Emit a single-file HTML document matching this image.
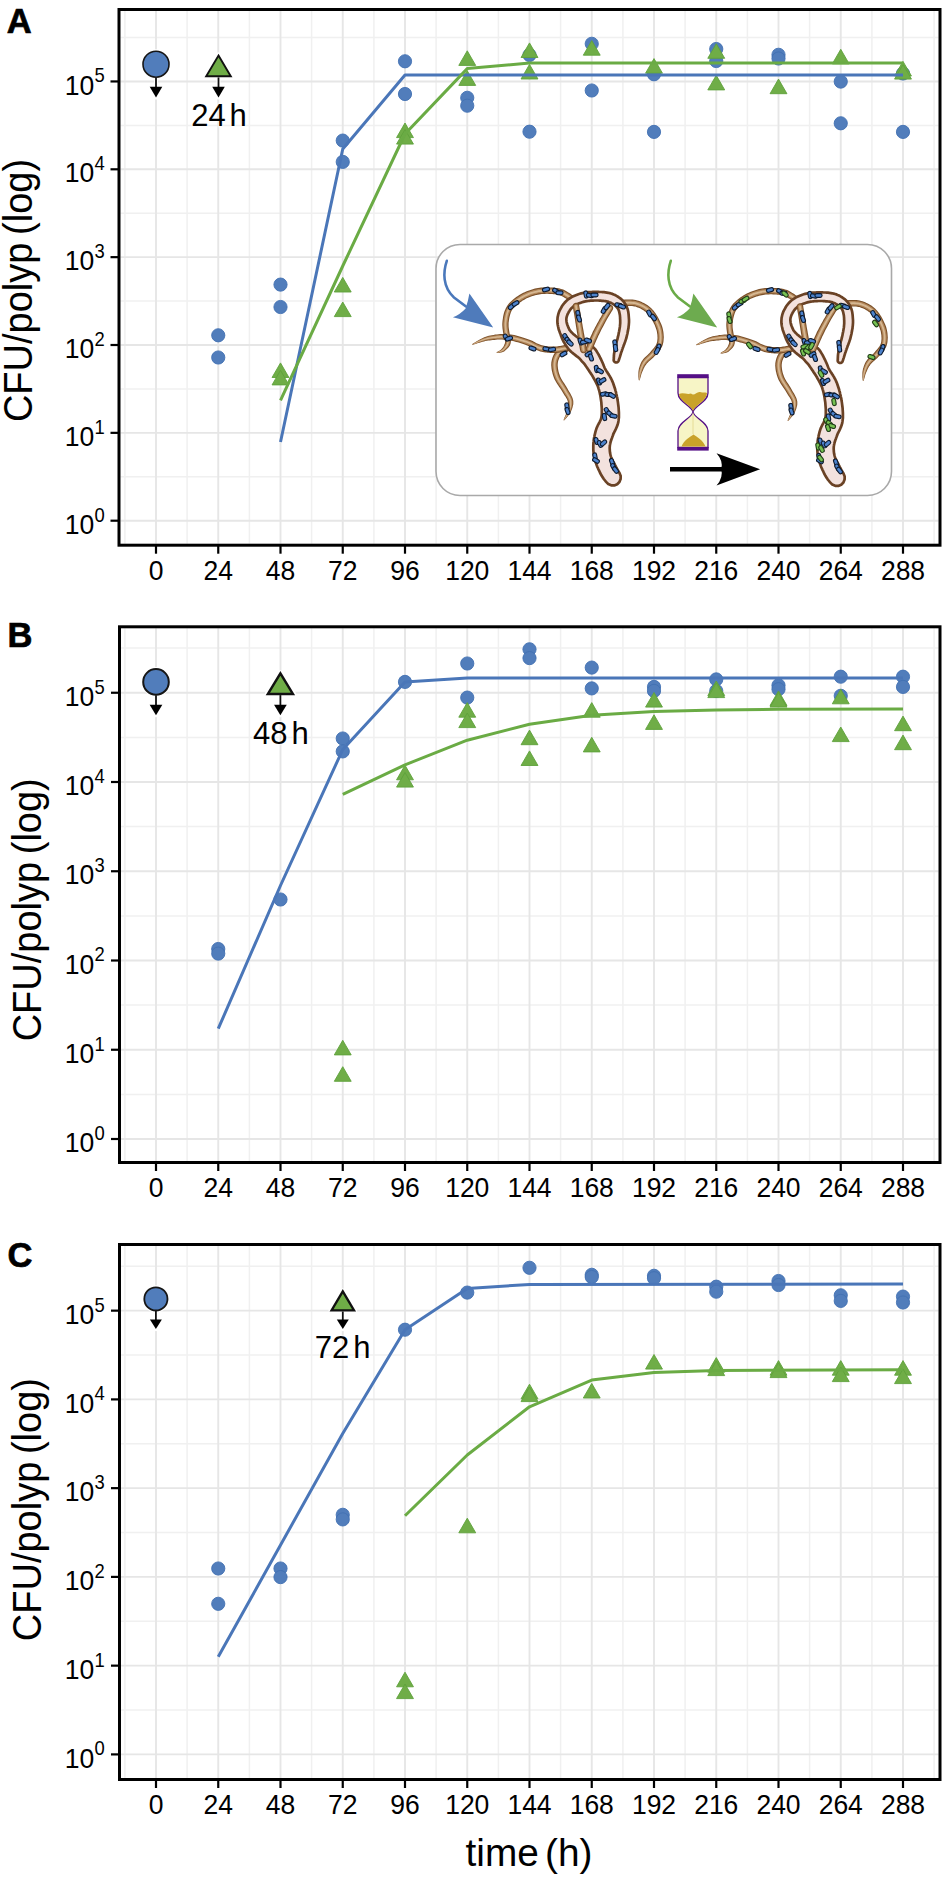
<!DOCTYPE html>
<html><head><meta charset="utf-8"><title>CFU/polyp over time</title>
<style>
html,body{margin:0;padding:0;background:#fff;}
body{width:945px;height:1878px;overflow:hidden;}
svg{display:block;font-family:"Liberation Sans",sans-serif;}
.gM{stroke:#e6e6e6;stroke-width:1.9;}
.gm{stroke:#f0f0f0;stroke-width:1.5;}
.pc{fill:#517dbb;stroke:#4270b2;stroke-width:0.9;}
.pt{fill:#6fad47;stroke:#5fa23b;stroke-width:0.9;stroke-linejoin:round;}
.yl{font-size:28.5px;fill:#000;}
.ys{font-size:19.8px;fill:#000;}
.xl{font-size:28.5px;fill:#000;}
.lt{fill:#000;stroke:#fff;stroke-width:2.5px;paint-order:stroke;stroke-opacity:0.6;}
.pl{font-size:34.5px;font-weight:bold;fill:#000;stroke:#000;stroke-width:0.7px;}
.yt{font-size:40px;fill:#000;}
.xt{font-size:38.8px;fill:#000;}
</style></head>
<body>
<svg width="945" height="1878" viewBox="0 0 945 1878">
<rect width="945" height="1878" fill="#fff"/>
<line x1="124.88" y1="11" x2="124.88" y2="543.7" class="gm"/>
<line x1="187.12" y1="11" x2="187.12" y2="543.7" class="gm"/>
<line x1="249.38" y1="11" x2="249.38" y2="543.7" class="gm"/>
<line x1="311.62" y1="11" x2="311.62" y2="543.7" class="gm"/>
<line x1="373.88" y1="11" x2="373.88" y2="543.7" class="gm"/>
<line x1="436.12" y1="11" x2="436.12" y2="543.7" class="gm"/>
<line x1="498.38" y1="11" x2="498.38" y2="543.7" class="gm"/>
<line x1="560.62" y1="11" x2="560.62" y2="543.7" class="gm"/>
<line x1="622.88" y1="11" x2="622.88" y2="543.7" class="gm"/>
<line x1="685.12" y1="11" x2="685.12" y2="543.7" class="gm"/>
<line x1="747.38" y1="11" x2="747.38" y2="543.7" class="gm"/>
<line x1="809.62" y1="11" x2="809.62" y2="543.7" class="gm"/>
<line x1="871.88" y1="11" x2="871.88" y2="543.7" class="gm"/>
<line x1="934.12" y1="11" x2="934.12" y2="543.7" class="gm"/>
<line x1="120.5" y1="476.78" x2="938.5" y2="476.78" class="gm"/>
<line x1="120.5" y1="388.93" x2="938.5" y2="388.93" class="gm"/>
<line x1="120.5" y1="301.08" x2="938.5" y2="301.08" class="gm"/>
<line x1="120.5" y1="213.23" x2="938.5" y2="213.23" class="gm"/>
<line x1="120.5" y1="125.38" x2="938.5" y2="125.38" class="gm"/>
<line x1="120.5" y1="37.53" x2="938.5" y2="37.53" class="gm"/>
<line x1="156" y1="11" x2="156" y2="543.7" class="gM"/>
<line x1="218.25" y1="11" x2="218.25" y2="543.7" class="gM"/>
<line x1="280.5" y1="11" x2="280.5" y2="543.7" class="gM"/>
<line x1="342.75" y1="11" x2="342.75" y2="543.7" class="gM"/>
<line x1="405" y1="11" x2="405" y2="543.7" class="gM"/>
<line x1="467.25" y1="11" x2="467.25" y2="543.7" class="gM"/>
<line x1="529.5" y1="11" x2="529.5" y2="543.7" class="gM"/>
<line x1="591.75" y1="11" x2="591.75" y2="543.7" class="gM"/>
<line x1="654" y1="11" x2="654" y2="543.7" class="gM"/>
<line x1="716.25" y1="11" x2="716.25" y2="543.7" class="gM"/>
<line x1="778.5" y1="11" x2="778.5" y2="543.7" class="gM"/>
<line x1="840.75" y1="11" x2="840.75" y2="543.7" class="gM"/>
<line x1="903" y1="11" x2="903" y2="543.7" class="gM"/>
<line x1="120.5" y1="520.7" x2="938.5" y2="520.7" class="gM"/>
<line x1="120.5" y1="432.85" x2="938.5" y2="432.85" class="gM"/>
<line x1="120.5" y1="345" x2="938.5" y2="345" class="gM"/>
<line x1="120.5" y1="257.15" x2="938.5" y2="257.15" class="gM"/>
<line x1="120.5" y1="169.3" x2="938.5" y2="169.3" class="gM"/>
<line x1="120.5" y1="81.45" x2="938.5" y2="81.45" class="gM"/>
<g class="leg">
<g fill="#fff" stroke="#fff" stroke-width="4" stroke-linejoin="round">
<line x1="156" y1="77.8" x2="156" y2="87.8"/>
<path d="M149.7 86.8 L162.3 86.8 L156 97.5 Z"/>
<circle cx="156" cy="64.2" r="13"/>
<line x1="218.5" y1="77.4" x2="218.5" y2="87.8"/>
<path d="M212.2 86.8 L224.8 86.8 L218.5 97.5 Z"/>
<path d="M218.5 55.5 L230.8 76.2 L206.2 76.2 Z" stroke-width="6"/>
</g>
<line x1="156" y1="77.8" x2="156" y2="87.8" stroke="#111" stroke-width="1.8"/>
<path d="M149.7 86.8 L162.3 86.8 L156 97.5 Z" fill="#000"/>
<circle cx="156" cy="64.2" r="13" fill="#517dbb" stroke="#161616" stroke-width="1.6"/>
<line x1="218.5" y1="77.4" x2="218.5" y2="87.8" stroke="#111" stroke-width="1.8"/>
<path d="M212.2 86.8 L224.8 86.8 L218.5 97.5 Z" fill="#000"/>
<path d="M218.5 55.5 L230.8 76.2 L206.2 76.2 Z" fill="#6fad47" stroke="#111" stroke-width="1.9" stroke-linejoin="miter"/>
<text x="191.2" y="126.4" class="lt" font-size="31">24</text>
<text x="229.5" y="126.4" class="lt" font-size="31">h</text>
</g>
<circle cx="218.25" cy="335.3" r="6.6" class="pc"/>
<circle cx="218.25" cy="357.5" r="6.6" class="pc"/>
<circle cx="280.5" cy="284.6" r="6.6" class="pc"/>
<circle cx="280.5" cy="307" r="6.6" class="pc"/>
<circle cx="342.75" cy="140.6" r="6.6" class="pc"/>
<circle cx="342.75" cy="161.9" r="6.6" class="pc"/>
<circle cx="405" cy="61.3" r="6.6" class="pc"/>
<circle cx="405" cy="94" r="6.6" class="pc"/>
<circle cx="467.25" cy="97.8" r="6.6" class="pc"/>
<circle cx="467.25" cy="105.7" r="6.6" class="pc"/>
<circle cx="529.5" cy="55" r="6.6" class="pc"/>
<circle cx="529.5" cy="131.7" r="6.6" class="pc"/>
<circle cx="591.75" cy="43.8" r="6.6" class="pc"/>
<circle cx="591.75" cy="90.5" r="6.6" class="pc"/>
<circle cx="654" cy="74.3" r="6.6" class="pc"/>
<circle cx="654" cy="131.9" r="6.6" class="pc"/>
<circle cx="716.25" cy="49" r="6.6" class="pc"/>
<circle cx="716.25" cy="61" r="6.6" class="pc"/>
<circle cx="778.5" cy="54.8" r="6.6" class="pc"/>
<circle cx="778.5" cy="58.5" r="6.6" class="pc"/>
<circle cx="840.75" cy="81.6" r="6.6" class="pc"/>
<circle cx="840.75" cy="123.3" r="6.6" class="pc"/>
<circle cx="903" cy="73.5" r="6.6" class="pc"/>
<circle cx="903" cy="131.9" r="6.6" class="pc"/>
<path d="M280.5 362.9 L288.95 377.5 L272.05 377.5 Z" class="pt"/>
<path d="M280.5 370.3 L288.95 384.9 L272.05 384.9 Z" class="pt"/>
<path d="M342.75 277.4 L351.2 292 L334.3 292 Z" class="pt"/>
<path d="M342.75 302 L351.2 316.6 L334.3 316.6 Z" class="pt"/>
<path d="M405 123 L413.45 137.6 L396.55 137.6 Z" class="pt"/>
<path d="M405 129.5 L413.45 144.1 L396.55 144.1 Z" class="pt"/>
<path d="M467.25 50.8 L475.7 65.4 L458.8 65.4 Z" class="pt"/>
<path d="M467.25 70.8 L475.7 85.4 L458.8 85.4 Z" class="pt"/>
<path d="M529.5 42.9 L537.95 57.5 L521.05 57.5 Z" class="pt"/>
<path d="M529.5 64.4 L537.95 79 L521.05 79 Z" class="pt"/>
<path d="M591.75 40.6 L600.2 55.2 L583.3 55.2 Z" class="pt"/>
<path d="M654 58.6 L662.45 73.2 L645.55 73.2 Z" class="pt"/>
<path d="M716.25 43.7 L724.7 58.3 L707.8 58.3 Z" class="pt"/>
<path d="M716.25 75.3 L724.7 89.9 L707.8 89.9 Z" class="pt"/>
<path d="M778.5 79.1 L786.95 93.7 L770.05 93.7 Z" class="pt"/>
<path d="M840.75 49.3 L849.2 63.9 L832.3 63.9 Z" class="pt"/>
<path d="M903 61.4 L911.45 76 L894.55 76 Z" class="pt"/>
<path d="M903 64.5 L911.45 79.1 L894.55 79.1 Z" class="pt"/>
<polyline points="280.5,442 342.75,149 405,75 903,75" fill="none" stroke="#4a76b8" stroke-width="3" stroke-linejoin="round"/>
<polyline points="280.5,400.4 342.75,266 405,134 467.25,68.6 529.5,63 903,63" fill="none" stroke="#6aab44" stroke-width="3" stroke-linejoin="round"/>
<rect x="119" y="9.5" width="821" height="535.7" fill="none" stroke="#000" stroke-width="3"/>
<line x1="110.5" y1="520.7" x2="119" y2="520.7" stroke="#000" stroke-width="2.2"/>
<text transform="translate(94.3 533.8) scale(0.93 1)" class="yl" text-anchor="end">10</text>
<text transform="translate(94.4 521.6) scale(0.93 1)" class="ys">0</text>
<line x1="110.5" y1="432.85" x2="119" y2="432.85" stroke="#000" stroke-width="2.2"/>
<text transform="translate(94.3 445.95) scale(0.93 1)" class="yl" text-anchor="end">10</text>
<text transform="translate(94.4 433.75) scale(0.93 1)" class="ys">1</text>
<line x1="110.5" y1="345" x2="119" y2="345" stroke="#000" stroke-width="2.2"/>
<text transform="translate(94.3 358.1) scale(0.93 1)" class="yl" text-anchor="end">10</text>
<text transform="translate(94.4 345.9) scale(0.93 1)" class="ys">2</text>
<line x1="110.5" y1="257.15" x2="119" y2="257.15" stroke="#000" stroke-width="2.2"/>
<text transform="translate(94.3 270.25) scale(0.93 1)" class="yl" text-anchor="end">10</text>
<text transform="translate(94.4 258.05) scale(0.93 1)" class="ys">3</text>
<line x1="110.5" y1="169.3" x2="119" y2="169.3" stroke="#000" stroke-width="2.2"/>
<text transform="translate(94.3 182.4) scale(0.93 1)" class="yl" text-anchor="end">10</text>
<text transform="translate(94.4 170.2) scale(0.93 1)" class="ys">4</text>
<line x1="110.5" y1="81.45" x2="119" y2="81.45" stroke="#000" stroke-width="2.2"/>
<text transform="translate(94.3 94.55) scale(0.93 1)" class="yl" text-anchor="end">10</text>
<text transform="translate(94.4 82.35) scale(0.93 1)" class="ys">5</text>
<line x1="156" y1="545.2" x2="156" y2="553.7" stroke="#000" stroke-width="2.2"/>
<text transform="translate(156 579.9) scale(0.93 1)" class="xl" text-anchor="middle">0</text>
<line x1="218.25" y1="545.2" x2="218.25" y2="553.7" stroke="#000" stroke-width="2.2"/>
<text transform="translate(218.25 579.9) scale(0.93 1)" class="xl" text-anchor="middle">24</text>
<line x1="280.5" y1="545.2" x2="280.5" y2="553.7" stroke="#000" stroke-width="2.2"/>
<text transform="translate(280.5 579.9) scale(0.93 1)" class="xl" text-anchor="middle">48</text>
<line x1="342.75" y1="545.2" x2="342.75" y2="553.7" stroke="#000" stroke-width="2.2"/>
<text transform="translate(342.75 579.9) scale(0.93 1)" class="xl" text-anchor="middle">72</text>
<line x1="405" y1="545.2" x2="405" y2="553.7" stroke="#000" stroke-width="2.2"/>
<text transform="translate(405 579.9) scale(0.93 1)" class="xl" text-anchor="middle">96</text>
<line x1="467.25" y1="545.2" x2="467.25" y2="553.7" stroke="#000" stroke-width="2.2"/>
<text transform="translate(467.25 579.9) scale(0.93 1)" class="xl" text-anchor="middle">120</text>
<line x1="529.5" y1="545.2" x2="529.5" y2="553.7" stroke="#000" stroke-width="2.2"/>
<text transform="translate(529.5 579.9) scale(0.93 1)" class="xl" text-anchor="middle">144</text>
<line x1="591.75" y1="545.2" x2="591.75" y2="553.7" stroke="#000" stroke-width="2.2"/>
<text transform="translate(591.75 579.9) scale(0.93 1)" class="xl" text-anchor="middle">168</text>
<line x1="654" y1="545.2" x2="654" y2="553.7" stroke="#000" stroke-width="2.2"/>
<text transform="translate(654 579.9) scale(0.93 1)" class="xl" text-anchor="middle">192</text>
<line x1="716.25" y1="545.2" x2="716.25" y2="553.7" stroke="#000" stroke-width="2.2"/>
<text transform="translate(716.25 579.9) scale(0.93 1)" class="xl" text-anchor="middle">216</text>
<line x1="778.5" y1="545.2" x2="778.5" y2="553.7" stroke="#000" stroke-width="2.2"/>
<text transform="translate(778.5 579.9) scale(0.93 1)" class="xl" text-anchor="middle">240</text>
<line x1="840.75" y1="545.2" x2="840.75" y2="553.7" stroke="#000" stroke-width="2.2"/>
<text transform="translate(840.75 579.9) scale(0.93 1)" class="xl" text-anchor="middle">264</text>
<line x1="903" y1="545.2" x2="903" y2="553.7" stroke="#000" stroke-width="2.2"/>
<text transform="translate(903 579.9) scale(0.93 1)" class="xl" text-anchor="middle">288</text>
<text x="6.8" y="32.8" class="pl">A</text>
<text transform="translate(31.8 290.5) rotate(-90) scale(0.95 1)" class="yt" text-anchor="middle">CFU/polyp <tspan dx="-3">(log)</tspan></text>
<line x1="124.88" y1="628.3" x2="124.88" y2="1161" class="gm"/>
<line x1="187.12" y1="628.3" x2="187.12" y2="1161" class="gm"/>
<line x1="249.38" y1="628.3" x2="249.38" y2="1161" class="gm"/>
<line x1="311.62" y1="628.3" x2="311.62" y2="1161" class="gm"/>
<line x1="373.88" y1="628.3" x2="373.88" y2="1161" class="gm"/>
<line x1="436.12" y1="628.3" x2="436.12" y2="1161" class="gm"/>
<line x1="498.38" y1="628.3" x2="498.38" y2="1161" class="gm"/>
<line x1="560.62" y1="628.3" x2="560.62" y2="1161" class="gm"/>
<line x1="622.88" y1="628.3" x2="622.88" y2="1161" class="gm"/>
<line x1="685.12" y1="628.3" x2="685.12" y2="1161" class="gm"/>
<line x1="747.38" y1="628.3" x2="747.38" y2="1161" class="gm"/>
<line x1="809.62" y1="628.3" x2="809.62" y2="1161" class="gm"/>
<line x1="871.88" y1="628.3" x2="871.88" y2="1161" class="gm"/>
<line x1="934.12" y1="628.3" x2="934.12" y2="1161" class="gm"/>
<line x1="121" y1="1094.38" x2="938.5" y2="1094.38" class="gm"/>
<line x1="121" y1="1005.12" x2="938.5" y2="1005.12" class="gm"/>
<line x1="121" y1="915.88" x2="938.5" y2="915.88" class="gm"/>
<line x1="121" y1="826.62" x2="938.5" y2="826.62" class="gm"/>
<line x1="121" y1="737.38" x2="938.5" y2="737.38" class="gm"/>
<line x1="121" y1="648.12" x2="938.5" y2="648.12" class="gm"/>
<line x1="156" y1="628.3" x2="156" y2="1161" class="gM"/>
<line x1="218.25" y1="628.3" x2="218.25" y2="1161" class="gM"/>
<line x1="280.5" y1="628.3" x2="280.5" y2="1161" class="gM"/>
<line x1="342.75" y1="628.3" x2="342.75" y2="1161" class="gM"/>
<line x1="405" y1="628.3" x2="405" y2="1161" class="gM"/>
<line x1="467.25" y1="628.3" x2="467.25" y2="1161" class="gM"/>
<line x1="529.5" y1="628.3" x2="529.5" y2="1161" class="gM"/>
<line x1="591.75" y1="628.3" x2="591.75" y2="1161" class="gM"/>
<line x1="654" y1="628.3" x2="654" y2="1161" class="gM"/>
<line x1="716.25" y1="628.3" x2="716.25" y2="1161" class="gM"/>
<line x1="778.5" y1="628.3" x2="778.5" y2="1161" class="gM"/>
<line x1="840.75" y1="628.3" x2="840.75" y2="1161" class="gM"/>
<line x1="903" y1="628.3" x2="903" y2="1161" class="gM"/>
<line x1="121" y1="1139" x2="938.5" y2="1139" class="gM"/>
<line x1="121" y1="1049.75" x2="938.5" y2="1049.75" class="gM"/>
<line x1="121" y1="960.5" x2="938.5" y2="960.5" class="gM"/>
<line x1="121" y1="871.25" x2="938.5" y2="871.25" class="gM"/>
<line x1="121" y1="782" x2="938.5" y2="782" class="gM"/>
<line x1="121" y1="692.75" x2="938.5" y2="692.75" class="gM"/>
<g class="leg">
<g fill="#fff" stroke="#fff" stroke-width="4" stroke-linejoin="round">
<line x1="156" y1="695.2" x2="156" y2="705.8"/>
<path d="M149.65 704.8 L162.35 704.8 L156 715.2 Z"/>
<circle cx="156" cy="681.9" r="12.8"/>
<line x1="280.4" y1="695.1" x2="280.4" y2="705.8"/>
<path d="M274.05 704.8 L286.75 704.8 L280.4 715.2 Z"/>
<path d="M280.4 673.3 L292.9 693.9 L267.9 693.9 Z" stroke-width="6"/>
</g>
<line x1="156" y1="695.2" x2="156" y2="705.8" stroke="#111" stroke-width="1.8"/>
<path d="M149.65 704.8 L162.35 704.8 L156 715.2 Z" fill="#000"/>
<circle cx="156" cy="681.9" r="12.8" fill="#517dbb" stroke="#161616" stroke-width="2.0"/>
<line x1="280.4" y1="695.1" x2="280.4" y2="705.8" stroke="#111" stroke-width="1.8"/>
<path d="M274.05 704.8 L286.75 704.8 L280.4 715.2 Z" fill="#000"/>
<path d="M280.4 673.3 L292.9 693.9 L267.9 693.9 Z" fill="#6fad47" stroke="#111" stroke-width="2.5" stroke-linejoin="miter"/>
<text x="253" y="743.7" class="lt" font-size="31">48</text>
<text x="291.4" y="743.7" class="lt" font-size="31">h</text>
</g>
<circle cx="218.25" cy="949" r="6.6" class="pc"/>
<circle cx="218.25" cy="953.6" r="6.6" class="pc"/>
<circle cx="280.5" cy="899.5" r="6.6" class="pc"/>
<circle cx="342.75" cy="738.5" r="6.6" class="pc"/>
<circle cx="342.75" cy="751.4" r="6.6" class="pc"/>
<circle cx="405" cy="681.9" r="6.6" class="pc"/>
<circle cx="467.25" cy="663.5" r="6.6" class="pc"/>
<circle cx="467.25" cy="697.6" r="6.6" class="pc"/>
<circle cx="529.5" cy="649.3" r="6.6" class="pc"/>
<circle cx="529.5" cy="658.1" r="6.6" class="pc"/>
<circle cx="591.75" cy="667.6" r="6.6" class="pc"/>
<circle cx="591.75" cy="688.4" r="6.6" class="pc"/>
<circle cx="654" cy="686.9" r="6.6" class="pc"/>
<circle cx="654" cy="690.9" r="6.6" class="pc"/>
<circle cx="716.25" cy="679.4" r="6.6" class="pc"/>
<circle cx="716.25" cy="690.9" r="6.6" class="pc"/>
<circle cx="778.5" cy="685.3" r="6.6" class="pc"/>
<circle cx="778.5" cy="689.2" r="6.6" class="pc"/>
<circle cx="840.75" cy="676.7" r="6.6" class="pc"/>
<circle cx="840.75" cy="695.8" r="6.6" class="pc"/>
<circle cx="903" cy="676.7" r="6.6" class="pc"/>
<circle cx="903" cy="686.9" r="6.6" class="pc"/>
<path d="M342.75 1040.3 L351.2 1054.9 L334.3 1054.9 Z" class="pt"/>
<path d="M342.75 1066.7 L351.2 1081.3 L334.3 1081.3 Z" class="pt"/>
<path d="M405 765.2 L413.45 779.8 L396.55 779.8 Z" class="pt"/>
<path d="M405 772.5 L413.45 787.1 L396.55 787.1 Z" class="pt"/>
<path d="M467.25 702.6 L475.7 717.2 L458.8 717.2 Z" class="pt"/>
<path d="M467.25 713 L475.7 727.6 L458.8 727.6 Z" class="pt"/>
<path d="M529.5 730.1 L537.95 744.7 L521.05 744.7 Z" class="pt"/>
<path d="M529.5 750.9 L537.95 765.5 L521.05 765.5 Z" class="pt"/>
<path d="M591.75 702.6 L600.2 717.2 L583.3 717.2 Z" class="pt"/>
<path d="M591.75 737.3 L600.2 751.9 L583.3 751.9 Z" class="pt"/>
<path d="M654 692.5 L662.45 707.1 L645.55 707.1 Z" class="pt"/>
<path d="M654 714.8 L662.45 729.4 L645.55 729.4 Z" class="pt"/>
<path d="M716.25 681 L724.7 695.6 L707.8 695.6 Z" class="pt"/>
<path d="M716.25 683 L724.7 697.6 L707.8 697.6 Z" class="pt"/>
<path d="M778.5 690.9 L786.95 705.5 L770.05 705.5 Z" class="pt"/>
<path d="M778.5 692.5 L786.95 707.1 L770.05 707.1 Z" class="pt"/>
<path d="M840.75 689.2 L849.2 703.8 L832.3 703.8 Z" class="pt"/>
<path d="M840.75 727 L849.2 741.6 L832.3 741.6 Z" class="pt"/>
<path d="M903 716.1 L911.45 730.7 L894.55 730.7 Z" class="pt"/>
<path d="M903 735.1 L911.45 749.7 L894.55 749.7 Z" class="pt"/>
<polyline points="218.25,1028.7 280.5,885.5 342.75,749.5 405,681.9 467.25,678 903,678" fill="none" stroke="#4a76b8" stroke-width="3" stroke-linejoin="round"/>
<polyline points="342.75,794.4 405,764.8 467.25,740.2 529.5,724.2 591.75,715.3 654,711.5 716.25,710 778.5,709.3 903,708.9" fill="none" stroke="#6aab44" stroke-width="3" stroke-linejoin="round"/>
<rect x="119.5" y="626.8" width="820.5" height="535.7" fill="none" stroke="#000" stroke-width="3"/>
<line x1="111" y1="1139" x2="119.5" y2="1139" stroke="#000" stroke-width="2.2"/>
<text transform="translate(94.3 1152.1) scale(0.93 1)" class="yl" text-anchor="end">10</text>
<text transform="translate(94.4 1139.9) scale(0.93 1)" class="ys">0</text>
<line x1="111" y1="1049.75" x2="119.5" y2="1049.75" stroke="#000" stroke-width="2.2"/>
<text transform="translate(94.3 1062.85) scale(0.93 1)" class="yl" text-anchor="end">10</text>
<text transform="translate(94.4 1050.65) scale(0.93 1)" class="ys">1</text>
<line x1="111" y1="960.5" x2="119.5" y2="960.5" stroke="#000" stroke-width="2.2"/>
<text transform="translate(94.3 973.6) scale(0.93 1)" class="yl" text-anchor="end">10</text>
<text transform="translate(94.4 961.4) scale(0.93 1)" class="ys">2</text>
<line x1="111" y1="871.25" x2="119.5" y2="871.25" stroke="#000" stroke-width="2.2"/>
<text transform="translate(94.3 884.35) scale(0.93 1)" class="yl" text-anchor="end">10</text>
<text transform="translate(94.4 872.15) scale(0.93 1)" class="ys">3</text>
<line x1="111" y1="782" x2="119.5" y2="782" stroke="#000" stroke-width="2.2"/>
<text transform="translate(94.3 795.1) scale(0.93 1)" class="yl" text-anchor="end">10</text>
<text transform="translate(94.4 782.9) scale(0.93 1)" class="ys">4</text>
<line x1="111" y1="692.75" x2="119.5" y2="692.75" stroke="#000" stroke-width="2.2"/>
<text transform="translate(94.3 705.85) scale(0.93 1)" class="yl" text-anchor="end">10</text>
<text transform="translate(94.4 693.65) scale(0.93 1)" class="ys">5</text>
<line x1="156" y1="1162.5" x2="156" y2="1171" stroke="#000" stroke-width="2.2"/>
<text transform="translate(156 1197.2) scale(0.93 1)" class="xl" text-anchor="middle">0</text>
<line x1="218.25" y1="1162.5" x2="218.25" y2="1171" stroke="#000" stroke-width="2.2"/>
<text transform="translate(218.25 1197.2) scale(0.93 1)" class="xl" text-anchor="middle">24</text>
<line x1="280.5" y1="1162.5" x2="280.5" y2="1171" stroke="#000" stroke-width="2.2"/>
<text transform="translate(280.5 1197.2) scale(0.93 1)" class="xl" text-anchor="middle">48</text>
<line x1="342.75" y1="1162.5" x2="342.75" y2="1171" stroke="#000" stroke-width="2.2"/>
<text transform="translate(342.75 1197.2) scale(0.93 1)" class="xl" text-anchor="middle">72</text>
<line x1="405" y1="1162.5" x2="405" y2="1171" stroke="#000" stroke-width="2.2"/>
<text transform="translate(405 1197.2) scale(0.93 1)" class="xl" text-anchor="middle">96</text>
<line x1="467.25" y1="1162.5" x2="467.25" y2="1171" stroke="#000" stroke-width="2.2"/>
<text transform="translate(467.25 1197.2) scale(0.93 1)" class="xl" text-anchor="middle">120</text>
<line x1="529.5" y1="1162.5" x2="529.5" y2="1171" stroke="#000" stroke-width="2.2"/>
<text transform="translate(529.5 1197.2) scale(0.93 1)" class="xl" text-anchor="middle">144</text>
<line x1="591.75" y1="1162.5" x2="591.75" y2="1171" stroke="#000" stroke-width="2.2"/>
<text transform="translate(591.75 1197.2) scale(0.93 1)" class="xl" text-anchor="middle">168</text>
<line x1="654" y1="1162.5" x2="654" y2="1171" stroke="#000" stroke-width="2.2"/>
<text transform="translate(654 1197.2) scale(0.93 1)" class="xl" text-anchor="middle">192</text>
<line x1="716.25" y1="1162.5" x2="716.25" y2="1171" stroke="#000" stroke-width="2.2"/>
<text transform="translate(716.25 1197.2) scale(0.93 1)" class="xl" text-anchor="middle">216</text>
<line x1="778.5" y1="1162.5" x2="778.5" y2="1171" stroke="#000" stroke-width="2.2"/>
<text transform="translate(778.5 1197.2) scale(0.93 1)" class="xl" text-anchor="middle">240</text>
<line x1="840.75" y1="1162.5" x2="840.75" y2="1171" stroke="#000" stroke-width="2.2"/>
<text transform="translate(840.75 1197.2) scale(0.93 1)" class="xl" text-anchor="middle">264</text>
<line x1="903" y1="1162.5" x2="903" y2="1171" stroke="#000" stroke-width="2.2"/>
<text transform="translate(903 1197.2) scale(0.93 1)" class="xl" text-anchor="middle">288</text>
<text x="7.4" y="647.1" class="pl">B</text>
<text transform="translate(41.4 909.8) rotate(-90) scale(0.95 1)" class="yt" text-anchor="middle">CFU/polyp <tspan dx="-3">(log)</tspan></text>
<line x1="124.88" y1="1246" x2="124.88" y2="1778" class="gm"/>
<line x1="187.12" y1="1246" x2="187.12" y2="1778" class="gm"/>
<line x1="249.38" y1="1246" x2="249.38" y2="1778" class="gm"/>
<line x1="311.62" y1="1246" x2="311.62" y2="1778" class="gm"/>
<line x1="373.88" y1="1246" x2="373.88" y2="1778" class="gm"/>
<line x1="436.12" y1="1246" x2="436.12" y2="1778" class="gm"/>
<line x1="498.38" y1="1246" x2="498.38" y2="1778" class="gm"/>
<line x1="560.62" y1="1246" x2="560.62" y2="1778" class="gm"/>
<line x1="622.88" y1="1246" x2="622.88" y2="1778" class="gm"/>
<line x1="685.12" y1="1246" x2="685.12" y2="1778" class="gm"/>
<line x1="747.38" y1="1246" x2="747.38" y2="1778" class="gm"/>
<line x1="809.62" y1="1246" x2="809.62" y2="1778" class="gm"/>
<line x1="871.88" y1="1246" x2="871.88" y2="1778" class="gm"/>
<line x1="934.12" y1="1246" x2="934.12" y2="1778" class="gm"/>
<line x1="121" y1="1710.03" x2="938.5" y2="1710.03" class="gm"/>
<line x1="121" y1="1621.28" x2="938.5" y2="1621.28" class="gm"/>
<line x1="121" y1="1532.53" x2="938.5" y2="1532.53" class="gm"/>
<line x1="121" y1="1443.78" x2="938.5" y2="1443.78" class="gm"/>
<line x1="121" y1="1355.03" x2="938.5" y2="1355.03" class="gm"/>
<line x1="121" y1="1266.28" x2="938.5" y2="1266.28" class="gm"/>
<line x1="156" y1="1246" x2="156" y2="1778" class="gM"/>
<line x1="218.25" y1="1246" x2="218.25" y2="1778" class="gM"/>
<line x1="280.5" y1="1246" x2="280.5" y2="1778" class="gM"/>
<line x1="342.75" y1="1246" x2="342.75" y2="1778" class="gM"/>
<line x1="405" y1="1246" x2="405" y2="1778" class="gM"/>
<line x1="467.25" y1="1246" x2="467.25" y2="1778" class="gM"/>
<line x1="529.5" y1="1246" x2="529.5" y2="1778" class="gM"/>
<line x1="591.75" y1="1246" x2="591.75" y2="1778" class="gM"/>
<line x1="654" y1="1246" x2="654" y2="1778" class="gM"/>
<line x1="716.25" y1="1246" x2="716.25" y2="1778" class="gM"/>
<line x1="778.5" y1="1246" x2="778.5" y2="1778" class="gM"/>
<line x1="840.75" y1="1246" x2="840.75" y2="1778" class="gM"/>
<line x1="903" y1="1246" x2="903" y2="1778" class="gM"/>
<line x1="121" y1="1754.4" x2="938.5" y2="1754.4" class="gM"/>
<line x1="121" y1="1665.65" x2="938.5" y2="1665.65" class="gM"/>
<line x1="121" y1="1576.9" x2="938.5" y2="1576.9" class="gM"/>
<line x1="121" y1="1488.15" x2="938.5" y2="1488.15" class="gM"/>
<line x1="121" y1="1399.4" x2="938.5" y2="1399.4" class="gM"/>
<line x1="121" y1="1310.65" x2="938.5" y2="1310.65" class="gM"/>
<g class="leg">
<g fill="#fff" stroke="#fff" stroke-width="4" stroke-linejoin="round">
<line x1="155.9" y1="1310.7" x2="155.9" y2="1320.5"/>
<path d="M149.9 1319.5 L161.9 1319.5 L155.9 1329.1 Z"/>
<circle cx="155.9" cy="1298.9" r="11.6"/>
<line x1="342.8" y1="1311.5" x2="342.8" y2="1320.5"/>
<path d="M336.8 1319.5 L348.8 1319.5 L342.8 1329.1 Z"/>
<path d="M342.8 1291.3 L354.05 1310.3 L331.55 1310.3 Z" stroke-width="6"/>
</g>
<line x1="155.9" y1="1310.7" x2="155.9" y2="1320.5" stroke="#111" stroke-width="1.8"/>
<path d="M149.9 1319.5 L161.9 1319.5 L155.9 1329.1 Z" fill="#000"/>
<circle cx="155.9" cy="1298.9" r="11.6" fill="#517dbb" stroke="#161616" stroke-width="1.8"/>
<line x1="342.8" y1="1311.5" x2="342.8" y2="1320.5" stroke="#111" stroke-width="1.8"/>
<path d="M336.8 1319.5 L348.8 1319.5 L342.8 1329.1 Z" fill="#000"/>
<path d="M342.8 1291.3 L354.05 1310.3 L331.55 1310.3 Z" fill="#6fad47" stroke="#111" stroke-width="2.3" stroke-linejoin="miter"/>
<text x="314.8" y="1358.1" class="lt" font-size="31">72</text>
<text x="353.3" y="1358.1" class="lt" font-size="31">h</text>
</g>
<circle cx="218.25" cy="1568.5" r="6.6" class="pc"/>
<circle cx="218.25" cy="1603.8" r="6.6" class="pc"/>
<circle cx="280.5" cy="1568.5" r="6.6" class="pc"/>
<circle cx="280.5" cy="1577.1" r="6.6" class="pc"/>
<circle cx="342.75" cy="1514.8" r="6.6" class="pc"/>
<circle cx="342.75" cy="1519.4" r="6.6" class="pc"/>
<circle cx="405" cy="1329.7" r="6.6" class="pc"/>
<circle cx="467.25" cy="1292.6" r="6.6" class="pc"/>
<circle cx="529.5" cy="1267.8" r="6.6" class="pc"/>
<circle cx="591.75" cy="1274.8" r="6.6" class="pc"/>
<circle cx="591.75" cy="1277" r="6.6" class="pc"/>
<circle cx="654" cy="1275.8" r="6.6" class="pc"/>
<circle cx="654" cy="1278.2" r="6.6" class="pc"/>
<circle cx="716.25" cy="1286.7" r="6.6" class="pc"/>
<circle cx="716.25" cy="1291.7" r="6.6" class="pc"/>
<circle cx="778.5" cy="1281" r="6.6" class="pc"/>
<circle cx="778.5" cy="1285" r="6.6" class="pc"/>
<circle cx="840.75" cy="1295.3" r="6.6" class="pc"/>
<circle cx="840.75" cy="1300.9" r="6.6" class="pc"/>
<circle cx="903" cy="1296.6" r="6.6" class="pc"/>
<circle cx="903" cy="1302.5" r="6.6" class="pc"/>
<path d="M405 1672.2 L413.45 1686.8 L396.55 1686.8 Z" class="pt"/>
<path d="M405 1684 L413.45 1698.6 L396.55 1698.6 Z" class="pt"/>
<path d="M467.25 1518.2 L475.7 1532.8 L458.8 1532.8 Z" class="pt"/>
<path d="M529.5 1384.2 L537.95 1398.8 L521.05 1398.8 Z" class="pt"/>
<path d="M529.5 1387 L537.95 1401.6 L521.05 1401.6 Z" class="pt"/>
<path d="M591.75 1383.4 L600.2 1398 L583.3 1398 Z" class="pt"/>
<path d="M654 1354.5 L662.45 1369.1 L645.55 1369.1 Z" class="pt"/>
<path d="M716.25 1357.6 L724.7 1372.2 L707.8 1372.2 Z" class="pt"/>
<path d="M716.25 1361 L724.7 1375.6 L707.8 1375.6 Z" class="pt"/>
<path d="M778.5 1360.6 L786.95 1375.2 L770.05 1375.2 Z" class="pt"/>
<path d="M778.5 1363 L786.95 1377.6 L770.05 1377.6 Z" class="pt"/>
<path d="M840.75 1360.6 L849.2 1375.2 L832.3 1375.2 Z" class="pt"/>
<path d="M840.75 1367 L849.2 1381.6 L832.3 1381.6 Z" class="pt"/>
<path d="M903 1360.6 L911.45 1375.2 L894.55 1375.2 Z" class="pt"/>
<path d="M903 1369 L911.45 1383.6 L894.55 1383.6 Z" class="pt"/>
<polyline points="218.25,1656.8 342.75,1433.4 405,1329.7 467.25,1288.5 529.5,1284.4 903,1284" fill="none" stroke="#4a76b8" stroke-width="3" stroke-linejoin="round"/>
<polyline points="405,1515.7 467.25,1455 529.5,1406.8 591.75,1380.1 654,1372.4 716.25,1370.5 903,1369.7" fill="none" stroke="#6aab44" stroke-width="3" stroke-linejoin="round"/>
<rect x="119.5" y="1244.5" width="820.5" height="535" fill="none" stroke="#000" stroke-width="3"/>
<line x1="111" y1="1754.4" x2="119.5" y2="1754.4" stroke="#000" stroke-width="2.2"/>
<text transform="translate(94.3 1767.5) scale(0.93 1)" class="yl" text-anchor="end">10</text>
<text transform="translate(94.4 1755.3) scale(0.93 1)" class="ys">0</text>
<line x1="111" y1="1665.65" x2="119.5" y2="1665.65" stroke="#000" stroke-width="2.2"/>
<text transform="translate(94.3 1678.75) scale(0.93 1)" class="yl" text-anchor="end">10</text>
<text transform="translate(94.4 1666.55) scale(0.93 1)" class="ys">1</text>
<line x1="111" y1="1576.9" x2="119.5" y2="1576.9" stroke="#000" stroke-width="2.2"/>
<text transform="translate(94.3 1590) scale(0.93 1)" class="yl" text-anchor="end">10</text>
<text transform="translate(94.4 1577.8) scale(0.93 1)" class="ys">2</text>
<line x1="111" y1="1488.15" x2="119.5" y2="1488.15" stroke="#000" stroke-width="2.2"/>
<text transform="translate(94.3 1501.25) scale(0.93 1)" class="yl" text-anchor="end">10</text>
<text transform="translate(94.4 1489.05) scale(0.93 1)" class="ys">3</text>
<line x1="111" y1="1399.4" x2="119.5" y2="1399.4" stroke="#000" stroke-width="2.2"/>
<text transform="translate(94.3 1412.5) scale(0.93 1)" class="yl" text-anchor="end">10</text>
<text transform="translate(94.4 1400.3) scale(0.93 1)" class="ys">4</text>
<line x1="111" y1="1310.65" x2="119.5" y2="1310.65" stroke="#000" stroke-width="2.2"/>
<text transform="translate(94.3 1323.75) scale(0.93 1)" class="yl" text-anchor="end">10</text>
<text transform="translate(94.4 1311.55) scale(0.93 1)" class="ys">5</text>
<line x1="156" y1="1779.5" x2="156" y2="1788" stroke="#000" stroke-width="2.2"/>
<text transform="translate(156 1814.2) scale(0.93 1)" class="xl" text-anchor="middle">0</text>
<line x1="218.25" y1="1779.5" x2="218.25" y2="1788" stroke="#000" stroke-width="2.2"/>
<text transform="translate(218.25 1814.2) scale(0.93 1)" class="xl" text-anchor="middle">24</text>
<line x1="280.5" y1="1779.5" x2="280.5" y2="1788" stroke="#000" stroke-width="2.2"/>
<text transform="translate(280.5 1814.2) scale(0.93 1)" class="xl" text-anchor="middle">48</text>
<line x1="342.75" y1="1779.5" x2="342.75" y2="1788" stroke="#000" stroke-width="2.2"/>
<text transform="translate(342.75 1814.2) scale(0.93 1)" class="xl" text-anchor="middle">72</text>
<line x1="405" y1="1779.5" x2="405" y2="1788" stroke="#000" stroke-width="2.2"/>
<text transform="translate(405 1814.2) scale(0.93 1)" class="xl" text-anchor="middle">96</text>
<line x1="467.25" y1="1779.5" x2="467.25" y2="1788" stroke="#000" stroke-width="2.2"/>
<text transform="translate(467.25 1814.2) scale(0.93 1)" class="xl" text-anchor="middle">120</text>
<line x1="529.5" y1="1779.5" x2="529.5" y2="1788" stroke="#000" stroke-width="2.2"/>
<text transform="translate(529.5 1814.2) scale(0.93 1)" class="xl" text-anchor="middle">144</text>
<line x1="591.75" y1="1779.5" x2="591.75" y2="1788" stroke="#000" stroke-width="2.2"/>
<text transform="translate(591.75 1814.2) scale(0.93 1)" class="xl" text-anchor="middle">168</text>
<line x1="654" y1="1779.5" x2="654" y2="1788" stroke="#000" stroke-width="2.2"/>
<text transform="translate(654 1814.2) scale(0.93 1)" class="xl" text-anchor="middle">192</text>
<line x1="716.25" y1="1779.5" x2="716.25" y2="1788" stroke="#000" stroke-width="2.2"/>
<text transform="translate(716.25 1814.2) scale(0.93 1)" class="xl" text-anchor="middle">216</text>
<line x1="778.5" y1="1779.5" x2="778.5" y2="1788" stroke="#000" stroke-width="2.2"/>
<text transform="translate(778.5 1814.2) scale(0.93 1)" class="xl" text-anchor="middle">240</text>
<line x1="840.75" y1="1779.5" x2="840.75" y2="1788" stroke="#000" stroke-width="2.2"/>
<text transform="translate(840.75 1814.2) scale(0.93 1)" class="xl" text-anchor="middle">264</text>
<line x1="903" y1="1779.5" x2="903" y2="1788" stroke="#000" stroke-width="2.2"/>
<text transform="translate(903 1814.2) scale(0.93 1)" class="xl" text-anchor="middle">288</text>
<text x="7.4" y="1267.1" class="pl">C</text>
<text transform="translate(41.4 1509.6) rotate(-90) scale(0.95 1)" class="yt" text-anchor="middle">CFU/polyp <tspan dx="-3">(log)</tspan></text>
<text x="465.5" y="1866" class="xt">time</text>
<text x="545" y="1866" class="xt">(h)</text>
<rect x="436" y="244.5" width="455.5" height="251" rx="24" ry="24" fill="#fff" stroke="#a9a9a9" stroke-width="1.6"/>
<g>
<path d="M564.4 346.2 L564.1 346.4 L563.7 346.6 L563.1 346.8 L562.4 347.2 L561.6 347.6 L560.7 348.0 L559.8 348.5 L558.9 349.0 L558.0 349.6 L557.1 350.3 L556.2 351.1 L555.5 352.0 L554.8 352.8 L554.3 353.7 L553.8 354.5 L553.3 355.5 L552.9 356.4 L552.5 357.4 L552.2 358.4 L551.9 359.5 L551.7 360.5 L551.5 361.6 L551.3 362.7 L551.3 363.9 L551.2 365.0 L551.3 366.1 L551.4 367.3 L551.5 368.5 L551.7 369.7 L551.9 370.9 L552.2 372.1 L552.5 373.4 L552.8 374.6 L553.2 375.8 L553.6 377.0 L554.1 378.2 L554.6 379.4 L555.2 380.6 L555.9 381.8 L556.6 383.0 L557.4 384.2 L558.1 385.3 L558.9 386.4 L559.6 387.5 L560.3 388.6 L561.0 389.6 L561.6 390.5 L562.2 391.5 L562.8 392.5 L563.4 393.5 L564.0 394.5 L564.6 395.4 L565.2 396.3 L565.7 397.1 L566.2 398.0 L566.7 398.7 L567.1 399.5 L567.4 400.2 L567.6 400.9 L567.8 401.5 L568.0 402.2 L568.1 402.9 L568.2 403.5 L568.2 404.2 L568.2 404.9 L568.1 405.7 L568.0 406.4 L567.9 407.2 L567.7 408.0 L567.5 408.8 L567.3 409.5 L567.1 410.3 L567.0 411.1 L566.7 411.9 L566.5 412.8 L566.1 413.7 L565.8 414.6 L565.4 415.5 L565.0 416.4 L564.6 417.2 L564.3 418.0 L564.0 418.7 L563.8 419.3 L563.7 419.8 L563.6 419.9 L563.6 420.1 L563.7 420.2 L563.8 420.3 L563.9 420.4 L564.1 420.4 L564.2 420.3 L564.3 420.2 L564.7 419.8 L565.1 419.4 L565.7 418.8 L566.2 418.2 L566.8 417.5 L567.4 416.7 L568.1 415.9 L568.7 415.1 L569.3 414.3 L569.9 413.4 L570.4 412.5 L570.9 411.7 L571.2 410.9 L571.6 410.1 L571.9 409.2 L572.2 408.4 L572.5 407.5 L572.7 406.6 L573.0 405.6 L573.2 404.7 L573.3 403.7 L573.3 402.6 L573.3 401.6 L573.2 400.5 L572.9 399.4 L572.6 398.3 L572.2 397.2 L571.7 396.2 L571.2 395.2 L570.7 394.2 L570.2 393.3 L569.6 392.3 L569.0 391.4 L568.5 390.4 L567.9 389.5 L567.4 388.5 L566.8 387.4 L566.1 386.3 L565.4 385.2 L564.7 384.1 L564.0 383.0 L563.3 381.9 L562.6 380.9 L561.9 379.8 L561.3 378.8 L560.8 377.7 L560.3 376.8 L559.9 375.8 L559.6 374.8 L559.2 373.8 L558.9 372.8 L558.6 371.8 L558.4 370.7 L558.2 369.7 L558.0 368.7 L557.9 367.7 L557.8 366.8 L557.7 365.8 L557.7 365.0 L557.7 364.1 L557.8 363.4 L557.9 362.6 L558.0 361.8 L558.2 361.1 L558.4 360.3 L558.7 359.6 L558.9 358.9 L559.2 358.2 L559.5 357.6 L559.9 357.0 L560.2 356.5 L560.5 356.0 L560.8 355.7 L561.2 355.3 L561.8 354.9 L562.4 354.5 L563.0 354.1 L563.7 353.8 L564.4 353.4 L565.2 353.0 L565.8 352.7 L566.5 352.4 L567.1 352.1 L567.6 351.8 L568.6 351.0 L569.1 349.9 L569.2 348.6 L568.8 347.4 L568.0 346.4 L566.9 345.9 L565.6 345.8 Z" fill="#7b5029"/><path d="M564.9 347.1 L564.6 347.3 L564.1 347.6 L563.5 347.8 L562.8 348.2 L562.1 348.6 L561.2 349.0 L560.4 349.4 L559.5 350.0 L558.6 350.5 L557.8 351.2 L557.0 351.9 L556.3 352.7 L555.8 353.4 L555.3 354.2 L554.8 355.1 L554.3 355.9 L553.9 356.8 L553.6 357.8 L553.3 358.7 L553.0 359.7 L552.7 360.7 L552.6 361.8 L552.4 362.8 L552.4 363.9 L552.3 365.0 L552.4 366.1 L552.5 367.2 L552.6 368.4 L552.8 369.5 L553.0 370.7 L553.2 371.9 L553.5 373.1 L553.9 374.3 L554.2 375.4 L554.6 376.6 L555.1 377.8 L555.6 379.0 L556.2 380.1 L556.8 381.3 L557.5 382.5 L558.3 383.6 L559.0 384.7 L559.7 385.8 L560.5 386.9 L561.2 388.0 L561.9 389.0 L562.5 390.0 L563.1 391.0 L563.7 392.0 L564.3 393.0 L564.9 393.9 L565.5 394.9 L566.1 395.8 L566.6 396.6 L567.1 397.5 L567.5 398.3 L567.9 399.1 L568.3 399.9 L568.5 400.6 L568.7 401.4 L568.9 402.1 L569.0 402.8 L569.0 403.5 L569.0 404.3 L569.0 405.1 L568.9 405.8 L568.8 406.6 L568.6 407.4 L568.4 408.2 L568.2 409.0 L568.0 409.8 L567.8 410.6 L567.6 411.3 L567.3 412.2 L566.9 413.0 L566.6 413.9 L566.2 414.8 L565.7 415.7 L565.3 416.6 L564.9 417.4 L564.5 418.1 L564.2 418.8 L564.0 419.4 L563.8 419.9 L563.7 420.0 L563.7 420.1 L563.8 420.2 L563.9 420.2 L564.0 420.3 L564.1 420.3 L564.2 420.2 L564.2 420.1 L564.6 419.8 L565.0 419.3 L565.4 418.7 L565.9 418.0 L566.5 417.3 L567.1 416.5 L567.7 415.7 L568.3 414.9 L568.8 414.0 L569.3 413.2 L569.8 412.3 L570.2 411.4 L570.6 410.6 L570.9 409.8 L571.2 409.0 L571.5 408.2 L571.7 407.3 L572.0 406.4 L572.2 405.5 L572.3 404.6 L572.4 403.6 L572.4 402.7 L572.4 401.7 L572.3 400.6 L572.0 399.6 L571.7 398.6 L571.3 397.6 L570.9 396.6 L570.4 395.7 L569.9 394.7 L569.3 393.8 L568.8 392.8 L568.2 391.9 L567.6 390.9 L567.1 390.0 L566.5 389.0 L565.9 388.0 L565.2 386.9 L564.5 385.8 L563.8 384.7 L563.1 383.6 L562.4 382.5 L561.7 381.4 L561.0 380.3 L560.4 379.3 L559.8 378.2 L559.3 377.2 L558.9 376.2 L558.5 375.2 L558.2 374.2 L557.9 373.1 L557.6 372.0 L557.3 371.0 L557.1 369.9 L556.9 368.9 L556.8 367.8 L556.7 366.9 L556.6 365.9 L556.6 365.0 L556.6 364.1 L556.7 363.3 L556.8 362.4 L557.0 361.6 L557.1 360.8 L557.4 360.0 L557.6 359.2 L557.9 358.5 L558.2 357.8 L558.6 357.1 L558.9 356.5 L559.3 355.9 L559.7 355.3 L560.1 354.9 L560.5 354.5 L561.1 354.0 L561.8 353.6 L562.5 353.2 L563.2 352.8 L564.0 352.4 L564.7 352.0 L565.4 351.7 L566.0 351.4 L566.6 351.1 L567.1 350.9 L567.7 350.3 L568.1 349.6 L568.1 348.7 L567.9 347.9 L567.3 347.3 L566.6 346.9 L565.7 346.9 Z" fill="#b3875a"/><path d="M565.6 348.2 L565.2 348.4 L564.7 348.7 L564.1 349.0 L563.4 349.3 L562.6 349.7 L561.8 350.1 L561.0 350.5 L560.1 351.0 L559.3 351.5 L558.6 352.1 L557.9 352.8 L557.3 353.4 L556.8 354.1 L556.3 354.9 L555.9 355.6 L555.5 356.5 L555.1 357.3 L554.7 358.2 L554.4 359.1 L554.2 360.0 L554.0 361.0 L553.8 362.0 L553.7 363.0 L553.6 364.0 L553.6 365.0 L553.6 366.0 L553.7 367.1 L553.8 368.2 L554.0 369.3 L554.2 370.5 L554.4 371.6 L554.7 372.8 L555.0 373.9 L555.4 375.1 L555.8 376.2 L556.2 377.3 L556.7 378.5 L557.2 379.6 L557.9 380.7 L558.5 381.9 L559.3 383.0 L560.0 384.1 L560.7 385.2 L561.4 386.3 L562.2 387.4 L562.8 388.4 L563.5 389.4 L564.1 390.4 L564.7 391.4 L565.2 392.4 L565.8 393.3 L566.4 394.3 L567.0 395.2 L567.5 396.1 L568.0 397.0 L568.5 397.8 L568.9 398.7 L569.3 399.5 L569.5 400.3 L569.7 401.2 L569.9 402.0 L570.0 402.8 L570.0 403.6 L570.0 404.4 L569.9 405.2 L569.8 406.0 L569.6 406.8 L569.4 407.6 L569.2 408.4 L569.0 409.2 L568.7 410.0 L568.5 410.8 L568.2 411.6 L567.9 412.5 L567.5 413.3 L567.0 414.2 L566.6 415.1 L566.1 416.0 L565.7 416.8 L565.2 417.6 L564.8 418.3 L564.4 418.9 L564.1 419.5 L563.9 419.9 L563.9 420.0 L563.9 420.0 L563.9 420.1 L563.9 420.1 L564.0 420.1 L564.0 420.1 L564.1 420.1 L564.1 420.1 L564.4 419.6 L564.7 419.1 L565.2 418.5 L565.6 417.8 L566.2 417.1 L566.7 416.3 L567.2 415.5 L567.8 414.6 L568.3 413.7 L568.8 412.9 L569.2 412.0 L569.5 411.2 L569.8 410.4 L570.1 409.6 L570.4 408.8 L570.6 407.9 L570.9 407.1 L571.1 406.3 L571.2 405.4 L571.4 404.5 L571.4 403.6 L571.4 402.7 L571.4 401.8 L571.3 400.8 L571.0 399.9 L570.7 399.0 L570.4 398.0 L569.9 397.1 L569.4 396.2 L568.9 395.3 L568.4 394.4 L567.8 393.4 L567.2 392.5 L566.7 391.5 L566.1 390.6 L565.5 389.6 L564.9 388.6 L564.3 387.5 L563.6 386.4 L562.9 385.3 L562.1 384.2 L561.4 383.2 L560.7 382.1 L560.0 381.0 L559.4 379.9 L558.8 378.8 L558.3 377.7 L557.8 376.7 L557.4 375.6 L557.1 374.5 L556.7 373.4 L556.4 372.3 L556.2 371.2 L555.9 370.1 L555.7 369.1 L555.6 368.0 L555.5 367.0 L555.4 366.0 L555.4 365.0 L555.4 364.0 L555.5 363.1 L555.6 362.2 L555.7 361.4 L555.9 360.5 L556.2 359.6 L556.5 358.8 L556.8 358.0 L557.1 357.2 L557.5 356.5 L557.9 355.8 L558.3 355.2 L558.7 354.6 L559.2 354.0 L559.7 353.5 L560.4 353.0 L561.1 352.5 L561.9 352.1 L562.6 351.7 L563.4 351.3 L564.2 350.9 L564.8 350.6 L565.5 350.3 L566.0 350.0 L566.4 349.8 L566.7 349.6 L566.9 349.2 L566.9 348.9 L566.8 348.6 L566.6 348.3 L566.2 348.1 L565.9 348.1 Z" fill="#dcc19e" opacity="0.85"/>
<path d="M472.8 344.7 L473.5 344.5 L474.5 344.3 L475.6 343.9 L476.8 343.5 L478.1 343.1 L479.5 342.7 L481.0 342.2 L482.5 341.8 L484.0 341.4 L485.4 341.0 L486.9 340.8 L488.3 340.6 L489.7 340.4 L491.2 340.2 L492.7 340.0 L494.2 339.9 L495.8 339.7 L497.4 339.6 L498.9 339.6 L500.5 339.6 L502.1 339.6 L503.7 339.7 L505.2 339.8 L506.7 340.0 L508.2 340.2 L509.8 340.4 L511.4 340.7 L513.0 341.0 L514.6 341.4 L516.2 341.9 L517.8 342.3 L519.4 342.8 L520.9 343.3 L522.5 343.8 L523.9 344.3 L525.3 344.7 L526.5 345.2 L527.7 345.7 L528.8 346.2 L529.9 346.7 L530.9 347.3 L532.0 347.9 L533.1 348.5 L534.2 349.0 L535.4 349.6 L536.6 350.1 L537.8 350.6 L539.1 351.1 L540.3 351.4 L541.6 351.7 L542.8 352.0 L544.0 352.2 L545.3 352.4 L546.5 352.6 L547.7 352.7 L549.0 352.8 L550.2 352.9 L551.4 353.0 L552.6 353.0 L553.8 353.0 L555.1 353.0 L556.3 352.9 L557.6 352.8 L558.8 352.7 L560.0 352.5 L561.2 352.3 L562.4 352.1 L563.6 351.9 L564.8 351.7 L566.0 351.5 L567.1 351.2 L568.2 351.0 L569.4 350.7 L570.7 350.4 L571.9 350.0 L573.2 349.6 L574.4 349.3 L575.6 348.9 L576.8 348.5 L577.8 348.1 L578.8 347.8 L579.7 347.5 L580.4 347.3 L581.0 347.1 L582.1 346.5 L582.9 345.5 L583.2 344.3 L583.1 343.0 L582.5 341.9 L581.5 341.1 L580.3 340.8 L579.0 340.9 L578.4 341.1 L577.6 341.3 L576.8 341.6 L575.8 342.0 L574.7 342.3 L573.6 342.7 L572.5 343.1 L571.3 343.4 L570.1 343.8 L568.9 344.1 L567.8 344.4 L566.8 344.6 L565.7 344.9 L564.6 345.1 L563.5 345.3 L562.4 345.6 L561.3 345.8 L560.2 346.0 L559.1 346.1 L558.0 346.3 L556.9 346.4 L555.9 346.5 L554.8 346.6 L553.8 346.6 L552.7 346.6 L551.6 346.6 L550.5 346.5 L549.5 346.5 L548.4 346.4 L547.3 346.2 L546.2 346.1 L545.2 345.9 L544.1 345.7 L543.0 345.5 L542.0 345.2 L540.9 344.9 L539.9 344.6 L539.0 344.3 L538.0 343.8 L537.1 343.4 L536.0 342.9 L535.0 342.3 L533.9 341.7 L532.7 341.1 L531.5 340.5 L530.1 339.9 L528.8 339.4 L527.3 338.9 L525.9 338.4 L524.4 337.9 L522.8 337.4 L521.2 336.9 L519.5 336.4 L517.8 336.0 L516.1 335.5 L514.3 335.1 L512.5 334.8 L510.8 334.4 L509.0 334.2 L507.3 334.0 L505.5 334.0 L503.8 333.9 L502.1 334.0 L500.4 334.1 L498.6 334.2 L496.9 334.4 L495.2 334.6 L493.6 334.9 L492.0 335.2 L490.4 335.5 L488.8 335.8 L487.3 336.2 L485.8 336.7 L484.3 337.3 L482.8 338.0 L481.3 338.7 L479.8 339.5 L478.5 340.2 L477.2 341.0 L476.0 341.7 L474.9 342.4 L473.9 343.0 L473.1 343.5 L472.4 343.9 L472.3 344.0 L472.2 344.1 L472.2 344.3 L472.2 344.5 L472.3 344.6 L472.4 344.7 L472.6 344.7 Z" fill="#7b5029"/><path d="M472.7 344.5 L473.5 344.3 L474.4 344.0 L475.5 343.7 L476.7 343.2 L478.0 342.7 L479.3 342.2 L480.8 341.7 L482.3 341.3 L483.8 340.8 L485.2 340.4 L486.7 340.1 L488.1 339.8 L489.5 339.6 L491.0 339.4 L492.6 339.2 L494.1 339.0 L495.7 338.9 L497.3 338.8 L498.9 338.7 L500.5 338.7 L502.1 338.7 L503.7 338.7 L505.3 338.8 L506.8 339.0 L508.4 339.1 L509.9 339.4 L511.6 339.7 L513.2 340.0 L514.8 340.4 L516.5 340.9 L518.1 341.3 L519.7 341.8 L521.3 342.3 L522.8 342.8 L524.2 343.3 L525.6 343.7 L526.9 344.2 L528.1 344.7 L529.2 345.2 L530.3 345.8 L531.4 346.3 L532.5 346.9 L533.6 347.5 L534.7 348.1 L535.8 348.6 L537.0 349.1 L538.2 349.6 L539.4 350.0 L540.6 350.4 L541.8 350.7 L543.0 350.9 L544.2 351.1 L545.4 351.3 L546.6 351.5 L547.8 351.6 L549.0 351.8 L550.2 351.8 L551.4 351.9 L552.6 351.9 L553.8 351.9 L555.0 351.9 L556.3 351.8 L557.5 351.7 L558.7 351.6 L559.9 351.4 L561.1 351.3 L562.3 351.1 L563.4 350.8 L564.6 350.6 L565.7 350.4 L566.9 350.1 L568.0 349.9 L569.1 349.6 L570.4 349.3 L571.6 348.9 L572.8 348.6 L574.1 348.2 L575.3 347.8 L576.4 347.4 L577.5 347.1 L578.5 346.8 L579.3 346.5 L580.1 346.2 L580.6 346.0 L581.4 345.6 L581.9 345.0 L582.1 344.2 L582.0 343.4 L581.6 342.6 L581.0 342.1 L580.2 341.9 L579.4 342.0 L578.7 342.1 L578.0 342.4 L577.1 342.7 L576.1 343.0 L575.1 343.4 L573.9 343.7 L572.8 344.1 L571.6 344.5 L570.4 344.8 L569.2 345.2 L568.1 345.5 L567.0 345.7 L565.9 345.9 L564.8 346.2 L563.7 346.4 L562.6 346.6 L561.5 346.9 L560.4 347.0 L559.3 347.2 L558.2 347.4 L557.1 347.5 L556.0 347.6 L554.9 347.7 L553.8 347.7 L552.7 347.7 L551.6 347.7 L550.5 347.6 L549.4 347.5 L548.3 347.4 L547.2 347.3 L546.1 347.2 L545.0 347.0 L543.9 346.8 L542.8 346.5 L541.7 346.3 L540.6 346.0 L539.6 345.6 L538.6 345.3 L537.6 344.8 L536.6 344.3 L535.5 343.8 L534.5 343.3 L533.4 342.7 L532.2 342.1 L531.0 341.5 L529.7 340.9 L528.4 340.4 L527.0 339.9 L525.5 339.4 L524.0 338.9 L522.5 338.4 L520.9 337.9 L519.2 337.4 L517.5 337.0 L515.8 336.5 L514.1 336.1 L512.3 335.8 L510.6 335.5 L508.9 335.2 L507.2 335.0 L505.5 334.9 L503.8 334.9 L502.1 335.0 L500.4 335.0 L498.7 335.1 L497.0 335.3 L495.3 335.5 L493.7 335.7 L492.1 336.0 L490.5 336.3 L489.0 336.6 L487.5 337.0 L486.0 337.4 L484.5 338.0 L483.0 338.6 L481.5 339.2 L480.0 339.9 L478.7 340.6 L477.3 341.3 L476.1 342.0 L475.0 342.6 L474.0 343.2 L473.2 343.7 L472.5 344.1 L472.4 344.1 L472.4 344.2 L472.3 344.3 L472.4 344.4 L472.4 344.5 L472.5 344.5 L472.6 344.6 Z" fill="#b3875a"/><path d="M472.6 344.4 L473.4 344.1 L474.3 343.8 L475.3 343.4 L476.5 342.9 L477.8 342.3 L479.1 341.8 L480.6 341.2 L482.0 340.7 L483.5 340.2 L485.0 339.7 L486.5 339.3 L487.9 339.0 L489.4 338.7 L490.9 338.5 L492.4 338.3 L494.0 338.1 L495.6 337.9 L497.2 337.8 L498.8 337.7 L500.5 337.6 L502.1 337.6 L503.7 337.6 L505.3 337.7 L506.9 337.8 L508.5 338.0 L510.1 338.3 L511.8 338.6 L513.4 338.9 L515.1 339.3 L516.8 339.7 L518.4 340.2 L520.0 340.7 L521.6 341.2 L523.1 341.7 L524.6 342.2 L526.0 342.6 L527.3 343.1 L528.6 343.6 L529.7 344.1 L530.9 344.7 L532.0 345.3 L533.1 345.9 L534.2 346.4 L535.2 347.0 L536.3 347.5 L537.4 348.0 L538.6 348.5 L539.7 348.9 L540.9 349.2 L542.1 349.5 L543.3 349.7 L544.4 349.9 L545.6 350.1 L546.8 350.3 L548.0 350.4 L549.1 350.5 L550.3 350.6 L551.5 350.7 L552.6 350.7 L553.8 350.7 L555.0 350.7 L556.2 350.6 L557.3 350.5 L558.5 350.4 L559.7 350.2 L560.9 350.0 L562.0 349.8 L563.2 349.6 L564.3 349.4 L565.5 349.2 L566.6 348.9 L567.7 348.7 L568.8 348.4 L570.0 348.1 L571.3 347.8 L572.5 347.4 L573.7 347.0 L574.9 346.6 L576.0 346.3 L577.1 345.9 L578.1 345.6 L578.9 345.3 L579.7 345.1 L580.3 344.9 L580.6 344.7 L580.8 344.4 L580.9 344.1 L580.9 343.7 L580.7 343.4 L580.4 343.2 L580.1 343.1 L579.7 343.1 L579.1 343.3 L578.4 343.6 L577.5 343.9 L576.5 344.2 L575.5 344.5 L574.3 344.9 L573.2 345.3 L572.0 345.7 L570.7 346.0 L569.6 346.3 L568.4 346.7 L567.3 346.9 L566.2 347.2 L565.1 347.4 L564.0 347.6 L562.9 347.9 L561.7 348.1 L560.6 348.3 L559.4 348.4 L558.3 348.6 L557.2 348.7 L556.0 348.8 L554.9 348.9 L553.8 348.9 L552.7 348.9 L551.5 348.9 L550.4 348.8 L549.3 348.8 L548.1 348.7 L547.0 348.5 L545.9 348.4 L544.8 348.2 L543.6 348.0 L542.5 347.7 L541.4 347.4 L540.3 347.1 L539.2 346.8 L538.1 346.4 L537.1 345.9 L536.0 345.4 L535.0 344.9 L533.9 344.3 L532.8 343.7 L531.7 343.1 L530.5 342.6 L529.3 342.0 L528.0 341.5 L526.6 341.0 L525.2 340.5 L523.7 340.0 L522.1 339.5 L520.5 339.0 L518.9 338.6 L517.2 338.1 L515.5 337.7 L513.8 337.3 L512.1 336.9 L510.4 336.6 L508.7 336.3 L507.1 336.2 L505.4 336.1 L503.8 336.0 L502.1 336.0 L500.4 336.1 L498.7 336.2 L497.1 336.3 L495.4 336.5 L493.8 336.7 L492.2 336.9 L490.7 337.2 L489.1 337.5 L487.7 337.8 L486.2 338.2 L484.7 338.7 L483.2 339.2 L481.7 339.8 L480.3 340.5 L478.9 341.1 L477.5 341.7 L476.3 342.3 L475.1 342.9 L474.1 343.4 L473.3 343.9 L472.6 344.2 L472.5 344.2 L472.5 344.3 L472.5 344.3 L472.5 344.3 L472.5 344.4 L472.6 344.4 L472.6 344.4 Z" fill="#dcc19e" opacity="0.85"/>
<path d="M497.1 353.0 L497.5 353.0 L497.9 352.9 L498.3 352.9 L498.9 352.9 L499.5 352.8 L500.1 352.7 L500.7 352.6 L501.4 352.4 L502.1 352.2 L502.8 352.0 L503.4 351.7 L504.1 351.4 L504.7 351.0 L505.2 350.6 L505.8 350.1 L506.3 349.6 L506.9 349.1 L507.4 348.6 L507.9 348.0 L508.4 347.4 L508.8 346.9 L509.3 346.3 L509.7 345.7 L510.1 345.0 L510.3 344.3 L510.6 343.5 L510.7 342.7 L510.8 342.0 L510.9 341.3 L510.9 340.7 L510.9 340.0 L510.9 339.5 L510.9 339.0 L510.9 338.6 L511.0 338.3 L511.0 338.1 L510.8 337.0 L510.2 336.0 L509.3 335.3 L508.1 335.0 L507.0 335.2 L506.0 335.8 L505.3 336.7 L505.0 337.9 L505.0 338.3 L505.0 338.7 L505.1 339.2 L505.1 339.6 L505.1 340.1 L505.2 340.6 L505.2 341.1 L505.2 341.5 L505.1 342.0 L505.1 342.4 L505.0 342.7 L504.9 343.0 L504.9 343.4 L504.7 343.8 L504.5 344.3 L504.3 344.8 L504.1 345.3 L503.8 345.9 L503.5 346.4 L503.2 346.9 L502.9 347.4 L502.5 347.8 L502.2 348.3 L501.9 348.6 L501.6 349.0 L501.3 349.3 L500.8 349.7 L500.4 350.0 L499.9 350.4 L499.4 350.7 L498.8 351.0 L498.3 351.2 L497.9 351.5 L497.5 351.8 L497.1 352.0 L496.9 352.2 L496.7 352.3 L496.6 352.4 L496.6 352.6 L496.6 352.7 L496.7 352.9 L496.8 353.0 L497.0 353.0 Z" fill="#7b5029"/><path d="M497.1 352.8 L497.4 352.8 L497.8 352.7 L498.3 352.7 L498.8 352.6 L499.4 352.5 L500.0 352.3 L500.6 352.2 L501.2 352.0 L501.9 351.8 L502.5 351.5 L503.1 351.2 L503.7 350.9 L504.3 350.5 L504.8 350.1 L505.3 349.6 L505.8 349.1 L506.3 348.6 L506.8 348.1 L507.2 347.6 L507.7 347.0 L508.1 346.4 L508.5 345.9 L508.9 345.3 L509.2 344.7 L509.4 344.0 L509.6 343.3 L509.8 342.6 L509.8 341.9 L509.9 341.3 L509.9 340.6 L509.9 340.1 L509.9 339.5 L509.9 339.0 L509.9 338.6 L510.0 338.3 L510.0 338.1 L509.9 337.3 L509.5 336.7 L508.8 336.2 L508.1 336.0 L507.3 336.1 L506.7 336.5 L506.2 337.2 L506.0 337.9 L506.0 338.3 L506.0 338.7 L506.1 339.1 L506.1 339.6 L506.1 340.1 L506.1 340.6 L506.1 341.1 L506.1 341.6 L506.1 342.1 L506.0 342.6 L505.9 343.0 L505.8 343.3 L505.7 343.7 L505.5 344.2 L505.3 344.7 L505.0 345.3 L504.7 345.8 L504.4 346.3 L504.1 346.8 L503.7 347.4 L503.4 347.8 L503.0 348.3 L502.6 348.7 L502.3 349.1 L501.9 349.4 L501.5 349.8 L501.1 350.1 L500.5 350.4 L500.0 350.7 L499.5 351.0 L498.9 351.3 L498.4 351.5 L498.0 351.7 L497.5 352.0 L497.2 352.2 L496.9 352.4 L496.8 352.4 L496.8 352.5 L496.7 352.6 L496.8 352.7 L496.8 352.8 L496.9 352.8 L497.0 352.9 Z" fill="#b3875a"/><path d="M497.0 352.7 L497.3 352.6 L497.7 352.5 L498.2 352.4 L498.7 352.3 L499.2 352.1 L499.8 352.0 L500.4 351.8 L501.0 351.5 L501.6 351.3 L502.2 351.0 L502.8 350.7 L503.3 350.4 L503.8 350.0 L504.3 349.6 L504.7 349.1 L505.2 348.6 L505.7 348.1 L506.1 347.6 L506.5 347.0 L506.9 346.5 L507.3 345.9 L507.6 345.4 L507.9 344.8 L508.2 344.3 L508.4 343.7 L508.6 343.1 L508.7 342.5 L508.8 341.8 L508.8 341.2 L508.8 340.6 L508.8 340.1 L508.8 339.5 L508.8 339.1 L508.8 338.6 L508.8 338.3 L508.8 338.0 L508.8 337.7 L508.6 337.4 L508.4 337.2 L508.0 337.2 L507.7 337.2 L507.4 337.4 L507.2 337.6 L507.2 338.0 L507.2 338.3 L507.2 338.7 L507.2 339.1 L507.2 339.6 L507.2 340.1 L507.2 340.6 L507.2 341.2 L507.2 341.7 L507.1 342.3 L507.1 342.8 L506.9 343.3 L506.8 343.7 L506.6 344.2 L506.4 344.7 L506.1 345.2 L505.8 345.8 L505.4 346.3 L505.1 346.8 L504.7 347.4 L504.3 347.9 L503.9 348.4 L503.5 348.8 L503.1 349.2 L502.7 349.6 L502.3 350.0 L501.8 350.3 L501.3 350.6 L500.7 350.9 L500.2 351.1 L499.6 351.4 L499.1 351.6 L498.5 351.8 L498.0 352.0 L497.6 352.2 L497.2 352.4 L497.0 352.5 L496.9 352.5 L496.9 352.6 L496.9 352.6 L496.9 352.6 L496.9 352.7 L497.0 352.7 L497.0 352.7 Z" fill="#dcc19e" opacity="0.85"/>
<path d="M510.1 336.6 L510.0 335.8 L509.8 334.9 L509.7 333.9 L509.5 332.7 L509.3 331.5 L509.1 330.2 L508.9 328.9 L508.7 327.6 L508.6 326.3 L508.6 325.0 L508.6 323.9 L508.6 322.8 L508.8 321.6 L508.9 320.4 L509.1 319.2 L509.3 318.0 L509.6 316.7 L509.9 315.5 L510.2 314.4 L510.6 313.2 L511.0 312.1 L511.5 311.1 L512.0 310.1 L512.6 309.2 L513.3 308.3 L514.1 307.4 L515.0 306.5 L515.9 305.6 L516.9 304.7 L518.0 303.8 L519.1 303.0 L520.3 302.2 L521.5 301.4 L522.7 300.6 L523.9 299.9 L525.1 299.3 L526.2 298.6 L527.4 298.1 L528.7 297.5 L529.9 297.0 L531.2 296.5 L532.5 296.1 L533.8 295.7 L535.1 295.3 L536.4 295.0 L537.8 294.7 L539.1 294.4 L540.4 294.2 L541.8 294.1 L543.2 293.9 L544.7 293.9 L546.2 293.8 L547.7 293.8 L549.2 293.9 L550.7 294.0 L552.2 294.1 L553.6 294.2 L554.9 294.3 L556.2 294.5 L557.3 294.7 L558.3 294.9 L559.2 295.1 L560.0 295.4 L560.8 295.7 L561.5 296.0 L562.2 296.3 L562.8 296.7 L563.5 297.0 L564.2 297.4 L564.9 297.9 L565.6 298.3 L566.3 298.7 L566.9 299.1 L567.5 299.6 L568.1 300.1 L568.7 300.6 L569.3 301.1 L569.9 301.7 L570.5 302.2 L571.0 302.7 L571.6 303.2 L572.0 303.7 L572.5 304.1 L572.8 304.4 L573.9 305.1 L575.2 305.2 L576.4 304.9 L577.4 304.2 L578.1 303.1 L578.2 301.8 L577.9 300.6 L577.2 299.6 L576.9 299.3 L576.5 299.0 L576.1 298.5 L575.6 298.0 L575.0 297.5 L574.3 296.9 L573.7 296.3 L572.9 295.6 L572.2 295.0 L571.4 294.4 L570.6 293.8 L569.7 293.3 L569.0 292.8 L568.3 292.4 L567.6 291.9 L566.8 291.4 L566.0 291.0 L565.1 290.5 L564.2 290.1 L563.2 289.6 L562.1 289.2 L561.0 288.9 L559.8 288.6 L558.5 288.3 L557.2 288.1 L555.8 287.9 L554.3 287.7 L552.7 287.6 L551.1 287.5 L549.5 287.4 L547.8 287.3 L546.1 287.3 L544.4 287.4 L542.8 287.5 L541.1 287.6 L539.6 287.8 L538.0 288.0 L536.5 288.3 L535.0 288.6 L533.5 289.0 L532.0 289.4 L530.5 289.9 L529.0 290.4 L527.5 290.9 L526.1 291.5 L524.7 292.2 L523.3 292.8 L521.9 293.5 L520.6 294.3 L519.3 295.1 L517.9 295.9 L516.6 296.8 L515.3 297.8 L514.0 298.8 L512.8 299.8 L511.5 300.9 L510.4 302.0 L509.3 303.1 L508.3 304.3 L507.4 305.6 L506.5 306.9 L505.8 308.3 L505.2 309.7 L504.6 311.1 L504.1 312.5 L503.7 313.9 L503.4 315.3 L503.1 316.8 L502.9 318.2 L502.7 319.5 L502.5 320.9 L502.4 322.2 L502.3 323.7 L502.3 325.2 L502.4 326.7 L502.5 328.2 L502.7 329.7 L502.9 331.2 L503.1 332.5 L503.3 333.8 L503.5 334.9 L503.7 335.9 L503.8 336.8 L503.9 337.4 L504.3 338.5 L505.1 339.5 L506.2 340.0 L507.4 340.1 L508.5 339.7 L509.5 338.9 L510.0 337.8 Z" fill="#7b5029"/><path d="M509.0 336.7 L508.9 336.0 L508.8 335.1 L508.6 334.1 L508.4 332.9 L508.2 331.7 L508.0 330.4 L507.8 329.1 L507.7 327.7 L507.6 326.4 L507.5 325.1 L507.5 323.8 L507.6 322.7 L507.7 321.5 L507.9 320.3 L508.1 319.0 L508.3 317.8 L508.5 316.5 L508.8 315.3 L509.2 314.1 L509.6 312.9 L510.0 311.7 L510.5 310.6 L511.1 309.6 L511.7 308.6 L512.5 307.6 L513.3 306.7 L514.2 305.7 L515.2 304.8 L516.2 303.9 L517.3 303.0 L518.5 302.1 L519.7 301.3 L520.9 300.5 L522.1 299.7 L523.3 299.0 L524.5 298.3 L525.7 297.7 L527.0 297.1 L528.2 296.5 L529.5 296.0 L530.8 295.5 L532.1 295.0 L533.5 294.6 L534.8 294.2 L536.2 293.9 L537.6 293.6 L538.9 293.3 L540.3 293.1 L541.7 293.0 L543.1 292.8 L544.6 292.8 L546.2 292.7 L547.7 292.7 L549.3 292.8 L550.8 292.9 L552.3 293.0 L553.7 293.1 L555.1 293.2 L556.4 293.4 L557.5 293.6 L558.5 293.8 L559.5 294.1 L560.4 294.3 L561.2 294.6 L561.9 295.0 L562.7 295.3 L563.4 295.7 L564.1 296.1 L564.8 296.5 L565.5 296.9 L566.2 297.4 L566.8 297.8 L567.5 298.2 L568.1 298.7 L568.8 299.2 L569.4 299.7 L570.1 300.3 L570.7 300.9 L571.3 301.4 L571.8 301.9 L572.3 302.4 L572.8 302.9 L573.2 303.3 L573.6 303.6 L574.3 304.0 L575.1 304.1 L575.9 303.9 L576.6 303.4 L577.0 302.7 L577.1 301.9 L576.9 301.1 L576.4 300.4 L576.1 300.1 L575.8 299.8 L575.3 299.3 L574.8 298.8 L574.2 298.3 L573.6 297.7 L572.9 297.1 L572.2 296.5 L571.5 295.9 L570.7 295.3 L569.9 294.7 L569.2 294.2 L568.4 293.7 L567.7 293.3 L567.0 292.8 L566.2 292.4 L565.4 291.9 L564.6 291.5 L563.7 291.1 L562.8 290.7 L561.7 290.3 L560.7 289.9 L559.5 289.6 L558.3 289.4 L557.0 289.2 L555.6 289.0 L554.2 288.8 L552.6 288.7 L551.1 288.6 L549.4 288.5 L547.8 288.4 L546.1 288.4 L544.5 288.5 L542.9 288.6 L541.3 288.7 L539.7 288.9 L538.2 289.1 L536.7 289.4 L535.2 289.7 L533.7 290.1 L532.3 290.5 L530.8 290.9 L529.4 291.4 L527.9 292.0 L526.5 292.5 L525.2 293.2 L523.8 293.8 L522.5 294.5 L521.2 295.3 L519.9 296.0 L518.5 296.9 L517.2 297.7 L515.9 298.7 L514.7 299.6 L513.5 300.6 L512.3 301.7 L511.2 302.7 L510.1 303.9 L509.1 305.0 L508.3 306.2 L507.5 307.5 L506.8 308.7 L506.2 310.1 L505.6 311.4 L505.2 312.8 L504.8 314.2 L504.5 315.6 L504.2 317.0 L503.9 318.3 L503.7 319.7 L503.6 321.0 L503.4 322.3 L503.3 323.7 L503.3 325.2 L503.4 326.6 L503.6 328.1 L503.7 329.6 L503.9 331.0 L504.1 332.3 L504.4 333.6 L504.6 334.8 L504.7 335.8 L504.9 336.6 L505.0 337.3 L505.2 338.0 L505.8 338.6 L506.5 339.0 L507.3 339.0 L508.0 338.8 L508.6 338.2 L509.0 337.5 Z" fill="#b3875a"/><path d="M507.9 336.9 L507.8 336.2 L507.6 335.3 L507.4 334.3 L507.2 333.1 L507.0 331.9 L506.8 330.6 L506.6 329.2 L506.5 327.8 L506.4 326.4 L506.3 325.1 L506.3 323.8 L506.4 322.6 L506.5 321.4 L506.7 320.1 L506.9 318.8 L507.1 317.5 L507.4 316.2 L507.7 315.0 L508.0 313.7 L508.4 312.5 L508.9 311.3 L509.5 310.1 L510.1 309.0 L510.7 307.9 L511.5 306.9 L512.4 305.9 L513.3 304.9 L514.3 303.9 L515.4 302.9 L516.6 302.0 L517.7 301.1 L519.0 300.2 L520.2 299.4 L521.4 298.6 L522.7 297.9 L523.9 297.2 L525.2 296.5 L526.4 295.9 L527.7 295.4 L529.1 294.8 L530.4 294.3 L531.8 293.8 L533.1 293.4 L534.5 293.0 L535.9 292.7 L537.3 292.4 L538.7 292.1 L540.1 291.9 L541.6 291.7 L543.1 291.6 L544.6 291.5 L546.2 291.5 L547.7 291.5 L549.3 291.5 L550.9 291.6 L552.4 291.7 L553.8 291.9 L555.2 292.0 L556.5 292.2 L557.7 292.4 L558.8 292.6 L559.8 292.9 L560.8 293.2 L561.6 293.5 L562.4 293.8 L563.2 294.2 L564.0 294.6 L564.7 295.0 L565.4 295.5 L566.1 295.9 L566.8 296.3 L567.5 296.8 L568.2 297.2 L568.9 297.7 L569.6 298.2 L570.2 298.8 L570.9 299.4 L571.5 299.9 L572.1 300.5 L572.7 301.0 L573.2 301.5 L573.6 302.0 L574.1 302.4 L574.4 302.7 L574.7 302.9 L575.0 302.9 L575.4 302.8 L575.7 302.6 L575.9 302.3 L575.9 302.0 L575.8 301.6 L575.6 301.3 L575.3 301.0 L574.9 300.7 L574.4 300.2 L573.9 299.7 L573.4 299.2 L572.7 298.6 L572.1 298.0 L571.4 297.4 L570.7 296.8 L570.0 296.3 L569.2 295.7 L568.5 295.2 L567.8 294.8 L567.1 294.3 L566.4 293.9 L565.6 293.5 L564.8 293.0 L564.0 292.6 L563.2 292.2 L562.3 291.8 L561.3 291.4 L560.3 291.1 L559.2 290.8 L558.1 290.6 L556.8 290.4 L555.5 290.2 L554.0 290.1 L552.5 289.9 L551.0 289.8 L549.4 289.7 L547.8 289.7 L546.1 289.7 L544.5 289.7 L542.9 289.8 L541.4 289.9 L539.9 290.1 L538.4 290.3 L537.0 290.6 L535.5 290.9 L534.1 291.3 L532.6 291.7 L531.2 292.1 L529.8 292.6 L528.4 293.1 L527.0 293.7 L525.7 294.3 L524.4 294.9 L523.1 295.6 L521.8 296.3 L520.5 297.1 L519.2 297.9 L517.9 298.8 L516.7 299.6 L515.4 300.6 L514.3 301.6 L513.1 302.6 L512.0 303.6 L511.0 304.7 L510.1 305.8 L509.3 306.9 L508.5 308.1 L507.9 309.3 L507.3 310.6 L506.8 311.8 L506.3 313.2 L506.0 314.5 L505.6 315.8 L505.4 317.2 L505.1 318.5 L504.9 319.8 L504.8 321.1 L504.6 322.4 L504.5 323.7 L504.5 325.1 L504.6 326.6 L504.7 328.0 L504.9 329.4 L505.1 330.8 L505.3 332.2 L505.5 333.4 L505.7 334.6 L505.9 335.6 L506.0 336.4 L506.1 337.1 L506.2 337.4 L506.5 337.7 L506.8 337.8 L507.1 337.9 L507.4 337.8 L507.7 337.5 L507.8 337.2 Z" fill="#dcc19e" opacity="0.85"/>
<path d="M621.0 306.2 L621.8 306.2 L622.8 306.2 L624.0 306.2 L625.2 306.1 L626.5 306.0 L627.9 306.0 L629.3 306.0 L630.6 306.0 L632.0 306.1 L633.2 306.2 L634.4 306.4 L635.4 306.6 L636.5 307.0 L637.6 307.4 L638.7 307.8 L639.8 308.3 L640.9 308.8 L641.9 309.4 L643.0 310.0 L644.0 310.7 L644.9 311.4 L645.9 312.1 L646.8 313.0 L647.6 313.8 L648.5 314.8 L649.3 315.8 L650.1 317.0 L651.0 318.2 L651.8 319.6 L652.6 320.9 L653.3 322.3 L654.0 323.7 L654.7 325.1 L655.2 326.4 L655.7 327.7 L656.1 329.0 L656.5 330.1 L656.8 331.3 L657.0 332.5 L657.2 333.7 L657.4 334.9 L657.4 336.0 L657.5 337.2 L657.5 338.3 L657.4 339.4 L657.3 340.4 L657.2 341.4 L657.0 342.3 L656.8 343.1 L656.5 343.8 L656.2 344.5 L655.8 345.2 L655.4 345.9 L654.9 346.6 L654.4 347.3 L653.8 348.0 L653.2 348.7 L652.5 349.5 L651.8 350.3 L651.2 351.1 L650.6 351.8 L650.0 352.5 L649.3 353.2 L648.5 353.9 L647.8 354.7 L647.0 355.4 L646.2 356.2 L645.3 357.0 L644.5 357.8 L643.8 358.6 L643.0 359.5 L642.4 360.4 L641.8 361.3 L641.4 362.1 L640.9 363.0 L640.5 363.9 L640.2 364.7 L639.9 365.6 L639.6 366.4 L639.4 367.2 L639.1 368.0 L638.9 368.8 L638.8 369.6 L638.6 370.4 L638.5 371.3 L638.4 372.3 L638.4 373.2 L638.4 374.1 L638.4 375.0 L638.4 375.9 L638.4 376.8 L638.5 377.6 L638.6 378.3 L638.6 379.0 L638.7 379.5 L638.8 380.0 L638.8 380.1 L638.9 380.2 L639.0 380.3 L639.2 380.4 L639.3 380.4 L639.4 380.3 L639.5 380.2 L639.6 380.0 L639.8 379.6 L640.0 379.1 L640.2 378.5 L640.4 377.8 L640.6 377.0 L640.8 376.2 L641.0 375.4 L641.3 374.5 L641.5 373.7 L641.8 372.9 L642.1 372.2 L642.4 371.6 L642.7 370.9 L643.0 370.2 L643.3 369.5 L643.6 368.8 L643.9 368.1 L644.3 367.4 L644.6 366.8 L645.0 366.1 L645.4 365.5 L645.9 364.9 L646.3 364.2 L646.8 363.6 L647.3 363.0 L647.9 362.4 L648.5 361.8 L649.3 361.1 L650.0 360.4 L650.8 359.7 L651.7 359.0 L652.5 358.2 L653.4 357.4 L654.2 356.6 L655.0 355.8 L655.8 354.9 L656.4 354.2 L657.1 353.4 L657.8 352.7 L658.4 351.9 L659.1 351.1 L659.8 350.2 L660.5 349.3 L661.1 348.3 L661.7 347.3 L662.2 346.2 L662.7 345.0 L663.0 343.7 L663.3 342.5 L663.5 341.2 L663.6 339.9 L663.7 338.5 L663.8 337.2 L663.7 335.8 L663.6 334.3 L663.5 332.9 L663.3 331.4 L663.0 330.0 L662.7 328.5 L662.3 327.0 L661.8 325.6 L661.2 324.1 L660.5 322.5 L659.8 320.9 L659.1 319.4 L658.2 317.8 L657.4 316.3 L656.4 314.8 L655.5 313.3 L654.5 311.9 L653.4 310.6 L652.4 309.4 L651.3 308.3 L650.1 307.2 L648.9 306.2 L647.7 305.3 L646.4 304.5 L645.1 303.7 L643.8 303.0 L642.5 302.4 L641.2 301.8 L639.9 301.3 L638.5 300.8 L637.2 300.4 L635.7 300.0 L634.1 299.7 L632.5 299.6 L630.9 299.5 L629.3 299.5 L627.7 299.5 L626.2 299.5 L624.9 299.6 L623.6 299.7 L622.5 299.7 L621.7 299.8 L621.0 299.8 L619.8 300.0 L618.7 300.7 L618.0 301.8 L617.8 303.0 L618.0 304.2 L618.7 305.3 L619.8 306.0 Z" fill="#7b5029"/><path d="M621.0 305.1 L621.8 305.1 L622.8 305.1 L623.9 305.1 L625.1 305.0 L626.5 304.9 L627.8 304.9 L629.3 304.9 L630.7 304.9 L632.1 305.0 L633.4 305.1 L634.6 305.3 L635.7 305.6 L636.8 305.9 L638.0 306.3 L639.1 306.8 L640.2 307.3 L641.4 307.8 L642.5 308.4 L643.5 309.1 L644.6 309.8 L645.6 310.5 L646.6 311.3 L647.5 312.2 L648.4 313.1 L649.3 314.1 L650.2 315.2 L651.1 316.4 L651.9 317.7 L652.7 319.0 L653.5 320.4 L654.3 321.8 L655.0 323.2 L655.7 324.7 L656.2 326.0 L656.8 327.4 L657.2 328.6 L657.5 329.9 L657.9 331.1 L658.1 332.3 L658.3 333.6 L658.4 334.8 L658.5 336.0 L658.5 337.2 L658.5 338.3 L658.5 339.5 L658.3 340.5 L658.2 341.6 L658.0 342.5 L657.8 343.4 L657.5 344.2 L657.1 345.0 L656.7 345.7 L656.3 346.4 L655.7 347.2 L655.2 347.9 L654.6 348.6 L654.0 349.4 L653.3 350.2 L652.6 350.9 L652.0 351.7 L651.4 352.5 L650.7 353.2 L650.0 353.9 L649.2 354.7 L648.4 355.4 L647.6 356.2 L646.8 356.9 L646.0 357.7 L645.2 358.5 L644.5 359.3 L643.8 360.1 L643.1 360.9 L642.6 361.8 L642.1 362.6 L641.7 363.4 L641.3 364.3 L641.0 365.1 L640.6 365.9 L640.3 366.7 L640.1 367.5 L639.9 368.3 L639.6 369.1 L639.4 369.8 L639.2 370.6 L639.1 371.5 L639.0 372.4 L638.9 373.3 L638.9 374.2 L638.8 375.1 L638.8 376.0 L638.8 376.8 L638.8 377.6 L638.8 378.3 L638.9 379.0 L638.9 379.5 L638.9 380.0 L638.9 380.1 L639.0 380.2 L639.1 380.2 L639.2 380.3 L639.3 380.3 L639.4 380.2 L639.4 380.1 L639.5 380.0 L639.6 379.6 L639.7 379.1 L639.9 378.4 L640.0 377.7 L640.2 377.0 L640.4 376.1 L640.6 375.3 L640.8 374.5 L641.0 373.6 L641.2 372.8 L641.5 372.1 L641.8 371.4 L642.0 370.7 L642.3 369.9 L642.6 369.2 L642.9 368.5 L643.2 367.8 L643.5 367.1 L643.9 366.4 L644.2 365.7 L644.7 365.1 L645.1 364.4 L645.6 363.7 L646.1 363.1 L646.6 362.4 L647.2 361.8 L647.9 361.1 L648.6 360.4 L649.4 359.7 L650.2 359.0 L651.0 358.2 L651.8 357.5 L652.7 356.7 L653.5 355.9 L654.3 355.1 L655.0 354.3 L655.7 353.5 L656.3 352.7 L657.0 352.0 L657.6 351.2 L658.3 350.4 L659.0 349.6 L659.6 348.7 L660.2 347.8 L660.8 346.8 L661.2 345.8 L661.7 344.6 L662.0 343.5 L662.2 342.3 L662.4 341.1 L662.6 339.8 L662.7 338.5 L662.7 337.2 L662.7 335.8 L662.6 334.4 L662.4 333.0 L662.2 331.6 L662.0 330.2 L661.6 328.8 L661.2 327.4 L660.7 325.9 L660.2 324.5 L659.5 323.0 L658.8 321.4 L658.1 319.9 L657.3 318.3 L656.4 316.8 L655.5 315.4 L654.6 313.9 L653.6 312.6 L652.6 311.3 L651.6 310.1 L650.5 309.1 L649.4 308.1 L648.2 307.1 L647.1 306.2 L645.8 305.4 L644.6 304.7 L643.3 304.0 L642.1 303.4 L640.8 302.8 L639.5 302.3 L638.2 301.8 L636.9 301.4 L635.5 301.1 L633.9 300.8 L632.4 300.7 L630.8 300.6 L629.3 300.6 L627.7 300.6 L626.3 300.6 L624.9 300.7 L623.7 300.8 L622.6 300.8 L621.7 300.9 L621.0 300.9 L620.2 301.0 L619.5 301.5 L619.0 302.2 L618.9 303.0 L619.0 303.8 L619.5 304.5 L620.2 305.0 Z" fill="#b3875a"/><path d="M621.0 303.9 L621.8 303.9 L622.7 303.9 L623.8 303.8 L625.1 303.8 L626.4 303.7 L627.8 303.7 L629.3 303.6 L630.7 303.7 L632.2 303.7 L633.5 303.9 L634.9 304.1 L636.1 304.4 L637.2 304.7 L638.4 305.2 L639.6 305.6 L640.8 306.2 L641.9 306.7 L643.1 307.3 L644.2 308.0 L645.3 308.7 L646.4 309.5 L647.4 310.4 L648.4 311.3 L649.3 312.2 L650.3 313.3 L651.2 314.4 L652.1 315.7 L652.9 317.0 L653.8 318.4 L654.6 319.8 L655.4 321.3 L656.1 322.7 L656.8 324.2 L657.4 325.6 L657.9 327.0 L658.3 328.3 L658.7 329.5 L659.0 330.8 L659.3 332.1 L659.5 333.4 L659.6 334.7 L659.7 335.9 L659.7 337.2 L659.7 338.4 L659.6 339.6 L659.5 340.7 L659.4 341.8 L659.2 342.8 L658.9 343.7 L658.6 344.6 L658.2 345.5 L657.7 346.3 L657.2 347.1 L656.7 347.9 L656.1 348.6 L655.5 349.4 L654.8 350.1 L654.2 350.9 L653.5 351.7 L652.9 352.5 L652.2 353.2 L651.5 354.0 L650.8 354.7 L650.0 355.5 L649.2 356.2 L648.4 357.0 L647.5 357.7 L646.8 358.5 L646.0 359.2 L645.3 360.0 L644.6 360.8 L644.0 361.5 L643.5 362.3 L643.0 363.1 L642.5 363.9 L642.2 364.7 L641.8 365.5 L641.5 366.2 L641.2 367.0 L640.9 367.8 L640.6 368.6 L640.4 369.3 L640.2 370.1 L640.0 370.8 L639.8 371.7 L639.6 372.5 L639.5 373.4 L639.4 374.3 L639.3 375.2 L639.3 376.0 L639.2 376.9 L639.2 377.6 L639.1 378.4 L639.1 379.0 L639.1 379.5 L639.1 380.0 L639.1 380.0 L639.1 380.1 L639.1 380.1 L639.2 380.1 L639.2 380.1 L639.3 380.1 L639.3 380.1 L639.3 380.0 L639.4 379.6 L639.5 379.0 L639.6 378.4 L639.7 377.7 L639.8 376.9 L639.9 376.1 L640.1 375.3 L640.2 374.4 L640.4 373.5 L640.6 372.7 L640.8 371.9 L641.0 371.2 L641.3 370.4 L641.5 369.7 L641.8 368.9 L642.1 368.2 L642.4 367.5 L642.7 366.8 L643.0 366.0 L643.4 365.3 L643.8 364.6 L644.2 363.9 L644.7 363.2 L645.2 362.5 L645.8 361.7 L646.4 361.0 L647.1 360.3 L647.8 359.6 L648.6 358.9 L649.4 358.2 L650.3 357.4 L651.1 356.7 L651.9 355.9 L652.7 355.1 L653.4 354.3 L654.1 353.5 L654.8 352.8 L655.4 352.0 L656.1 351.2 L656.8 350.5 L657.4 349.7 L658.0 348.9 L658.6 348.1 L659.2 347.2 L659.7 346.3 L660.2 345.3 L660.5 344.3 L660.8 343.2 L661.1 342.1 L661.3 340.9 L661.4 339.7 L661.5 338.5 L661.5 337.2 L661.5 335.9 L661.4 334.5 L661.2 333.2 L661.0 331.8 L660.8 330.4 L660.4 329.1 L660.1 327.7 L659.6 326.4 L659.0 324.9 L658.4 323.4 L657.7 321.9 L657.0 320.4 L656.2 318.9 L655.4 317.5 L654.5 316.0 L653.6 314.6 L652.6 313.3 L651.6 312.1 L650.7 311.0 L649.7 310.0 L648.6 309.0 L647.5 308.1 L646.3 307.3 L645.2 306.5 L644.0 305.8 L642.8 305.1 L641.5 304.5 L640.3 304.0 L639.0 303.5 L637.8 303.0 L636.5 302.6 L635.2 302.3 L633.8 302.1 L632.3 301.9 L630.8 301.8 L629.3 301.8 L627.8 301.8 L626.3 301.9 L625.0 301.9 L623.7 302.0 L622.6 302.1 L621.7 302.1 L621.0 302.1 L620.7 302.2 L620.4 302.4 L620.2 302.7 L620.1 303.0 L620.2 303.3 L620.4 303.6 L620.7 303.8 Z" fill="#dcc19e" opacity="0.85"/>
<path d="M618.7 360.5 L618.9 360.0 L619.1 359.3 L619.3 358.6 L619.6 357.8 L619.9 356.9 L620.2 355.9 L620.5 354.9 L620.8 353.9 L621.1 352.9 L621.4 351.9 L621.8 350.9 L622.1 350.0 L622.4 349.1 L622.7 348.1 L623.1 347.2 L623.5 346.1 L623.9 345.1 L624.3 344.0 L624.7 342.9 L625.1 341.8 L625.5 340.6 L625.9 339.4 L626.3 338.2 L626.6 336.9 L626.9 335.7 L627.2 334.5 L627.5 333.2 L627.7 331.9 L628.0 330.6 L628.2 329.2 L628.5 327.9 L628.6 326.5 L628.8 325.1 L628.9 323.7 L629.0 322.3 L629.0 321.0 L629.0 319.6 L628.9 318.3 L628.8 317.0 L628.7 315.7 L628.6 314.3 L628.4 312.9 L628.2 311.5 L627.9 310.2 L627.5 308.8 L627.0 307.5 L626.5 306.1 L625.8 304.9 L625.1 303.7 L624.3 302.6 L623.5 301.5 L622.6 300.5 L621.6 299.5 L620.6 298.6 L619.5 297.8 L618.4 297.0 L617.3 296.3 L616.1 295.6 L615.0 295.0 L613.7 294.5 L612.4 293.9 L611.1 293.5 L609.7 293.1 L608.3 292.8 L606.9 292.6 L605.4 292.4 L604.0 292.2 L602.6 292.1 L601.2 292.0 L599.8 292.0 L598.4 291.9 L597.1 291.9 L595.7 291.9 L594.3 291.9 L592.8 291.9 L591.4 292.0 L589.9 292.1 L588.4 292.2 L586.9 292.3 L585.4 292.5 L584.0 292.8 L582.5 293.1 L581.1 293.4 L579.7 293.8 L578.4 294.2 L577.1 294.7 L575.8 295.2 L574.6 295.7 L573.3 296.3 L572.1 296.9 L570.9 297.6 L569.7 298.4 L568.5 299.2 L567.4 300.0 L566.3 301.0 L565.3 302.0 L564.4 303.0 L563.5 304.1 L562.6 305.3 L561.8 306.5 L561.1 307.8 L560.4 309.1 L559.7 310.4 L559.1 311.8 L558.6 313.2 L558.2 314.6 L557.9 316.0 L557.6 317.4 L557.5 318.9 L557.4 320.4 L557.4 321.8 L557.5 323.3 L557.7 324.7 L558.0 326.2 L558.3 327.5 L558.6 328.9 L559.0 330.3 L559.5 331.6 L560.0 332.9 L560.5 334.1 L560.9 335.5 L561.4 336.8 L561.9 338.1 L562.5 339.4 L563.1 340.7 L563.8 342.0 L564.6 343.2 L565.3 344.5 L566.1 345.7 L567.0 346.9 L567.8 348.1 L568.8 349.4 L570.1 350.7 L571.4 352.0 L572.8 353.1 L574.1 354.2 L575.3 355.1 L576.5 356.1 L577.6 356.9 L578.7 357.8 L579.6 358.6 L580.3 359.4 L581.0 360.2 L581.5 360.9 L582.3 361.7 L583.2 362.6 L584.1 363.7 L585.1 364.9 L586.0 366.3 L587.0 367.7 L587.9 369.1 L588.9 370.5 L589.8 372.0 L590.8 373.4 L591.7 374.8 L592.6 376.2 L593.3 377.5 L594.0 378.7 L594.6 379.8 L595.2 380.9 L595.7 381.9 L596.2 382.8 L596.6 383.6 L597.0 384.5 L597.4 385.3 L597.8 386.1 L598.1 387.0 L598.4 388.0 L598.7 389.1 L599.1 390.3 L599.4 391.5 L599.7 392.8 L600.0 394.1 L600.3 395.4 L600.5 396.8 L600.7 398.1 L600.9 399.5 L601.1 400.8 L601.3 402.1 L601.4 403.4 L601.5 404.8 L601.6 406.1 L601.7 407.5 L601.8 408.8 L601.8 410.1 L601.8 411.4 L601.8 412.7 L601.8 413.9 L601.7 415.0 L601.6 416.1 L601.4 417.1 L601.3 417.9 L601.1 418.5 L601.0 419.1 L600.7 419.7 L600.4 420.4 L600.0 421.2 L599.6 422.1 L599.1 423.0 L598.5 424.1 L597.9 425.2 L597.3 426.5 L596.7 427.9 L596.2 429.3 L595.8 430.6 L595.5 431.7 L595.2 432.9 L594.9 434.1 L594.6 435.3 L594.4 436.5 L594.1 437.8 L593.9 439.0 L593.7 440.3 L593.6 441.7 L593.4 443.0 L593.4 444.4 L593.3 445.7 L593.3 447.0 L593.3 448.3 L593.3 449.6 L593.4 450.9 L593.5 452.2 L593.6 453.4 L593.8 454.7 L594.0 456.0 L594.3 457.3 L594.6 458.6 L594.9 459.9 L595.3 461.3 L595.8 462.8 L596.3 464.1 L596.8 465.5 L597.3 466.8 L597.9 468.0 L598.4 469.3 L599.0 470.4 L599.5 471.5 L600.0 472.6 L600.4 473.5 L600.9 474.4 L601.4 475.3 L602.0 476.3 L602.5 477.1 L603.1 477.9 L603.6 478.7 L604.1 479.4 L604.6 480.0 L605.0 480.5 L605.4 481.0 L605.7 481.4 L605.9 481.6 L606.1 481.9 L608.3 484.1 L611.2 485.3 L614.3 485.4 L617.2 484.2 L619.4 482.0 L620.6 479.1 L620.7 476.0 L619.5 473.1 L619.3 472.7 L619.0 472.2 L618.7 471.7 L618.4 471.2 L618.1 470.7 L617.8 470.2 L617.5 469.7 L617.2 469.1 L616.9 468.5 L616.6 467.9 L616.3 467.3 L615.9 466.6 L615.5 465.8 L615.0 464.9 L614.5 463.9 L614.0 463.0 L613.4 462.0 L612.9 461.0 L612.5 460.0 L612.0 459.0 L611.6 458.1 L611.2 457.2 L610.9 456.4 L610.7 455.7 L610.5 454.9 L610.3 454.0 L610.1 453.2 L610.0 452.3 L609.9 451.5 L609.8 450.7 L609.8 449.8 L609.7 449.0 L609.7 448.1 L609.7 447.3 L609.8 446.4 L609.8 445.6 L610.0 444.8 L610.1 444.1 L610.3 443.3 L610.5 442.4 L610.7 441.6 L611.0 440.7 L611.3 439.8 L611.6 438.9 L612.0 437.9 L612.3 437.0 L612.7 436.0 L613.0 435.1 L613.3 434.4 L613.5 433.7 L613.9 433.0 L614.3 432.1 L614.8 431.2 L615.3 430.1 L615.9 428.9 L616.5 427.5 L617.1 426.1 L617.7 424.5 L618.2 422.7 L618.5 420.9 L618.7 419.2 L618.9 417.5 L618.9 415.9 L618.9 414.2 L618.9 412.5 L618.8 410.9 L618.7 409.3 L618.6 407.6 L618.4 406.0 L618.2 404.5 L618.0 402.9 L617.8 401.4 L617.5 399.8 L617.3 398.2 L616.9 396.6 L616.6 395.0 L616.2 393.5 L615.9 391.9 L615.4 390.3 L615.0 388.7 L614.5 387.2 L614.0 385.7 L613.5 384.2 L613.0 382.8 L612.4 381.4 L611.8 380.0 L611.2 378.7 L610.5 377.5 L609.9 376.4 L609.2 375.3 L608.6 374.3 L607.9 373.2 L607.3 372.2 L606.6 371.2 L605.9 370.1 L605.2 369.0 L604.6 367.7 L604.0 366.3 L603.4 364.8 L602.7 363.1 L602.0 361.5 L601.2 359.7 L600.3 358.0 L599.4 356.2 L598.5 354.4 L597.4 352.6 L596.3 350.8 L595.1 349.1 L593.5 347.5 L591.8 346.2 L590.2 345.0 L588.6 344.0 L587.0 343.1 L585.6 342.2 L584.2 341.5 L582.9 340.8 L581.8 340.2 L580.8 339.7 L580.0 339.1 L579.2 338.6 L578.3 337.9 L577.3 337.2 L576.3 336.5 L575.4 335.8 L574.6 335.1 L573.8 334.4 L573.0 333.7 L572.2 332.9 L571.5 332.2 L570.8 331.5 L570.2 330.7 L569.5 329.9 L569.1 328.9 L568.6 328.0 L568.2 327.0 L567.8 326.0 L567.4 325.0 L567.1 324.0 L566.8 323.0 L566.6 322.0 L566.5 321.1 L566.4 320.2 L566.3 319.4 L566.4 318.6 L566.5 317.7 L566.7 316.9 L567.0 315.9 L567.3 315.0 L567.7 314.0 L568.2 313.1 L568.7 312.1 L569.3 311.2 L569.8 310.3 L570.4 309.5 L571.1 308.7 L571.7 308.0 L572.3 307.4 L573.0 306.8 L573.7 306.2 L574.5 305.7 L575.4 305.2 L576.2 304.7 L577.2 304.2 L578.1 303.7 L579.1 303.3 L580.2 302.9 L581.2 302.6 L582.3 302.2 L583.3 301.9 L584.4 301.6 L585.6 301.4 L586.8 301.2 L588.0 301.0 L589.3 300.8 L590.6 300.7 L591.9 300.6 L593.1 300.6 L594.4 300.5 L595.7 300.5 L596.9 300.5 L598.2 300.5 L599.4 300.6 L600.7 300.7 L601.9 300.8 L603.1 300.9 L604.3 301.0 L605.4 301.2 L606.5 301.4 L607.6 301.6 L608.6 301.9 L609.4 302.2 L610.3 302.5 L611.1 302.9 L611.9 303.4 L612.7 303.8 L613.5 304.3 L614.3 304.8 L615.0 305.4 L615.6 306.0 L616.2 306.6 L616.8 307.2 L617.3 307.8 L617.8 308.5 L618.2 309.1 L618.5 309.8 L618.8 310.5 L619.1 311.4 L619.3 312.3 L619.5 313.2 L619.7 314.3 L619.9 315.3 L620.0 316.5 L620.1 317.6 L620.1 318.8 L620.2 319.9 L620.2 321.0 L620.2 322.1 L620.2 323.2 L620.1 324.3 L620.0 325.5 L619.9 326.7 L619.7 327.9 L619.5 329.1 L619.3 330.3 L619.1 331.5 L618.8 332.7 L618.6 333.9 L618.4 335.1 L618.1 336.1 L617.9 337.2 L617.6 338.2 L617.4 339.3 L617.0 340.4 L616.7 341.5 L616.4 342.5 L616.1 343.6 L615.7 344.7 L615.4 345.8 L615.1 346.9 L614.9 348.0 L614.7 349.2 L614.5 350.3 L614.4 351.4 L614.3 352.5 L614.1 353.6 L614.0 354.7 L613.9 355.7 L613.9 356.7 L613.8 357.5 L613.8 358.3 L613.8 359.0 L613.7 359.5 L613.7 360.5 L614.1 361.4 L614.8 362.1 L615.7 362.5 L616.7 362.5 L617.6 362.1 L618.3 361.4 Z" fill="#f3e2de" stroke="#6a4225" stroke-width="2.7" stroke-linejoin="round"/>
<path d="M586.8 349.4 L586.7 348.7 L586.6 347.9 L586.4 347.0 L586.2 345.9 L586.0 344.8 L585.8 343.5 L585.6 342.2 L585.3 340.9 L585.1 339.5 L584.8 338.1 L584.6 336.8 L584.4 335.4 L584.1 334.1 L583.8 332.6 L583.6 331.1 L583.3 329.5 L583.0 327.9 L582.7 326.3 L582.5 324.7 L582.2 323.2 L581.9 321.6 L581.7 320.2 L581.4 318.8 L581.2 317.5 L581.0 316.2 L580.8 315.0 L580.6 313.8 L580.4 312.6 L580.2 311.4 L580.0 310.3 L579.8 309.3 L579.7 308.4 L579.5 307.5 L579.4 306.7 L579.3 306.0 L579.2 305.5 L578.8 304.3 L577.9 303.4 L576.7 302.8 L575.5 302.8 L574.3 303.2 L573.4 304.1 L572.8 305.3 L572.8 306.5 L572.9 307.1 L573.0 307.8 L573.1 308.5 L573.3 309.4 L573.4 310.4 L573.6 311.4 L573.8 312.5 L574.0 313.6 L574.2 314.8 L574.4 316.0 L574.6 317.3 L574.8 318.5 L575.0 319.8 L575.2 321.2 L575.4 322.7 L575.7 324.2 L575.9 325.8 L576.2 327.4 L576.4 329.0 L576.7 330.6 L576.9 332.2 L577.2 333.7 L577.4 335.2 L577.6 336.6 L577.9 337.9 L578.1 339.3 L578.4 340.7 L578.6 342.1 L578.9 343.4 L579.1 344.7 L579.3 346.0 L579.5 347.1 L579.7 348.2 L579.9 349.1 L580.0 349.9 L580.2 350.6 L580.6 351.8 L581.6 352.8 L582.8 353.3 L584.1 353.3 L585.3 352.9 L586.3 351.9 L586.8 350.7 Z" fill="#7b5029"/><path d="M585.7 349.6 L585.6 348.9 L585.4 348.1 L585.3 347.2 L585.1 346.1 L584.9 345.0 L584.6 343.7 L584.4 342.4 L584.2 341.1 L583.9 339.7 L583.7 338.3 L583.4 337.0 L583.2 335.6 L583.0 334.2 L582.7 332.8 L582.5 331.3 L582.2 329.7 L581.9 328.1 L581.6 326.5 L581.4 324.9 L581.1 323.3 L580.8 321.8 L580.6 320.3 L580.3 319.0 L580.1 317.6 L579.9 316.4 L579.7 315.2 L579.5 313.9 L579.3 312.8 L579.1 311.6 L578.9 310.5 L578.8 309.5 L578.6 308.5 L578.5 307.7 L578.3 306.9 L578.2 306.2 L578.1 305.6 L577.8 304.9 L577.2 304.3 L576.5 303.9 L575.6 303.9 L574.9 304.2 L574.3 304.8 L573.9 305.5 L573.9 306.4 L574.0 306.9 L574.1 307.6 L574.2 308.4 L574.4 309.2 L574.5 310.2 L574.7 311.2 L574.9 312.3 L575.1 313.5 L575.3 314.6 L575.5 315.9 L575.7 317.1 L575.9 318.4 L576.1 319.7 L576.3 321.1 L576.6 322.5 L576.8 324.1 L577.0 325.6 L577.3 327.2 L577.6 328.8 L577.8 330.4 L578.1 332.0 L578.3 333.5 L578.6 335.0 L578.8 336.4 L579.0 337.7 L579.3 339.1 L579.5 340.5 L579.8 341.9 L580.0 343.2 L580.2 344.5 L580.5 345.8 L580.7 346.9 L580.9 348.0 L581.0 348.9 L581.2 349.7 L581.3 350.4 L581.6 351.2 L582.2 351.8 L583.0 352.2 L583.9 352.2 L584.7 351.9 L585.3 351.3 L585.7 350.5 Z" fill="#b3875a"/><path d="M584.4 349.8 L584.3 349.2 L584.2 348.4 L584.0 347.4 L583.8 346.3 L583.6 345.2 L583.4 344.0 L583.1 342.7 L582.9 341.3 L582.7 339.9 L582.4 338.6 L582.2 337.2 L581.9 335.8 L581.7 334.5 L581.4 333.0 L581.2 331.5 L580.9 329.9 L580.7 328.3 L580.4 326.7 L580.1 325.1 L579.9 323.6 L579.6 322.0 L579.4 320.5 L579.1 319.2 L578.9 317.9 L578.7 316.6 L578.5 315.4 L578.3 314.1 L578.1 313.0 L577.9 311.8 L577.7 310.7 L577.5 309.7 L577.4 308.7 L577.2 307.9 L577.1 307.1 L577.0 306.4 L576.9 305.9 L576.8 305.5 L576.5 305.3 L576.2 305.1 L575.9 305.1 L575.5 305.2 L575.3 305.5 L575.1 305.8 L575.1 306.1 L575.2 306.7 L575.3 307.4 L575.4 308.2 L575.6 309.0 L575.7 310.0 L575.9 311.0 L576.1 312.1 L576.3 313.3 L576.5 314.4 L576.7 315.7 L576.9 316.9 L577.1 318.1 L577.3 319.5 L577.5 320.8 L577.8 322.3 L578.0 323.9 L578.3 325.4 L578.6 327.0 L578.8 328.6 L579.1 330.2 L579.3 331.8 L579.6 333.3 L579.8 334.8 L580.1 336.2 L580.3 337.5 L580.5 338.9 L580.8 340.3 L581.0 341.6 L581.3 343.0 L581.5 344.3 L581.7 345.5 L581.9 346.7 L582.1 347.7 L582.3 348.7 L582.4 349.5 L582.6 350.2 L582.7 350.5 L583.0 350.8 L583.3 350.9 L583.7 350.9 L584.0 350.8 L584.3 350.5 L584.4 350.2 Z" fill="#dcc19e" opacity="0.85"/>
<path d="M592.1 350.3 L592.5 349.6 L592.9 348.6 L593.4 347.4 L593.9 346.1 L594.5 344.7 L595.1 343.3 L595.8 341.8 L596.4 340.2 L597.1 338.7 L597.8 337.2 L598.4 335.8 L599.1 334.5 L599.7 333.2 L600.3 331.9 L601.0 330.6 L601.6 329.3 L602.3 328.0 L603.0 326.7 L603.7 325.4 L604.3 324.2 L605.0 323.0 L605.6 321.8 L606.2 320.7 L606.8 319.6 L607.4 318.6 L608.0 317.6 L608.6 316.6 L609.2 315.6 L609.7 314.7 L610.3 313.8 L610.8 312.9 L611.3 312.1 L611.7 311.4 L612.1 310.7 L612.5 310.2 L612.8 309.7 L613.2 308.5 L613.2 307.2 L612.6 306.1 L611.7 305.2 L610.5 304.8 L609.2 304.8 L608.1 305.4 L607.2 306.3 L606.9 306.8 L606.6 307.3 L606.2 308.0 L605.8 308.7 L605.3 309.5 L604.7 310.4 L604.2 311.3 L603.6 312.3 L603.0 313.3 L602.4 314.3 L601.8 315.3 L601.2 316.4 L600.6 317.5 L599.9 318.6 L599.2 319.8 L598.6 321.0 L597.9 322.3 L597.1 323.5 L596.4 324.9 L595.7 326.2 L595.0 327.5 L594.3 328.9 L593.6 330.2 L592.9 331.5 L592.3 332.9 L591.6 334.4 L590.9 335.9 L590.2 337.5 L589.5 339.1 L588.9 340.6 L588.2 342.1 L587.6 343.5 L587.1 344.8 L586.6 345.9 L586.2 346.9 L585.9 347.7 L585.6 348.9 L585.8 350.3 L586.6 351.4 L587.7 352.1 L588.9 352.4 L590.3 352.2 L591.4 351.4 Z" fill="#7b5029"/><path d="M591.1 349.9 L591.4 349.1 L591.8 348.1 L592.3 347.0 L592.8 345.7 L593.4 344.3 L594.1 342.8 L594.7 341.3 L595.4 339.8 L596.1 338.2 L596.7 336.7 L597.4 335.3 L598.0 334.0 L598.6 332.7 L599.3 331.4 L599.9 330.1 L600.6 328.8 L601.3 327.5 L602.0 326.2 L602.7 324.9 L603.4 323.6 L604.0 322.4 L604.7 321.3 L605.3 320.1 L605.9 319.1 L606.5 318.0 L607.0 317.0 L607.6 316.0 L608.2 315.0 L608.8 314.1 L609.3 313.2 L609.9 312.3 L610.3 311.5 L610.8 310.8 L611.2 310.2 L611.5 309.6 L611.8 309.1 L612.1 308.3 L612.1 307.5 L611.7 306.7 L611.1 306.2 L610.3 305.9 L609.5 305.9 L608.7 306.3 L608.2 306.9 L607.9 307.3 L607.5 307.9 L607.1 308.6 L606.7 309.3 L606.2 310.1 L605.7 310.9 L605.1 311.9 L604.5 312.8 L603.9 313.8 L603.3 314.8 L602.7 315.9 L602.1 316.9 L601.5 318.0 L600.9 319.1 L600.2 320.3 L599.5 321.5 L598.8 322.8 L598.1 324.1 L597.4 325.4 L596.7 326.7 L596.0 328.0 L595.3 329.4 L594.6 330.7 L594.0 332.0 L593.3 333.4 L592.7 334.9 L592.0 336.4 L591.3 338.0 L590.6 339.5 L589.9 341.1 L589.3 342.5 L588.7 343.9 L588.2 345.2 L587.7 346.4 L587.3 347.3 L586.9 348.1 L586.8 349.0 L586.9 349.8 L587.4 350.6 L588.1 351.1 L589.0 351.2 L589.8 351.1 L590.6 350.6 Z" fill="#b3875a"/><path d="M589.9 349.4 L590.2 348.6 L590.6 347.6 L591.1 346.5 L591.7 345.2 L592.2 343.8 L592.9 342.3 L593.5 340.8 L594.2 339.2 L594.9 337.7 L595.6 336.2 L596.2 334.8 L596.9 333.4 L597.5 332.1 L598.1 330.8 L598.8 329.5 L599.5 328.2 L600.2 326.9 L600.9 325.6 L601.6 324.3 L602.3 323.0 L602.9 321.8 L603.6 320.6 L604.2 319.5 L604.8 318.4 L605.4 317.4 L606.0 316.4 L606.6 315.4 L607.2 314.4 L607.7 313.4 L608.3 312.5 L608.8 311.7 L609.3 310.9 L609.7 310.2 L610.1 309.5 L610.5 308.9 L610.8 308.5 L610.9 308.1 L610.9 307.8 L610.7 307.5 L610.5 307.2 L610.1 307.1 L609.8 307.1 L609.5 307.3 L609.2 307.5 L608.9 308.0 L608.6 308.6 L608.2 309.2 L607.7 309.9 L607.3 310.7 L606.7 311.6 L606.2 312.5 L605.6 313.5 L605.0 314.5 L604.4 315.5 L603.8 316.5 L603.2 317.6 L602.6 318.6 L602.0 319.8 L601.3 320.9 L600.6 322.1 L599.9 323.4 L599.2 324.7 L598.5 326.0 L597.8 327.3 L597.1 328.6 L596.5 330.0 L595.8 331.3 L595.1 332.6 L594.5 333.9 L593.8 335.4 L593.1 336.9 L592.5 338.5 L591.8 340.0 L591.1 341.6 L590.5 343.0 L589.9 344.4 L589.4 345.7 L588.9 346.9 L588.5 347.8 L588.1 348.6 L588.0 349.0 L588.1 349.4 L588.3 349.7 L588.6 349.9 L589.0 350.0 L589.4 349.9 L589.7 349.7 Z" fill="#dcc19e" opacity="0.85"/>
<rect x="542.4" y="287.6" width="7.2" height="3.8" rx="1.9" fill="#4c82cc" stroke="#0d1a2e" stroke-width="1.1" transform="rotate(-15 546.0 289.5)"/>
<rect x="552.4" y="289.1" width="7.2" height="3.8" rx="1.9" fill="#4c82cc" stroke="#0d1a2e" stroke-width="1.1" transform="rotate(30 556.0 291.0)"/>
<rect x="555.9" y="290.9" width="7.2" height="3.8" rx="1.9" fill="#4c82cc" stroke="#0d1a2e" stroke-width="1.1" transform="rotate(0 559.5 292.8)"/>
<rect x="507.9" y="304.6" width="7.2" height="3.8" rx="1.9" fill="#4c82cc" stroke="#0d1a2e" stroke-width="1.1" transform="rotate(-40 511.5 306.5)"/>
<rect x="511.9" y="301.6" width="7.2" height="3.8" rx="1.9" fill="#4c82cc" stroke="#0d1a2e" stroke-width="1.1" transform="rotate(-30 515.5 303.5)"/>
<rect x="502.4" y="335.6" width="7.2" height="3.8" rx="1.9" fill="#4c82cc" stroke="#0d1a2e" stroke-width="1.1" transform="rotate(60 506.0 337.5)"/>
<rect x="505.4" y="336.6" width="7.2" height="3.8" rx="1.9" fill="#4c82cc" stroke="#0d1a2e" stroke-width="1.1" transform="rotate(-20 509.0 338.5)"/>
<rect x="528.9" y="346.6" width="7.2" height="3.8" rx="1.9" fill="#4c82cc" stroke="#0d1a2e" stroke-width="1.1" transform="rotate(20 532.5 348.5)"/>
<rect x="542.9" y="347.1" width="7.2" height="3.8" rx="1.9" fill="#4c82cc" stroke="#0d1a2e" stroke-width="1.1" transform="rotate(10 546.5 349.0)"/>
<rect x="548.4" y="347.6" width="7.2" height="3.8" rx="1.9" fill="#4c82cc" stroke="#0d1a2e" stroke-width="1.1" transform="rotate(-10 552.0 349.5)"/>
<rect x="559.9" y="352.1" width="7.2" height="3.8" rx="1.9" fill="#4c82cc" stroke="#0d1a2e" stroke-width="1.1" transform="rotate(-30 563.5 354.0)"/>
<rect x="563.4" y="404.6" width="7.2" height="3.8" rx="1.9" fill="#4c82cc" stroke="#0d1a2e" stroke-width="1.1" transform="rotate(80 567.0 406.5)"/>
<rect x="563.9" y="409.1" width="7.2" height="3.8" rx="1.9" fill="#4c82cc" stroke="#0d1a2e" stroke-width="1.1" transform="rotate(70 567.5 411.0)"/>
<rect x="574.4" y="312.1" width="7.2" height="3.8" rx="1.9" fill="#4c82cc" stroke="#0d1a2e" stroke-width="1.1" transform="rotate(80 578.0 314.0)"/>
<rect x="575.4" y="316.6" width="7.2" height="3.8" rx="1.9" fill="#4c82cc" stroke="#0d1a2e" stroke-width="1.1" transform="rotate(70 579.0 318.5)"/>
<rect x="582.4" y="292.6" width="7.2" height="3.8" rx="1.9" fill="#4c82cc" stroke="#0d1a2e" stroke-width="1.1" transform="rotate(80 586.0 294.5)"/>
<rect x="586.4" y="293.6" width="7.2" height="3.8" rx="1.9" fill="#4c82cc" stroke="#0d1a2e" stroke-width="1.1" transform="rotate(10 590.0 295.5)"/>
<rect x="590.9" y="293.1" width="7.2" height="3.8" rx="1.9" fill="#4c82cc" stroke="#0d1a2e" stroke-width="1.1" transform="rotate(0 594.5 295.0)"/>
<rect x="600.4" y="308.1" width="7.2" height="3.8" rx="1.9" fill="#4c82cc" stroke="#0d1a2e" stroke-width="1.1" transform="rotate(-60 604.0 310.0)"/>
<rect x="603.4" y="304.6" width="7.2" height="3.8" rx="1.9" fill="#4c82cc" stroke="#0d1a2e" stroke-width="1.1" transform="rotate(-50 607.0 306.5)"/>
<rect x="614.9" y="303.1" width="7.2" height="3.8" rx="1.9" fill="#4c82cc" stroke="#0d1a2e" stroke-width="1.1" transform="rotate(10 618.5 305.0)"/>
<rect x="618.4" y="304.6" width="7.2" height="3.8" rx="1.9" fill="#4c82cc" stroke="#0d1a2e" stroke-width="1.1" transform="rotate(20 622.0 306.5)"/>
<rect x="645.9" y="311.6" width="7.2" height="3.8" rx="1.9" fill="#4c82cc" stroke="#0d1a2e" stroke-width="1.1" transform="rotate(60 649.5 313.5)"/>
<rect x="649.9" y="315.6" width="7.2" height="3.8" rx="1.9" fill="#4c82cc" stroke="#0d1a2e" stroke-width="1.1" transform="rotate(50 653.5 317.5)"/>
<rect x="654.9" y="345.6" width="7.2" height="3.8" rx="1.9" fill="#4c82cc" stroke="#0d1a2e" stroke-width="1.1" transform="rotate(-70 658.5 347.5)"/>
<rect x="653.4" y="349.1" width="7.2" height="3.8" rx="1.9" fill="#4c82cc" stroke="#0d1a2e" stroke-width="1.1" transform="rotate(-60 657.0 351.0)"/>
<rect x="611.4" y="341.6" width="7.2" height="3.8" rx="1.9" fill="#4c82cc" stroke="#0d1a2e" stroke-width="1.1" transform="rotate(80 615.0 343.5)"/>
<rect x="611.9" y="346.1" width="7.2" height="3.8" rx="1.9" fill="#4c82cc" stroke="#0d1a2e" stroke-width="1.1" transform="rotate(80 615.5 348.0)"/>
<rect x="561.9" y="335.1" width="7.2" height="3.8" rx="1.9" fill="#4c82cc" stroke="#0d1a2e" stroke-width="1.1" transform="rotate(60 565.5 337.0)"/>
<rect x="564.4" y="338.6" width="7.2" height="3.8" rx="1.9" fill="#4c82cc" stroke="#0d1a2e" stroke-width="1.1" transform="rotate(50 568.0 340.5)"/>
<rect x="566.4" y="341.1" width="7.2" height="3.8" rx="1.9" fill="#4c82cc" stroke="#0d1a2e" stroke-width="1.1" transform="rotate(40 570.0 343.0)"/>
<rect x="576.9" y="339.6" width="7.2" height="3.8" rx="1.9" fill="#4c82cc" stroke="#0d1a2e" stroke-width="1.1" transform="rotate(70 580.5 341.5)"/>
<rect x="580.4" y="340.1" width="7.2" height="3.8" rx="1.9" fill="#4c82cc" stroke="#0d1a2e" stroke-width="1.1" transform="rotate(-10 584.0 342.0)"/>
<rect x="584.4" y="338.6" width="7.2" height="3.8" rx="1.9" fill="#4c82cc" stroke="#0d1a2e" stroke-width="1.1" transform="rotate(20 588.0 340.5)"/>
<rect x="584.9" y="352.1" width="7.2" height="3.8" rx="1.9" fill="#4c82cc" stroke="#0d1a2e" stroke-width="1.1" transform="rotate(-30 588.5 354.0)"/>
<rect x="587.4" y="355.6" width="7.2" height="3.8" rx="1.9" fill="#4c82cc" stroke="#0d1a2e" stroke-width="1.1" transform="rotate(70 591.0 357.5)"/>
<rect x="592.9" y="367.1" width="7.2" height="3.8" rx="1.9" fill="#4c82cc" stroke="#0d1a2e" stroke-width="1.1" transform="rotate(80 596.5 369.0)"/>
<rect x="596.4" y="369.1" width="7.2" height="3.8" rx="1.9" fill="#4c82cc" stroke="#0d1a2e" stroke-width="1.1" transform="rotate(30 600.0 371.0)"/>
<rect x="595.4" y="379.6" width="7.2" height="3.8" rx="1.9" fill="#4c82cc" stroke="#0d1a2e" stroke-width="1.1" transform="rotate(70 599.0 381.5)"/>
<rect x="598.9" y="378.6" width="7.2" height="3.8" rx="1.9" fill="#4c82cc" stroke="#0d1a2e" stroke-width="1.1" transform="rotate(-30 602.5 380.5)"/>
<rect x="600.4" y="392.1" width="7.2" height="3.8" rx="1.9" fill="#4c82cc" stroke="#0d1a2e" stroke-width="1.1" transform="rotate(-10 604.0 394.0)"/>
<rect x="604.9" y="392.6" width="7.2" height="3.8" rx="1.9" fill="#4c82cc" stroke="#0d1a2e" stroke-width="1.1" transform="rotate(0 608.5 394.5)"/>
<rect x="608.4" y="393.6" width="7.2" height="3.8" rx="1.9" fill="#4c82cc" stroke="#0d1a2e" stroke-width="1.1" transform="rotate(30 612.0 395.5)"/>
<rect x="603.4" y="409.1" width="7.2" height="3.8" rx="1.9" fill="#4c82cc" stroke="#0d1a2e" stroke-width="1.1" transform="rotate(60 607.0 411.0)"/>
<rect x="606.4" y="412.1" width="7.2" height="3.8" rx="1.9" fill="#4c82cc" stroke="#0d1a2e" stroke-width="1.1" transform="rotate(40 610.0 414.0)"/>
<rect x="609.9" y="414.1" width="7.2" height="3.8" rx="1.9" fill="#4c82cc" stroke="#0d1a2e" stroke-width="1.1" transform="rotate(10 613.5 416.0)"/>
<rect x="600.9" y="415.1" width="7.2" height="3.8" rx="1.9" fill="#4c82cc" stroke="#0d1a2e" stroke-width="1.1" transform="rotate(80 604.5 417.0)"/>
<rect x="592.9" y="439.1" width="7.2" height="3.8" rx="1.9" fill="#4c82cc" stroke="#0d1a2e" stroke-width="1.1" transform="rotate(70 596.5 441.0)"/>
<rect x="596.4" y="442.1" width="7.2" height="3.8" rx="1.9" fill="#4c82cc" stroke="#0d1a2e" stroke-width="1.1" transform="rotate(60 600.0 444.0)"/>
<rect x="599.9" y="441.1" width="7.2" height="3.8" rx="1.9" fill="#4c82cc" stroke="#0d1a2e" stroke-width="1.1" transform="rotate(-40 603.5 443.0)"/>
<rect x="591.4" y="454.6" width="7.2" height="3.8" rx="1.9" fill="#4c82cc" stroke="#0d1a2e" stroke-width="1.1" transform="rotate(80 595.0 456.5)"/>
<rect x="592.4" y="458.6" width="7.2" height="3.8" rx="1.9" fill="#4c82cc" stroke="#0d1a2e" stroke-width="1.1" transform="rotate(30 596.0 460.5)"/>
<rect x="608.4" y="460.1" width="7.2" height="3.8" rx="1.9" fill="#4c82cc" stroke="#0d1a2e" stroke-width="1.1" transform="rotate(70 612.0 462.0)"/>
<rect x="609.9" y="465.1" width="7.2" height="3.8" rx="1.9" fill="#4c82cc" stroke="#0d1a2e" stroke-width="1.1" transform="rotate(60 613.5 467.0)"/>
<rect x="611.9" y="468.1" width="7.2" height="3.8" rx="1.9" fill="#4c82cc" stroke="#0d1a2e" stroke-width="1.1" transform="rotate(50 615.5 470.0)"/>
</g>
<g transform="translate(224 0.5)">
<path d="M564.4 346.2 L564.1 346.4 L563.7 346.6 L563.1 346.8 L562.4 347.2 L561.6 347.6 L560.7 348.0 L559.8 348.5 L558.9 349.0 L558.0 349.6 L557.1 350.3 L556.2 351.1 L555.5 352.0 L554.8 352.8 L554.3 353.7 L553.8 354.5 L553.3 355.5 L552.9 356.4 L552.5 357.4 L552.2 358.4 L551.9 359.5 L551.7 360.5 L551.5 361.6 L551.3 362.7 L551.3 363.9 L551.2 365.0 L551.3 366.1 L551.4 367.3 L551.5 368.5 L551.7 369.7 L551.9 370.9 L552.2 372.1 L552.5 373.4 L552.8 374.6 L553.2 375.8 L553.6 377.0 L554.1 378.2 L554.6 379.4 L555.2 380.6 L555.9 381.8 L556.6 383.0 L557.4 384.2 L558.1 385.3 L558.9 386.4 L559.6 387.5 L560.3 388.6 L561.0 389.6 L561.6 390.5 L562.2 391.5 L562.8 392.5 L563.4 393.5 L564.0 394.5 L564.6 395.4 L565.2 396.3 L565.7 397.1 L566.2 398.0 L566.7 398.7 L567.1 399.5 L567.4 400.2 L567.6 400.9 L567.8 401.5 L568.0 402.2 L568.1 402.9 L568.2 403.5 L568.2 404.2 L568.2 404.9 L568.1 405.7 L568.0 406.4 L567.9 407.2 L567.7 408.0 L567.5 408.8 L567.3 409.5 L567.1 410.3 L567.0 411.1 L566.7 411.9 L566.5 412.8 L566.1 413.7 L565.8 414.6 L565.4 415.5 L565.0 416.4 L564.6 417.2 L564.3 418.0 L564.0 418.7 L563.8 419.3 L563.7 419.8 L563.6 419.9 L563.6 420.1 L563.7 420.2 L563.8 420.3 L563.9 420.4 L564.1 420.4 L564.2 420.3 L564.3 420.2 L564.7 419.8 L565.1 419.4 L565.7 418.8 L566.2 418.2 L566.8 417.5 L567.4 416.7 L568.1 415.9 L568.7 415.1 L569.3 414.3 L569.9 413.4 L570.4 412.5 L570.9 411.7 L571.2 410.9 L571.6 410.1 L571.9 409.2 L572.2 408.4 L572.5 407.5 L572.7 406.6 L573.0 405.6 L573.2 404.7 L573.3 403.7 L573.3 402.6 L573.3 401.6 L573.2 400.5 L572.9 399.4 L572.6 398.3 L572.2 397.2 L571.7 396.2 L571.2 395.2 L570.7 394.2 L570.2 393.3 L569.6 392.3 L569.0 391.4 L568.5 390.4 L567.9 389.5 L567.4 388.5 L566.8 387.4 L566.1 386.3 L565.4 385.2 L564.7 384.1 L564.0 383.0 L563.3 381.9 L562.6 380.9 L561.9 379.8 L561.3 378.8 L560.8 377.7 L560.3 376.8 L559.9 375.8 L559.6 374.8 L559.2 373.8 L558.9 372.8 L558.6 371.8 L558.4 370.7 L558.2 369.7 L558.0 368.7 L557.9 367.7 L557.8 366.8 L557.7 365.8 L557.7 365.0 L557.7 364.1 L557.8 363.4 L557.9 362.6 L558.0 361.8 L558.2 361.1 L558.4 360.3 L558.7 359.6 L558.9 358.9 L559.2 358.2 L559.5 357.6 L559.9 357.0 L560.2 356.5 L560.5 356.0 L560.8 355.7 L561.2 355.3 L561.8 354.9 L562.4 354.5 L563.0 354.1 L563.7 353.8 L564.4 353.4 L565.2 353.0 L565.8 352.7 L566.5 352.4 L567.1 352.1 L567.6 351.8 L568.6 351.0 L569.1 349.9 L569.2 348.6 L568.8 347.4 L568.0 346.4 L566.9 345.9 L565.6 345.8 Z" fill="#7b5029"/><path d="M564.9 347.1 L564.6 347.3 L564.1 347.6 L563.5 347.8 L562.8 348.2 L562.1 348.6 L561.2 349.0 L560.4 349.4 L559.5 350.0 L558.6 350.5 L557.8 351.2 L557.0 351.9 L556.3 352.7 L555.8 353.4 L555.3 354.2 L554.8 355.1 L554.3 355.9 L553.9 356.8 L553.6 357.8 L553.3 358.7 L553.0 359.7 L552.7 360.7 L552.6 361.8 L552.4 362.8 L552.4 363.9 L552.3 365.0 L552.4 366.1 L552.5 367.2 L552.6 368.4 L552.8 369.5 L553.0 370.7 L553.2 371.9 L553.5 373.1 L553.9 374.3 L554.2 375.4 L554.6 376.6 L555.1 377.8 L555.6 379.0 L556.2 380.1 L556.8 381.3 L557.5 382.5 L558.3 383.6 L559.0 384.7 L559.7 385.8 L560.5 386.9 L561.2 388.0 L561.9 389.0 L562.5 390.0 L563.1 391.0 L563.7 392.0 L564.3 393.0 L564.9 393.9 L565.5 394.9 L566.1 395.8 L566.6 396.6 L567.1 397.5 L567.5 398.3 L567.9 399.1 L568.3 399.9 L568.5 400.6 L568.7 401.4 L568.9 402.1 L569.0 402.8 L569.0 403.5 L569.0 404.3 L569.0 405.1 L568.9 405.8 L568.8 406.6 L568.6 407.4 L568.4 408.2 L568.2 409.0 L568.0 409.8 L567.8 410.6 L567.6 411.3 L567.3 412.2 L566.9 413.0 L566.6 413.9 L566.2 414.8 L565.7 415.7 L565.3 416.6 L564.9 417.4 L564.5 418.1 L564.2 418.8 L564.0 419.4 L563.8 419.9 L563.7 420.0 L563.7 420.1 L563.8 420.2 L563.9 420.2 L564.0 420.3 L564.1 420.3 L564.2 420.2 L564.2 420.1 L564.6 419.8 L565.0 419.3 L565.4 418.7 L565.9 418.0 L566.5 417.3 L567.1 416.5 L567.7 415.7 L568.3 414.9 L568.8 414.0 L569.3 413.2 L569.8 412.3 L570.2 411.4 L570.6 410.6 L570.9 409.8 L571.2 409.0 L571.5 408.2 L571.7 407.3 L572.0 406.4 L572.2 405.5 L572.3 404.6 L572.4 403.6 L572.4 402.7 L572.4 401.7 L572.3 400.6 L572.0 399.6 L571.7 398.6 L571.3 397.6 L570.9 396.6 L570.4 395.7 L569.9 394.7 L569.3 393.8 L568.8 392.8 L568.2 391.9 L567.6 390.9 L567.1 390.0 L566.5 389.0 L565.9 388.0 L565.2 386.9 L564.5 385.8 L563.8 384.7 L563.1 383.6 L562.4 382.5 L561.7 381.4 L561.0 380.3 L560.4 379.3 L559.8 378.2 L559.3 377.2 L558.9 376.2 L558.5 375.2 L558.2 374.2 L557.9 373.1 L557.6 372.0 L557.3 371.0 L557.1 369.9 L556.9 368.9 L556.8 367.8 L556.7 366.9 L556.6 365.9 L556.6 365.0 L556.6 364.1 L556.7 363.3 L556.8 362.4 L557.0 361.6 L557.1 360.8 L557.4 360.0 L557.6 359.2 L557.9 358.5 L558.2 357.8 L558.6 357.1 L558.9 356.5 L559.3 355.9 L559.7 355.3 L560.1 354.9 L560.5 354.5 L561.1 354.0 L561.8 353.6 L562.5 353.2 L563.2 352.8 L564.0 352.4 L564.7 352.0 L565.4 351.7 L566.0 351.4 L566.6 351.1 L567.1 350.9 L567.7 350.3 L568.1 349.6 L568.1 348.7 L567.9 347.9 L567.3 347.3 L566.6 346.9 L565.7 346.9 Z" fill="#b3875a"/><path d="M565.6 348.2 L565.2 348.4 L564.7 348.7 L564.1 349.0 L563.4 349.3 L562.6 349.7 L561.8 350.1 L561.0 350.5 L560.1 351.0 L559.3 351.5 L558.6 352.1 L557.9 352.8 L557.3 353.4 L556.8 354.1 L556.3 354.9 L555.9 355.6 L555.5 356.5 L555.1 357.3 L554.7 358.2 L554.4 359.1 L554.2 360.0 L554.0 361.0 L553.8 362.0 L553.7 363.0 L553.6 364.0 L553.6 365.0 L553.6 366.0 L553.7 367.1 L553.8 368.2 L554.0 369.3 L554.2 370.5 L554.4 371.6 L554.7 372.8 L555.0 373.9 L555.4 375.1 L555.8 376.2 L556.2 377.3 L556.7 378.5 L557.2 379.6 L557.9 380.7 L558.5 381.9 L559.3 383.0 L560.0 384.1 L560.7 385.2 L561.4 386.3 L562.2 387.4 L562.8 388.4 L563.5 389.4 L564.1 390.4 L564.7 391.4 L565.2 392.4 L565.8 393.3 L566.4 394.3 L567.0 395.2 L567.5 396.1 L568.0 397.0 L568.5 397.8 L568.9 398.7 L569.3 399.5 L569.5 400.3 L569.7 401.2 L569.9 402.0 L570.0 402.8 L570.0 403.6 L570.0 404.4 L569.9 405.2 L569.8 406.0 L569.6 406.8 L569.4 407.6 L569.2 408.4 L569.0 409.2 L568.7 410.0 L568.5 410.8 L568.2 411.6 L567.9 412.5 L567.5 413.3 L567.0 414.2 L566.6 415.1 L566.1 416.0 L565.7 416.8 L565.2 417.6 L564.8 418.3 L564.4 418.9 L564.1 419.5 L563.9 419.9 L563.9 420.0 L563.9 420.0 L563.9 420.1 L563.9 420.1 L564.0 420.1 L564.0 420.1 L564.1 420.1 L564.1 420.1 L564.4 419.6 L564.7 419.1 L565.2 418.5 L565.6 417.8 L566.2 417.1 L566.7 416.3 L567.2 415.5 L567.8 414.6 L568.3 413.7 L568.8 412.9 L569.2 412.0 L569.5 411.2 L569.8 410.4 L570.1 409.6 L570.4 408.8 L570.6 407.9 L570.9 407.1 L571.1 406.3 L571.2 405.4 L571.4 404.5 L571.4 403.6 L571.4 402.7 L571.4 401.8 L571.3 400.8 L571.0 399.9 L570.7 399.0 L570.4 398.0 L569.9 397.1 L569.4 396.2 L568.9 395.3 L568.4 394.4 L567.8 393.4 L567.2 392.5 L566.7 391.5 L566.1 390.6 L565.5 389.6 L564.9 388.6 L564.3 387.5 L563.6 386.4 L562.9 385.3 L562.1 384.2 L561.4 383.2 L560.7 382.1 L560.0 381.0 L559.4 379.9 L558.8 378.8 L558.3 377.7 L557.8 376.7 L557.4 375.6 L557.1 374.5 L556.7 373.4 L556.4 372.3 L556.2 371.2 L555.9 370.1 L555.7 369.1 L555.6 368.0 L555.5 367.0 L555.4 366.0 L555.4 365.0 L555.4 364.0 L555.5 363.1 L555.6 362.2 L555.7 361.4 L555.9 360.5 L556.2 359.6 L556.5 358.8 L556.8 358.0 L557.1 357.2 L557.5 356.5 L557.9 355.8 L558.3 355.2 L558.7 354.6 L559.2 354.0 L559.7 353.5 L560.4 353.0 L561.1 352.5 L561.9 352.1 L562.6 351.7 L563.4 351.3 L564.2 350.9 L564.8 350.6 L565.5 350.3 L566.0 350.0 L566.4 349.8 L566.7 349.6 L566.9 349.2 L566.9 348.9 L566.8 348.6 L566.6 348.3 L566.2 348.1 L565.9 348.1 Z" fill="#dcc19e" opacity="0.85"/>
<path d="M472.8 344.7 L473.5 344.5 L474.5 344.3 L475.6 343.9 L476.8 343.5 L478.1 343.1 L479.5 342.7 L481.0 342.2 L482.5 341.8 L484.0 341.4 L485.4 341.0 L486.9 340.8 L488.3 340.6 L489.7 340.4 L491.2 340.2 L492.7 340.0 L494.2 339.9 L495.8 339.7 L497.4 339.6 L498.9 339.6 L500.5 339.6 L502.1 339.6 L503.7 339.7 L505.2 339.8 L506.7 340.0 L508.2 340.2 L509.8 340.4 L511.4 340.7 L513.0 341.0 L514.6 341.4 L516.2 341.9 L517.8 342.3 L519.4 342.8 L520.9 343.3 L522.5 343.8 L523.9 344.3 L525.3 344.7 L526.5 345.2 L527.7 345.7 L528.8 346.2 L529.9 346.7 L530.9 347.3 L532.0 347.9 L533.1 348.5 L534.2 349.0 L535.4 349.6 L536.6 350.1 L537.8 350.6 L539.1 351.1 L540.3 351.4 L541.6 351.7 L542.8 352.0 L544.0 352.2 L545.3 352.4 L546.5 352.6 L547.7 352.7 L549.0 352.8 L550.2 352.9 L551.4 353.0 L552.6 353.0 L553.8 353.0 L555.1 353.0 L556.3 352.9 L557.6 352.8 L558.8 352.7 L560.0 352.5 L561.2 352.3 L562.4 352.1 L563.6 351.9 L564.8 351.7 L566.0 351.5 L567.1 351.2 L568.2 351.0 L569.4 350.7 L570.7 350.4 L571.9 350.0 L573.2 349.6 L574.4 349.3 L575.6 348.9 L576.8 348.5 L577.8 348.1 L578.8 347.8 L579.7 347.5 L580.4 347.3 L581.0 347.1 L582.1 346.5 L582.9 345.5 L583.2 344.3 L583.1 343.0 L582.5 341.9 L581.5 341.1 L580.3 340.8 L579.0 340.9 L578.4 341.1 L577.6 341.3 L576.8 341.6 L575.8 342.0 L574.7 342.3 L573.6 342.7 L572.5 343.1 L571.3 343.4 L570.1 343.8 L568.9 344.1 L567.8 344.4 L566.8 344.6 L565.7 344.9 L564.6 345.1 L563.5 345.3 L562.4 345.6 L561.3 345.8 L560.2 346.0 L559.1 346.1 L558.0 346.3 L556.9 346.4 L555.9 346.5 L554.8 346.6 L553.8 346.6 L552.7 346.6 L551.6 346.6 L550.5 346.5 L549.5 346.5 L548.4 346.4 L547.3 346.2 L546.2 346.1 L545.2 345.9 L544.1 345.7 L543.0 345.5 L542.0 345.2 L540.9 344.9 L539.9 344.6 L539.0 344.3 L538.0 343.8 L537.1 343.4 L536.0 342.9 L535.0 342.3 L533.9 341.7 L532.7 341.1 L531.5 340.5 L530.1 339.9 L528.8 339.4 L527.3 338.9 L525.9 338.4 L524.4 337.9 L522.8 337.4 L521.2 336.9 L519.5 336.4 L517.8 336.0 L516.1 335.5 L514.3 335.1 L512.5 334.8 L510.8 334.4 L509.0 334.2 L507.3 334.0 L505.5 334.0 L503.8 333.9 L502.1 334.0 L500.4 334.1 L498.6 334.2 L496.9 334.4 L495.2 334.6 L493.6 334.9 L492.0 335.2 L490.4 335.5 L488.8 335.8 L487.3 336.2 L485.8 336.7 L484.3 337.3 L482.8 338.0 L481.3 338.7 L479.8 339.5 L478.5 340.2 L477.2 341.0 L476.0 341.7 L474.9 342.4 L473.9 343.0 L473.1 343.5 L472.4 343.9 L472.3 344.0 L472.2 344.1 L472.2 344.3 L472.2 344.5 L472.3 344.6 L472.4 344.7 L472.6 344.7 Z" fill="#7b5029"/><path d="M472.7 344.5 L473.5 344.3 L474.4 344.0 L475.5 343.7 L476.7 343.2 L478.0 342.7 L479.3 342.2 L480.8 341.7 L482.3 341.3 L483.8 340.8 L485.2 340.4 L486.7 340.1 L488.1 339.8 L489.5 339.6 L491.0 339.4 L492.6 339.2 L494.1 339.0 L495.7 338.9 L497.3 338.8 L498.9 338.7 L500.5 338.7 L502.1 338.7 L503.7 338.7 L505.3 338.8 L506.8 339.0 L508.4 339.1 L509.9 339.4 L511.6 339.7 L513.2 340.0 L514.8 340.4 L516.5 340.9 L518.1 341.3 L519.7 341.8 L521.3 342.3 L522.8 342.8 L524.2 343.3 L525.6 343.7 L526.9 344.2 L528.1 344.7 L529.2 345.2 L530.3 345.8 L531.4 346.3 L532.5 346.9 L533.6 347.5 L534.7 348.1 L535.8 348.6 L537.0 349.1 L538.2 349.6 L539.4 350.0 L540.6 350.4 L541.8 350.7 L543.0 350.9 L544.2 351.1 L545.4 351.3 L546.6 351.5 L547.8 351.6 L549.0 351.8 L550.2 351.8 L551.4 351.9 L552.6 351.9 L553.8 351.9 L555.0 351.9 L556.3 351.8 L557.5 351.7 L558.7 351.6 L559.9 351.4 L561.1 351.3 L562.3 351.1 L563.4 350.8 L564.6 350.6 L565.7 350.4 L566.9 350.1 L568.0 349.9 L569.1 349.6 L570.4 349.3 L571.6 348.9 L572.8 348.6 L574.1 348.2 L575.3 347.8 L576.4 347.4 L577.5 347.1 L578.5 346.8 L579.3 346.5 L580.1 346.2 L580.6 346.0 L581.4 345.6 L581.9 345.0 L582.1 344.2 L582.0 343.4 L581.6 342.6 L581.0 342.1 L580.2 341.9 L579.4 342.0 L578.7 342.1 L578.0 342.4 L577.1 342.7 L576.1 343.0 L575.1 343.4 L573.9 343.7 L572.8 344.1 L571.6 344.5 L570.4 344.8 L569.2 345.2 L568.1 345.5 L567.0 345.7 L565.9 345.9 L564.8 346.2 L563.7 346.4 L562.6 346.6 L561.5 346.9 L560.4 347.0 L559.3 347.2 L558.2 347.4 L557.1 347.5 L556.0 347.6 L554.9 347.7 L553.8 347.7 L552.7 347.7 L551.6 347.7 L550.5 347.6 L549.4 347.5 L548.3 347.4 L547.2 347.3 L546.1 347.2 L545.0 347.0 L543.9 346.8 L542.8 346.5 L541.7 346.3 L540.6 346.0 L539.6 345.6 L538.6 345.3 L537.6 344.8 L536.6 344.3 L535.5 343.8 L534.5 343.3 L533.4 342.7 L532.2 342.1 L531.0 341.5 L529.7 340.9 L528.4 340.4 L527.0 339.9 L525.5 339.4 L524.0 338.9 L522.5 338.4 L520.9 337.9 L519.2 337.4 L517.5 337.0 L515.8 336.5 L514.1 336.1 L512.3 335.8 L510.6 335.5 L508.9 335.2 L507.2 335.0 L505.5 334.9 L503.8 334.9 L502.1 335.0 L500.4 335.0 L498.7 335.1 L497.0 335.3 L495.3 335.5 L493.7 335.7 L492.1 336.0 L490.5 336.3 L489.0 336.6 L487.5 337.0 L486.0 337.4 L484.5 338.0 L483.0 338.6 L481.5 339.2 L480.0 339.9 L478.7 340.6 L477.3 341.3 L476.1 342.0 L475.0 342.6 L474.0 343.2 L473.2 343.7 L472.5 344.1 L472.4 344.1 L472.4 344.2 L472.3 344.3 L472.4 344.4 L472.4 344.5 L472.5 344.5 L472.6 344.6 Z" fill="#b3875a"/><path d="M472.6 344.4 L473.4 344.1 L474.3 343.8 L475.3 343.4 L476.5 342.9 L477.8 342.3 L479.1 341.8 L480.6 341.2 L482.0 340.7 L483.5 340.2 L485.0 339.7 L486.5 339.3 L487.9 339.0 L489.4 338.7 L490.9 338.5 L492.4 338.3 L494.0 338.1 L495.6 337.9 L497.2 337.8 L498.8 337.7 L500.5 337.6 L502.1 337.6 L503.7 337.6 L505.3 337.7 L506.9 337.8 L508.5 338.0 L510.1 338.3 L511.8 338.6 L513.4 338.9 L515.1 339.3 L516.8 339.7 L518.4 340.2 L520.0 340.7 L521.6 341.2 L523.1 341.7 L524.6 342.2 L526.0 342.6 L527.3 343.1 L528.6 343.6 L529.7 344.1 L530.9 344.7 L532.0 345.3 L533.1 345.9 L534.2 346.4 L535.2 347.0 L536.3 347.5 L537.4 348.0 L538.6 348.5 L539.7 348.9 L540.9 349.2 L542.1 349.5 L543.3 349.7 L544.4 349.9 L545.6 350.1 L546.8 350.3 L548.0 350.4 L549.1 350.5 L550.3 350.6 L551.5 350.7 L552.6 350.7 L553.8 350.7 L555.0 350.7 L556.2 350.6 L557.3 350.5 L558.5 350.4 L559.7 350.2 L560.9 350.0 L562.0 349.8 L563.2 349.6 L564.3 349.4 L565.5 349.2 L566.6 348.9 L567.7 348.7 L568.8 348.4 L570.0 348.1 L571.3 347.8 L572.5 347.4 L573.7 347.0 L574.9 346.6 L576.0 346.3 L577.1 345.9 L578.1 345.6 L578.9 345.3 L579.7 345.1 L580.3 344.9 L580.6 344.7 L580.8 344.4 L580.9 344.1 L580.9 343.7 L580.7 343.4 L580.4 343.2 L580.1 343.1 L579.7 343.1 L579.1 343.3 L578.4 343.6 L577.5 343.9 L576.5 344.2 L575.5 344.5 L574.3 344.9 L573.2 345.3 L572.0 345.7 L570.7 346.0 L569.6 346.3 L568.4 346.7 L567.3 346.9 L566.2 347.2 L565.1 347.4 L564.0 347.6 L562.9 347.9 L561.7 348.1 L560.6 348.3 L559.4 348.4 L558.3 348.6 L557.2 348.7 L556.0 348.8 L554.9 348.9 L553.8 348.9 L552.7 348.9 L551.5 348.9 L550.4 348.8 L549.3 348.8 L548.1 348.7 L547.0 348.5 L545.9 348.4 L544.8 348.2 L543.6 348.0 L542.5 347.7 L541.4 347.4 L540.3 347.1 L539.2 346.8 L538.1 346.4 L537.1 345.9 L536.0 345.4 L535.0 344.9 L533.9 344.3 L532.8 343.7 L531.7 343.1 L530.5 342.6 L529.3 342.0 L528.0 341.5 L526.6 341.0 L525.2 340.5 L523.7 340.0 L522.1 339.5 L520.5 339.0 L518.9 338.6 L517.2 338.1 L515.5 337.7 L513.8 337.3 L512.1 336.9 L510.4 336.6 L508.7 336.3 L507.1 336.2 L505.4 336.1 L503.8 336.0 L502.1 336.0 L500.4 336.1 L498.7 336.2 L497.1 336.3 L495.4 336.5 L493.8 336.7 L492.2 336.9 L490.7 337.2 L489.1 337.5 L487.7 337.8 L486.2 338.2 L484.7 338.7 L483.2 339.2 L481.7 339.8 L480.3 340.5 L478.9 341.1 L477.5 341.7 L476.3 342.3 L475.1 342.9 L474.1 343.4 L473.3 343.9 L472.6 344.2 L472.5 344.2 L472.5 344.3 L472.5 344.3 L472.5 344.3 L472.5 344.4 L472.6 344.4 L472.6 344.4 Z" fill="#dcc19e" opacity="0.85"/>
<path d="M497.1 353.0 L497.5 353.0 L497.9 352.9 L498.3 352.9 L498.9 352.9 L499.5 352.8 L500.1 352.7 L500.7 352.6 L501.4 352.4 L502.1 352.2 L502.8 352.0 L503.4 351.7 L504.1 351.4 L504.7 351.0 L505.2 350.6 L505.8 350.1 L506.3 349.6 L506.9 349.1 L507.4 348.6 L507.9 348.0 L508.4 347.4 L508.8 346.9 L509.3 346.3 L509.7 345.7 L510.1 345.0 L510.3 344.3 L510.6 343.5 L510.7 342.7 L510.8 342.0 L510.9 341.3 L510.9 340.7 L510.9 340.0 L510.9 339.5 L510.9 339.0 L510.9 338.6 L511.0 338.3 L511.0 338.1 L510.8 337.0 L510.2 336.0 L509.3 335.3 L508.1 335.0 L507.0 335.2 L506.0 335.8 L505.3 336.7 L505.0 337.9 L505.0 338.3 L505.0 338.7 L505.1 339.2 L505.1 339.6 L505.1 340.1 L505.2 340.6 L505.2 341.1 L505.2 341.5 L505.1 342.0 L505.1 342.4 L505.0 342.7 L504.9 343.0 L504.9 343.4 L504.7 343.8 L504.5 344.3 L504.3 344.8 L504.1 345.3 L503.8 345.9 L503.5 346.4 L503.2 346.9 L502.9 347.4 L502.5 347.8 L502.2 348.3 L501.9 348.6 L501.6 349.0 L501.3 349.3 L500.8 349.7 L500.4 350.0 L499.9 350.4 L499.4 350.7 L498.8 351.0 L498.3 351.2 L497.9 351.5 L497.5 351.8 L497.1 352.0 L496.9 352.2 L496.7 352.3 L496.6 352.4 L496.6 352.6 L496.6 352.7 L496.7 352.9 L496.8 353.0 L497.0 353.0 Z" fill="#7b5029"/><path d="M497.1 352.8 L497.4 352.8 L497.8 352.7 L498.3 352.7 L498.8 352.6 L499.4 352.5 L500.0 352.3 L500.6 352.2 L501.2 352.0 L501.9 351.8 L502.5 351.5 L503.1 351.2 L503.7 350.9 L504.3 350.5 L504.8 350.1 L505.3 349.6 L505.8 349.1 L506.3 348.6 L506.8 348.1 L507.2 347.6 L507.7 347.0 L508.1 346.4 L508.5 345.9 L508.9 345.3 L509.2 344.7 L509.4 344.0 L509.6 343.3 L509.8 342.6 L509.8 341.9 L509.9 341.3 L509.9 340.6 L509.9 340.1 L509.9 339.5 L509.9 339.0 L509.9 338.6 L510.0 338.3 L510.0 338.1 L509.9 337.3 L509.5 336.7 L508.8 336.2 L508.1 336.0 L507.3 336.1 L506.7 336.5 L506.2 337.2 L506.0 337.9 L506.0 338.3 L506.0 338.7 L506.1 339.1 L506.1 339.6 L506.1 340.1 L506.1 340.6 L506.1 341.1 L506.1 341.6 L506.1 342.1 L506.0 342.6 L505.9 343.0 L505.8 343.3 L505.7 343.7 L505.5 344.2 L505.3 344.7 L505.0 345.3 L504.7 345.8 L504.4 346.3 L504.1 346.8 L503.7 347.4 L503.4 347.8 L503.0 348.3 L502.6 348.7 L502.3 349.1 L501.9 349.4 L501.5 349.8 L501.1 350.1 L500.5 350.4 L500.0 350.7 L499.5 351.0 L498.9 351.3 L498.4 351.5 L498.0 351.7 L497.5 352.0 L497.2 352.2 L496.9 352.4 L496.8 352.4 L496.8 352.5 L496.7 352.6 L496.8 352.7 L496.8 352.8 L496.9 352.8 L497.0 352.9 Z" fill="#b3875a"/><path d="M497.0 352.7 L497.3 352.6 L497.7 352.5 L498.2 352.4 L498.7 352.3 L499.2 352.1 L499.8 352.0 L500.4 351.8 L501.0 351.5 L501.6 351.3 L502.2 351.0 L502.8 350.7 L503.3 350.4 L503.8 350.0 L504.3 349.6 L504.7 349.1 L505.2 348.6 L505.7 348.1 L506.1 347.6 L506.5 347.0 L506.9 346.5 L507.3 345.9 L507.6 345.4 L507.9 344.8 L508.2 344.3 L508.4 343.7 L508.6 343.1 L508.7 342.5 L508.8 341.8 L508.8 341.2 L508.8 340.6 L508.8 340.1 L508.8 339.5 L508.8 339.1 L508.8 338.6 L508.8 338.3 L508.8 338.0 L508.8 337.7 L508.6 337.4 L508.4 337.2 L508.0 337.2 L507.7 337.2 L507.4 337.4 L507.2 337.6 L507.2 338.0 L507.2 338.3 L507.2 338.7 L507.2 339.1 L507.2 339.6 L507.2 340.1 L507.2 340.6 L507.2 341.2 L507.2 341.7 L507.1 342.3 L507.1 342.8 L506.9 343.3 L506.8 343.7 L506.6 344.2 L506.4 344.7 L506.1 345.2 L505.8 345.8 L505.4 346.3 L505.1 346.8 L504.7 347.4 L504.3 347.9 L503.9 348.4 L503.5 348.8 L503.1 349.2 L502.7 349.6 L502.3 350.0 L501.8 350.3 L501.3 350.6 L500.7 350.9 L500.2 351.1 L499.6 351.4 L499.1 351.6 L498.5 351.8 L498.0 352.0 L497.6 352.2 L497.2 352.4 L497.0 352.5 L496.9 352.5 L496.9 352.6 L496.9 352.6 L496.9 352.6 L496.9 352.7 L497.0 352.7 L497.0 352.7 Z" fill="#dcc19e" opacity="0.85"/>
<path d="M510.1 336.6 L510.0 335.8 L509.8 334.9 L509.7 333.9 L509.5 332.7 L509.3 331.5 L509.1 330.2 L508.9 328.9 L508.7 327.6 L508.6 326.3 L508.6 325.0 L508.6 323.9 L508.6 322.8 L508.8 321.6 L508.9 320.4 L509.1 319.2 L509.3 318.0 L509.6 316.7 L509.9 315.5 L510.2 314.4 L510.6 313.2 L511.0 312.1 L511.5 311.1 L512.0 310.1 L512.6 309.2 L513.3 308.3 L514.1 307.4 L515.0 306.5 L515.9 305.6 L516.9 304.7 L518.0 303.8 L519.1 303.0 L520.3 302.2 L521.5 301.4 L522.7 300.6 L523.9 299.9 L525.1 299.3 L526.2 298.6 L527.4 298.1 L528.7 297.5 L529.9 297.0 L531.2 296.5 L532.5 296.1 L533.8 295.7 L535.1 295.3 L536.4 295.0 L537.8 294.7 L539.1 294.4 L540.4 294.2 L541.8 294.1 L543.2 293.9 L544.7 293.9 L546.2 293.8 L547.7 293.8 L549.2 293.9 L550.7 294.0 L552.2 294.1 L553.6 294.2 L554.9 294.3 L556.2 294.5 L557.3 294.7 L558.3 294.9 L559.2 295.1 L560.0 295.4 L560.8 295.7 L561.5 296.0 L562.2 296.3 L562.8 296.7 L563.5 297.0 L564.2 297.4 L564.9 297.9 L565.6 298.3 L566.3 298.7 L566.9 299.1 L567.5 299.6 L568.1 300.1 L568.7 300.6 L569.3 301.1 L569.9 301.7 L570.5 302.2 L571.0 302.7 L571.6 303.2 L572.0 303.7 L572.5 304.1 L572.8 304.4 L573.9 305.1 L575.2 305.2 L576.4 304.9 L577.4 304.2 L578.1 303.1 L578.2 301.8 L577.9 300.6 L577.2 299.6 L576.9 299.3 L576.5 299.0 L576.1 298.5 L575.6 298.0 L575.0 297.5 L574.3 296.9 L573.7 296.3 L572.9 295.6 L572.2 295.0 L571.4 294.4 L570.6 293.8 L569.7 293.3 L569.0 292.8 L568.3 292.4 L567.6 291.9 L566.8 291.4 L566.0 291.0 L565.1 290.5 L564.2 290.1 L563.2 289.6 L562.1 289.2 L561.0 288.9 L559.8 288.6 L558.5 288.3 L557.2 288.1 L555.8 287.9 L554.3 287.7 L552.7 287.6 L551.1 287.5 L549.5 287.4 L547.8 287.3 L546.1 287.3 L544.4 287.4 L542.8 287.5 L541.1 287.6 L539.6 287.8 L538.0 288.0 L536.5 288.3 L535.0 288.6 L533.5 289.0 L532.0 289.4 L530.5 289.9 L529.0 290.4 L527.5 290.9 L526.1 291.5 L524.7 292.2 L523.3 292.8 L521.9 293.5 L520.6 294.3 L519.3 295.1 L517.9 295.9 L516.6 296.8 L515.3 297.8 L514.0 298.8 L512.8 299.8 L511.5 300.9 L510.4 302.0 L509.3 303.1 L508.3 304.3 L507.4 305.6 L506.5 306.9 L505.8 308.3 L505.2 309.7 L504.6 311.1 L504.1 312.5 L503.7 313.9 L503.4 315.3 L503.1 316.8 L502.9 318.2 L502.7 319.5 L502.5 320.9 L502.4 322.2 L502.3 323.7 L502.3 325.2 L502.4 326.7 L502.5 328.2 L502.7 329.7 L502.9 331.2 L503.1 332.5 L503.3 333.8 L503.5 334.9 L503.7 335.9 L503.8 336.8 L503.9 337.4 L504.3 338.5 L505.1 339.5 L506.2 340.0 L507.4 340.1 L508.5 339.7 L509.5 338.9 L510.0 337.8 Z" fill="#7b5029"/><path d="M509.0 336.7 L508.9 336.0 L508.8 335.1 L508.6 334.1 L508.4 332.9 L508.2 331.7 L508.0 330.4 L507.8 329.1 L507.7 327.7 L507.6 326.4 L507.5 325.1 L507.5 323.8 L507.6 322.7 L507.7 321.5 L507.9 320.3 L508.1 319.0 L508.3 317.8 L508.5 316.5 L508.8 315.3 L509.2 314.1 L509.6 312.9 L510.0 311.7 L510.5 310.6 L511.1 309.6 L511.7 308.6 L512.5 307.6 L513.3 306.7 L514.2 305.7 L515.2 304.8 L516.2 303.9 L517.3 303.0 L518.5 302.1 L519.7 301.3 L520.9 300.5 L522.1 299.7 L523.3 299.0 L524.5 298.3 L525.7 297.7 L527.0 297.1 L528.2 296.5 L529.5 296.0 L530.8 295.5 L532.1 295.0 L533.5 294.6 L534.8 294.2 L536.2 293.9 L537.6 293.6 L538.9 293.3 L540.3 293.1 L541.7 293.0 L543.1 292.8 L544.6 292.8 L546.2 292.7 L547.7 292.7 L549.3 292.8 L550.8 292.9 L552.3 293.0 L553.7 293.1 L555.1 293.2 L556.4 293.4 L557.5 293.6 L558.5 293.8 L559.5 294.1 L560.4 294.3 L561.2 294.6 L561.9 295.0 L562.7 295.3 L563.4 295.7 L564.1 296.1 L564.8 296.5 L565.5 296.9 L566.2 297.4 L566.8 297.8 L567.5 298.2 L568.1 298.7 L568.8 299.2 L569.4 299.7 L570.1 300.3 L570.7 300.9 L571.3 301.4 L571.8 301.9 L572.3 302.4 L572.8 302.9 L573.2 303.3 L573.6 303.6 L574.3 304.0 L575.1 304.1 L575.9 303.9 L576.6 303.4 L577.0 302.7 L577.1 301.9 L576.9 301.1 L576.4 300.4 L576.1 300.1 L575.8 299.8 L575.3 299.3 L574.8 298.8 L574.2 298.3 L573.6 297.7 L572.9 297.1 L572.2 296.5 L571.5 295.9 L570.7 295.3 L569.9 294.7 L569.2 294.2 L568.4 293.7 L567.7 293.3 L567.0 292.8 L566.2 292.4 L565.4 291.9 L564.6 291.5 L563.7 291.1 L562.8 290.7 L561.7 290.3 L560.7 289.9 L559.5 289.6 L558.3 289.4 L557.0 289.2 L555.6 289.0 L554.2 288.8 L552.6 288.7 L551.1 288.6 L549.4 288.5 L547.8 288.4 L546.1 288.4 L544.5 288.5 L542.9 288.6 L541.3 288.7 L539.7 288.9 L538.2 289.1 L536.7 289.4 L535.2 289.7 L533.7 290.1 L532.3 290.5 L530.8 290.9 L529.4 291.4 L527.9 292.0 L526.5 292.5 L525.2 293.2 L523.8 293.8 L522.5 294.5 L521.2 295.3 L519.9 296.0 L518.5 296.9 L517.2 297.7 L515.9 298.7 L514.7 299.6 L513.5 300.6 L512.3 301.7 L511.2 302.7 L510.1 303.9 L509.1 305.0 L508.3 306.2 L507.5 307.5 L506.8 308.7 L506.2 310.1 L505.6 311.4 L505.2 312.8 L504.8 314.2 L504.5 315.6 L504.2 317.0 L503.9 318.3 L503.7 319.7 L503.6 321.0 L503.4 322.3 L503.3 323.7 L503.3 325.2 L503.4 326.6 L503.6 328.1 L503.7 329.6 L503.9 331.0 L504.1 332.3 L504.4 333.6 L504.6 334.8 L504.7 335.8 L504.9 336.6 L505.0 337.3 L505.2 338.0 L505.8 338.6 L506.5 339.0 L507.3 339.0 L508.0 338.8 L508.6 338.2 L509.0 337.5 Z" fill="#b3875a"/><path d="M507.9 336.9 L507.8 336.2 L507.6 335.3 L507.4 334.3 L507.2 333.1 L507.0 331.9 L506.8 330.6 L506.6 329.2 L506.5 327.8 L506.4 326.4 L506.3 325.1 L506.3 323.8 L506.4 322.6 L506.5 321.4 L506.7 320.1 L506.9 318.8 L507.1 317.5 L507.4 316.2 L507.7 315.0 L508.0 313.7 L508.4 312.5 L508.9 311.3 L509.5 310.1 L510.1 309.0 L510.7 307.9 L511.5 306.9 L512.4 305.9 L513.3 304.9 L514.3 303.9 L515.4 302.9 L516.6 302.0 L517.7 301.1 L519.0 300.2 L520.2 299.4 L521.4 298.6 L522.7 297.9 L523.9 297.2 L525.2 296.5 L526.4 295.9 L527.7 295.4 L529.1 294.8 L530.4 294.3 L531.8 293.8 L533.1 293.4 L534.5 293.0 L535.9 292.7 L537.3 292.4 L538.7 292.1 L540.1 291.9 L541.6 291.7 L543.1 291.6 L544.6 291.5 L546.2 291.5 L547.7 291.5 L549.3 291.5 L550.9 291.6 L552.4 291.7 L553.8 291.9 L555.2 292.0 L556.5 292.2 L557.7 292.4 L558.8 292.6 L559.8 292.9 L560.8 293.2 L561.6 293.5 L562.4 293.8 L563.2 294.2 L564.0 294.6 L564.7 295.0 L565.4 295.5 L566.1 295.9 L566.8 296.3 L567.5 296.8 L568.2 297.2 L568.9 297.7 L569.6 298.2 L570.2 298.8 L570.9 299.4 L571.5 299.9 L572.1 300.5 L572.7 301.0 L573.2 301.5 L573.6 302.0 L574.1 302.4 L574.4 302.7 L574.7 302.9 L575.0 302.9 L575.4 302.8 L575.7 302.6 L575.9 302.3 L575.9 302.0 L575.8 301.6 L575.6 301.3 L575.3 301.0 L574.9 300.7 L574.4 300.2 L573.9 299.7 L573.4 299.2 L572.7 298.6 L572.1 298.0 L571.4 297.4 L570.7 296.8 L570.0 296.3 L569.2 295.7 L568.5 295.2 L567.8 294.8 L567.1 294.3 L566.4 293.9 L565.6 293.5 L564.8 293.0 L564.0 292.6 L563.2 292.2 L562.3 291.8 L561.3 291.4 L560.3 291.1 L559.2 290.8 L558.1 290.6 L556.8 290.4 L555.5 290.2 L554.0 290.1 L552.5 289.9 L551.0 289.8 L549.4 289.7 L547.8 289.7 L546.1 289.7 L544.5 289.7 L542.9 289.8 L541.4 289.9 L539.9 290.1 L538.4 290.3 L537.0 290.6 L535.5 290.9 L534.1 291.3 L532.6 291.7 L531.2 292.1 L529.8 292.6 L528.4 293.1 L527.0 293.7 L525.7 294.3 L524.4 294.9 L523.1 295.6 L521.8 296.3 L520.5 297.1 L519.2 297.9 L517.9 298.8 L516.7 299.6 L515.4 300.6 L514.3 301.6 L513.1 302.6 L512.0 303.6 L511.0 304.7 L510.1 305.8 L509.3 306.9 L508.5 308.1 L507.9 309.3 L507.3 310.6 L506.8 311.8 L506.3 313.2 L506.0 314.5 L505.6 315.8 L505.4 317.2 L505.1 318.5 L504.9 319.8 L504.8 321.1 L504.6 322.4 L504.5 323.7 L504.5 325.1 L504.6 326.6 L504.7 328.0 L504.9 329.4 L505.1 330.8 L505.3 332.2 L505.5 333.4 L505.7 334.6 L505.9 335.6 L506.0 336.4 L506.1 337.1 L506.2 337.4 L506.5 337.7 L506.8 337.8 L507.1 337.9 L507.4 337.8 L507.7 337.5 L507.8 337.2 Z" fill="#dcc19e" opacity="0.85"/>
<path d="M621.0 306.2 L621.8 306.2 L622.8 306.2 L624.0 306.2 L625.2 306.1 L626.5 306.0 L627.9 306.0 L629.3 306.0 L630.6 306.0 L632.0 306.1 L633.2 306.2 L634.4 306.4 L635.4 306.6 L636.5 307.0 L637.6 307.4 L638.7 307.8 L639.8 308.3 L640.9 308.8 L641.9 309.4 L643.0 310.0 L644.0 310.7 L644.9 311.4 L645.9 312.1 L646.8 313.0 L647.6 313.8 L648.5 314.8 L649.3 315.8 L650.1 317.0 L651.0 318.2 L651.8 319.6 L652.6 320.9 L653.3 322.3 L654.0 323.7 L654.7 325.1 L655.2 326.4 L655.7 327.7 L656.1 329.0 L656.5 330.1 L656.8 331.3 L657.0 332.5 L657.2 333.7 L657.4 334.9 L657.4 336.0 L657.5 337.2 L657.5 338.3 L657.4 339.4 L657.3 340.4 L657.2 341.4 L657.0 342.3 L656.8 343.1 L656.5 343.8 L656.2 344.5 L655.8 345.2 L655.4 345.9 L654.9 346.6 L654.4 347.3 L653.8 348.0 L653.2 348.7 L652.5 349.5 L651.8 350.3 L651.2 351.1 L650.6 351.8 L650.0 352.5 L649.3 353.2 L648.5 353.9 L647.8 354.7 L647.0 355.4 L646.2 356.2 L645.3 357.0 L644.5 357.8 L643.8 358.6 L643.0 359.5 L642.4 360.4 L641.8 361.3 L641.4 362.1 L640.9 363.0 L640.5 363.9 L640.2 364.7 L639.9 365.6 L639.6 366.4 L639.4 367.2 L639.1 368.0 L638.9 368.8 L638.8 369.6 L638.6 370.4 L638.5 371.3 L638.4 372.3 L638.4 373.2 L638.4 374.1 L638.4 375.0 L638.4 375.9 L638.4 376.8 L638.5 377.6 L638.6 378.3 L638.6 379.0 L638.7 379.5 L638.8 380.0 L638.8 380.1 L638.9 380.2 L639.0 380.3 L639.2 380.4 L639.3 380.4 L639.4 380.3 L639.5 380.2 L639.6 380.0 L639.8 379.6 L640.0 379.1 L640.2 378.5 L640.4 377.8 L640.6 377.0 L640.8 376.2 L641.0 375.4 L641.3 374.5 L641.5 373.7 L641.8 372.9 L642.1 372.2 L642.4 371.6 L642.7 370.9 L643.0 370.2 L643.3 369.5 L643.6 368.8 L643.9 368.1 L644.3 367.4 L644.6 366.8 L645.0 366.1 L645.4 365.5 L645.9 364.9 L646.3 364.2 L646.8 363.6 L647.3 363.0 L647.9 362.4 L648.5 361.8 L649.3 361.1 L650.0 360.4 L650.8 359.7 L651.7 359.0 L652.5 358.2 L653.4 357.4 L654.2 356.6 L655.0 355.8 L655.8 354.9 L656.4 354.2 L657.1 353.4 L657.8 352.7 L658.4 351.9 L659.1 351.1 L659.8 350.2 L660.5 349.3 L661.1 348.3 L661.7 347.3 L662.2 346.2 L662.7 345.0 L663.0 343.7 L663.3 342.5 L663.5 341.2 L663.6 339.9 L663.7 338.5 L663.8 337.2 L663.7 335.8 L663.6 334.3 L663.5 332.9 L663.3 331.4 L663.0 330.0 L662.7 328.5 L662.3 327.0 L661.8 325.6 L661.2 324.1 L660.5 322.5 L659.8 320.9 L659.1 319.4 L658.2 317.8 L657.4 316.3 L656.4 314.8 L655.5 313.3 L654.5 311.9 L653.4 310.6 L652.4 309.4 L651.3 308.3 L650.1 307.2 L648.9 306.2 L647.7 305.3 L646.4 304.5 L645.1 303.7 L643.8 303.0 L642.5 302.4 L641.2 301.8 L639.9 301.3 L638.5 300.8 L637.2 300.4 L635.7 300.0 L634.1 299.7 L632.5 299.6 L630.9 299.5 L629.3 299.5 L627.7 299.5 L626.2 299.5 L624.9 299.6 L623.6 299.7 L622.5 299.7 L621.7 299.8 L621.0 299.8 L619.8 300.0 L618.7 300.7 L618.0 301.8 L617.8 303.0 L618.0 304.2 L618.7 305.3 L619.8 306.0 Z" fill="#7b5029"/><path d="M621.0 305.1 L621.8 305.1 L622.8 305.1 L623.9 305.1 L625.1 305.0 L626.5 304.9 L627.8 304.9 L629.3 304.9 L630.7 304.9 L632.1 305.0 L633.4 305.1 L634.6 305.3 L635.7 305.6 L636.8 305.9 L638.0 306.3 L639.1 306.8 L640.2 307.3 L641.4 307.8 L642.5 308.4 L643.5 309.1 L644.6 309.8 L645.6 310.5 L646.6 311.3 L647.5 312.2 L648.4 313.1 L649.3 314.1 L650.2 315.2 L651.1 316.4 L651.9 317.7 L652.7 319.0 L653.5 320.4 L654.3 321.8 L655.0 323.2 L655.7 324.7 L656.2 326.0 L656.8 327.4 L657.2 328.6 L657.5 329.9 L657.9 331.1 L658.1 332.3 L658.3 333.6 L658.4 334.8 L658.5 336.0 L658.5 337.2 L658.5 338.3 L658.5 339.5 L658.3 340.5 L658.2 341.6 L658.0 342.5 L657.8 343.4 L657.5 344.2 L657.1 345.0 L656.7 345.7 L656.3 346.4 L655.7 347.2 L655.2 347.9 L654.6 348.6 L654.0 349.4 L653.3 350.2 L652.6 350.9 L652.0 351.7 L651.4 352.5 L650.7 353.2 L650.0 353.9 L649.2 354.7 L648.4 355.4 L647.6 356.2 L646.8 356.9 L646.0 357.7 L645.2 358.5 L644.5 359.3 L643.8 360.1 L643.1 360.9 L642.6 361.8 L642.1 362.6 L641.7 363.4 L641.3 364.3 L641.0 365.1 L640.6 365.9 L640.3 366.7 L640.1 367.5 L639.9 368.3 L639.6 369.1 L639.4 369.8 L639.2 370.6 L639.1 371.5 L639.0 372.4 L638.9 373.3 L638.9 374.2 L638.8 375.1 L638.8 376.0 L638.8 376.8 L638.8 377.6 L638.8 378.3 L638.9 379.0 L638.9 379.5 L638.9 380.0 L638.9 380.1 L639.0 380.2 L639.1 380.2 L639.2 380.3 L639.3 380.3 L639.4 380.2 L639.4 380.1 L639.5 380.0 L639.6 379.6 L639.7 379.1 L639.9 378.4 L640.0 377.7 L640.2 377.0 L640.4 376.1 L640.6 375.3 L640.8 374.5 L641.0 373.6 L641.2 372.8 L641.5 372.1 L641.8 371.4 L642.0 370.7 L642.3 369.9 L642.6 369.2 L642.9 368.5 L643.2 367.8 L643.5 367.1 L643.9 366.4 L644.2 365.7 L644.7 365.1 L645.1 364.4 L645.6 363.7 L646.1 363.1 L646.6 362.4 L647.2 361.8 L647.9 361.1 L648.6 360.4 L649.4 359.7 L650.2 359.0 L651.0 358.2 L651.8 357.5 L652.7 356.7 L653.5 355.9 L654.3 355.1 L655.0 354.3 L655.7 353.5 L656.3 352.7 L657.0 352.0 L657.6 351.2 L658.3 350.4 L659.0 349.6 L659.6 348.7 L660.2 347.8 L660.8 346.8 L661.2 345.8 L661.7 344.6 L662.0 343.5 L662.2 342.3 L662.4 341.1 L662.6 339.8 L662.7 338.5 L662.7 337.2 L662.7 335.8 L662.6 334.4 L662.4 333.0 L662.2 331.6 L662.0 330.2 L661.6 328.8 L661.2 327.4 L660.7 325.9 L660.2 324.5 L659.5 323.0 L658.8 321.4 L658.1 319.9 L657.3 318.3 L656.4 316.8 L655.5 315.4 L654.6 313.9 L653.6 312.6 L652.6 311.3 L651.6 310.1 L650.5 309.1 L649.4 308.1 L648.2 307.1 L647.1 306.2 L645.8 305.4 L644.6 304.7 L643.3 304.0 L642.1 303.4 L640.8 302.8 L639.5 302.3 L638.2 301.8 L636.9 301.4 L635.5 301.1 L633.9 300.8 L632.4 300.7 L630.8 300.6 L629.3 300.6 L627.7 300.6 L626.3 300.6 L624.9 300.7 L623.7 300.8 L622.6 300.8 L621.7 300.9 L621.0 300.9 L620.2 301.0 L619.5 301.5 L619.0 302.2 L618.9 303.0 L619.0 303.8 L619.5 304.5 L620.2 305.0 Z" fill="#b3875a"/><path d="M621.0 303.9 L621.8 303.9 L622.7 303.9 L623.8 303.8 L625.1 303.8 L626.4 303.7 L627.8 303.7 L629.3 303.6 L630.7 303.7 L632.2 303.7 L633.5 303.9 L634.9 304.1 L636.1 304.4 L637.2 304.7 L638.4 305.2 L639.6 305.6 L640.8 306.2 L641.9 306.7 L643.1 307.3 L644.2 308.0 L645.3 308.7 L646.4 309.5 L647.4 310.4 L648.4 311.3 L649.3 312.2 L650.3 313.3 L651.2 314.4 L652.1 315.7 L652.9 317.0 L653.8 318.4 L654.6 319.8 L655.4 321.3 L656.1 322.7 L656.8 324.2 L657.4 325.6 L657.9 327.0 L658.3 328.3 L658.7 329.5 L659.0 330.8 L659.3 332.1 L659.5 333.4 L659.6 334.7 L659.7 335.9 L659.7 337.2 L659.7 338.4 L659.6 339.6 L659.5 340.7 L659.4 341.8 L659.2 342.8 L658.9 343.7 L658.6 344.6 L658.2 345.5 L657.7 346.3 L657.2 347.1 L656.7 347.9 L656.1 348.6 L655.5 349.4 L654.8 350.1 L654.2 350.9 L653.5 351.7 L652.9 352.5 L652.2 353.2 L651.5 354.0 L650.8 354.7 L650.0 355.5 L649.2 356.2 L648.4 357.0 L647.5 357.7 L646.8 358.5 L646.0 359.2 L645.3 360.0 L644.6 360.8 L644.0 361.5 L643.5 362.3 L643.0 363.1 L642.5 363.9 L642.2 364.7 L641.8 365.5 L641.5 366.2 L641.2 367.0 L640.9 367.8 L640.6 368.6 L640.4 369.3 L640.2 370.1 L640.0 370.8 L639.8 371.7 L639.6 372.5 L639.5 373.4 L639.4 374.3 L639.3 375.2 L639.3 376.0 L639.2 376.9 L639.2 377.6 L639.1 378.4 L639.1 379.0 L639.1 379.5 L639.1 380.0 L639.1 380.0 L639.1 380.1 L639.1 380.1 L639.2 380.1 L639.2 380.1 L639.3 380.1 L639.3 380.1 L639.3 380.0 L639.4 379.6 L639.5 379.0 L639.6 378.4 L639.7 377.7 L639.8 376.9 L639.9 376.1 L640.1 375.3 L640.2 374.4 L640.4 373.5 L640.6 372.7 L640.8 371.9 L641.0 371.2 L641.3 370.4 L641.5 369.7 L641.8 368.9 L642.1 368.2 L642.4 367.5 L642.7 366.8 L643.0 366.0 L643.4 365.3 L643.8 364.6 L644.2 363.9 L644.7 363.2 L645.2 362.5 L645.8 361.7 L646.4 361.0 L647.1 360.3 L647.8 359.6 L648.6 358.9 L649.4 358.2 L650.3 357.4 L651.1 356.7 L651.9 355.9 L652.7 355.1 L653.4 354.3 L654.1 353.5 L654.8 352.8 L655.4 352.0 L656.1 351.2 L656.8 350.5 L657.4 349.7 L658.0 348.9 L658.6 348.1 L659.2 347.2 L659.7 346.3 L660.2 345.3 L660.5 344.3 L660.8 343.2 L661.1 342.1 L661.3 340.9 L661.4 339.7 L661.5 338.5 L661.5 337.2 L661.5 335.9 L661.4 334.5 L661.2 333.2 L661.0 331.8 L660.8 330.4 L660.4 329.1 L660.1 327.7 L659.6 326.4 L659.0 324.9 L658.4 323.4 L657.7 321.9 L657.0 320.4 L656.2 318.9 L655.4 317.5 L654.5 316.0 L653.6 314.6 L652.6 313.3 L651.6 312.1 L650.7 311.0 L649.7 310.0 L648.6 309.0 L647.5 308.1 L646.3 307.3 L645.2 306.5 L644.0 305.8 L642.8 305.1 L641.5 304.5 L640.3 304.0 L639.0 303.5 L637.8 303.0 L636.5 302.6 L635.2 302.3 L633.8 302.1 L632.3 301.9 L630.8 301.8 L629.3 301.8 L627.8 301.8 L626.3 301.9 L625.0 301.9 L623.7 302.0 L622.6 302.1 L621.7 302.1 L621.0 302.1 L620.7 302.2 L620.4 302.4 L620.2 302.7 L620.1 303.0 L620.2 303.3 L620.4 303.6 L620.7 303.8 Z" fill="#dcc19e" opacity="0.85"/>
<path d="M618.7 360.5 L618.9 360.0 L619.1 359.3 L619.3 358.6 L619.6 357.8 L619.9 356.9 L620.2 355.9 L620.5 354.9 L620.8 353.9 L621.1 352.9 L621.4 351.9 L621.8 350.9 L622.1 350.0 L622.4 349.1 L622.7 348.1 L623.1 347.2 L623.5 346.1 L623.9 345.1 L624.3 344.0 L624.7 342.9 L625.1 341.8 L625.5 340.6 L625.9 339.4 L626.3 338.2 L626.6 336.9 L626.9 335.7 L627.2 334.5 L627.5 333.2 L627.7 331.9 L628.0 330.6 L628.2 329.2 L628.5 327.9 L628.6 326.5 L628.8 325.1 L628.9 323.7 L629.0 322.3 L629.0 321.0 L629.0 319.6 L628.9 318.3 L628.8 317.0 L628.7 315.7 L628.6 314.3 L628.4 312.9 L628.2 311.5 L627.9 310.2 L627.5 308.8 L627.0 307.5 L626.5 306.1 L625.8 304.9 L625.1 303.7 L624.3 302.6 L623.5 301.5 L622.6 300.5 L621.6 299.5 L620.6 298.6 L619.5 297.8 L618.4 297.0 L617.3 296.3 L616.1 295.6 L615.0 295.0 L613.7 294.5 L612.4 293.9 L611.1 293.5 L609.7 293.1 L608.3 292.8 L606.9 292.6 L605.4 292.4 L604.0 292.2 L602.6 292.1 L601.2 292.0 L599.8 292.0 L598.4 291.9 L597.1 291.9 L595.7 291.9 L594.3 291.9 L592.8 291.9 L591.4 292.0 L589.9 292.1 L588.4 292.2 L586.9 292.3 L585.4 292.5 L584.0 292.8 L582.5 293.1 L581.1 293.4 L579.7 293.8 L578.4 294.2 L577.1 294.7 L575.8 295.2 L574.6 295.7 L573.3 296.3 L572.1 296.9 L570.9 297.6 L569.7 298.4 L568.5 299.2 L567.4 300.0 L566.3 301.0 L565.3 302.0 L564.4 303.0 L563.5 304.1 L562.6 305.3 L561.8 306.5 L561.1 307.8 L560.4 309.1 L559.7 310.4 L559.1 311.8 L558.6 313.2 L558.2 314.6 L557.9 316.0 L557.6 317.4 L557.5 318.9 L557.4 320.4 L557.4 321.8 L557.5 323.3 L557.7 324.7 L558.0 326.2 L558.3 327.5 L558.6 328.9 L559.0 330.3 L559.5 331.6 L560.0 332.9 L560.5 334.1 L560.9 335.5 L561.4 336.8 L561.9 338.1 L562.5 339.4 L563.1 340.7 L563.8 342.0 L564.6 343.2 L565.3 344.5 L566.1 345.7 L567.0 346.9 L567.8 348.1 L568.8 349.4 L570.1 350.7 L571.4 352.0 L572.8 353.1 L574.1 354.2 L575.3 355.1 L576.5 356.1 L577.6 356.9 L578.7 357.8 L579.6 358.6 L580.3 359.4 L581.0 360.2 L581.5 360.9 L582.3 361.7 L583.2 362.6 L584.1 363.7 L585.1 364.9 L586.0 366.3 L587.0 367.7 L587.9 369.1 L588.9 370.5 L589.8 372.0 L590.8 373.4 L591.7 374.8 L592.6 376.2 L593.3 377.5 L594.0 378.7 L594.6 379.8 L595.2 380.9 L595.7 381.9 L596.2 382.8 L596.6 383.6 L597.0 384.5 L597.4 385.3 L597.8 386.1 L598.1 387.0 L598.4 388.0 L598.7 389.1 L599.1 390.3 L599.4 391.5 L599.7 392.8 L600.0 394.1 L600.3 395.4 L600.5 396.8 L600.7 398.1 L600.9 399.5 L601.1 400.8 L601.3 402.1 L601.4 403.4 L601.5 404.8 L601.6 406.1 L601.7 407.5 L601.8 408.8 L601.8 410.1 L601.8 411.4 L601.8 412.7 L601.8 413.9 L601.7 415.0 L601.6 416.1 L601.4 417.1 L601.3 417.9 L601.1 418.5 L601.0 419.1 L600.7 419.7 L600.4 420.4 L600.0 421.2 L599.6 422.1 L599.1 423.0 L598.5 424.1 L597.9 425.2 L597.3 426.5 L596.7 427.9 L596.2 429.3 L595.8 430.6 L595.5 431.7 L595.2 432.9 L594.9 434.1 L594.6 435.3 L594.4 436.5 L594.1 437.8 L593.9 439.0 L593.7 440.3 L593.6 441.7 L593.4 443.0 L593.4 444.4 L593.3 445.7 L593.3 447.0 L593.3 448.3 L593.3 449.6 L593.4 450.9 L593.5 452.2 L593.6 453.4 L593.8 454.7 L594.0 456.0 L594.3 457.3 L594.6 458.6 L594.9 459.9 L595.3 461.3 L595.8 462.8 L596.3 464.1 L596.8 465.5 L597.3 466.8 L597.9 468.0 L598.4 469.3 L599.0 470.4 L599.5 471.5 L600.0 472.6 L600.4 473.5 L600.9 474.4 L601.4 475.3 L602.0 476.3 L602.5 477.1 L603.1 477.9 L603.6 478.7 L604.1 479.4 L604.6 480.0 L605.0 480.5 L605.4 481.0 L605.7 481.4 L605.9 481.6 L606.1 481.9 L608.3 484.1 L611.2 485.3 L614.3 485.4 L617.2 484.2 L619.4 482.0 L620.6 479.1 L620.7 476.0 L619.5 473.1 L619.3 472.7 L619.0 472.2 L618.7 471.7 L618.4 471.2 L618.1 470.7 L617.8 470.2 L617.5 469.7 L617.2 469.1 L616.9 468.5 L616.6 467.9 L616.3 467.3 L615.9 466.6 L615.5 465.8 L615.0 464.9 L614.5 463.9 L614.0 463.0 L613.4 462.0 L612.9 461.0 L612.5 460.0 L612.0 459.0 L611.6 458.1 L611.2 457.2 L610.9 456.4 L610.7 455.7 L610.5 454.9 L610.3 454.0 L610.1 453.2 L610.0 452.3 L609.9 451.5 L609.8 450.7 L609.8 449.8 L609.7 449.0 L609.7 448.1 L609.7 447.3 L609.8 446.4 L609.8 445.6 L610.0 444.8 L610.1 444.1 L610.3 443.3 L610.5 442.4 L610.7 441.6 L611.0 440.7 L611.3 439.8 L611.6 438.9 L612.0 437.9 L612.3 437.0 L612.7 436.0 L613.0 435.1 L613.3 434.4 L613.5 433.7 L613.9 433.0 L614.3 432.1 L614.8 431.2 L615.3 430.1 L615.9 428.9 L616.5 427.5 L617.1 426.1 L617.7 424.5 L618.2 422.7 L618.5 420.9 L618.7 419.2 L618.9 417.5 L618.9 415.9 L618.9 414.2 L618.9 412.5 L618.8 410.9 L618.7 409.3 L618.6 407.6 L618.4 406.0 L618.2 404.5 L618.0 402.9 L617.8 401.4 L617.5 399.8 L617.3 398.2 L616.9 396.6 L616.6 395.0 L616.2 393.5 L615.9 391.9 L615.4 390.3 L615.0 388.7 L614.5 387.2 L614.0 385.7 L613.5 384.2 L613.0 382.8 L612.4 381.4 L611.8 380.0 L611.2 378.7 L610.5 377.5 L609.9 376.4 L609.2 375.3 L608.6 374.3 L607.9 373.2 L607.3 372.2 L606.6 371.2 L605.9 370.1 L605.2 369.0 L604.6 367.7 L604.0 366.3 L603.4 364.8 L602.7 363.1 L602.0 361.5 L601.2 359.7 L600.3 358.0 L599.4 356.2 L598.5 354.4 L597.4 352.6 L596.3 350.8 L595.1 349.1 L593.5 347.5 L591.8 346.2 L590.2 345.0 L588.6 344.0 L587.0 343.1 L585.6 342.2 L584.2 341.5 L582.9 340.8 L581.8 340.2 L580.8 339.7 L580.0 339.1 L579.2 338.6 L578.3 337.9 L577.3 337.2 L576.3 336.5 L575.4 335.8 L574.6 335.1 L573.8 334.4 L573.0 333.7 L572.2 332.9 L571.5 332.2 L570.8 331.5 L570.2 330.7 L569.5 329.9 L569.1 328.9 L568.6 328.0 L568.2 327.0 L567.8 326.0 L567.4 325.0 L567.1 324.0 L566.8 323.0 L566.6 322.0 L566.5 321.1 L566.4 320.2 L566.3 319.4 L566.4 318.6 L566.5 317.7 L566.7 316.9 L567.0 315.9 L567.3 315.0 L567.7 314.0 L568.2 313.1 L568.7 312.1 L569.3 311.2 L569.8 310.3 L570.4 309.5 L571.1 308.7 L571.7 308.0 L572.3 307.4 L573.0 306.8 L573.7 306.2 L574.5 305.7 L575.4 305.2 L576.2 304.7 L577.2 304.2 L578.1 303.7 L579.1 303.3 L580.2 302.9 L581.2 302.6 L582.3 302.2 L583.3 301.9 L584.4 301.6 L585.6 301.4 L586.8 301.2 L588.0 301.0 L589.3 300.8 L590.6 300.7 L591.9 300.6 L593.1 300.6 L594.4 300.5 L595.7 300.5 L596.9 300.5 L598.2 300.5 L599.4 300.6 L600.7 300.7 L601.9 300.8 L603.1 300.9 L604.3 301.0 L605.4 301.2 L606.5 301.4 L607.6 301.6 L608.6 301.9 L609.4 302.2 L610.3 302.5 L611.1 302.9 L611.9 303.4 L612.7 303.8 L613.5 304.3 L614.3 304.8 L615.0 305.4 L615.6 306.0 L616.2 306.6 L616.8 307.2 L617.3 307.8 L617.8 308.5 L618.2 309.1 L618.5 309.8 L618.8 310.5 L619.1 311.4 L619.3 312.3 L619.5 313.2 L619.7 314.3 L619.9 315.3 L620.0 316.5 L620.1 317.6 L620.1 318.8 L620.2 319.9 L620.2 321.0 L620.2 322.1 L620.2 323.2 L620.1 324.3 L620.0 325.5 L619.9 326.7 L619.7 327.9 L619.5 329.1 L619.3 330.3 L619.1 331.5 L618.8 332.7 L618.6 333.9 L618.4 335.1 L618.1 336.1 L617.9 337.2 L617.6 338.2 L617.4 339.3 L617.0 340.4 L616.7 341.5 L616.4 342.5 L616.1 343.6 L615.7 344.7 L615.4 345.8 L615.1 346.9 L614.9 348.0 L614.7 349.2 L614.5 350.3 L614.4 351.4 L614.3 352.5 L614.1 353.6 L614.0 354.7 L613.9 355.7 L613.9 356.7 L613.8 357.5 L613.8 358.3 L613.8 359.0 L613.7 359.5 L613.7 360.5 L614.1 361.4 L614.8 362.1 L615.7 362.5 L616.7 362.5 L617.6 362.1 L618.3 361.4 Z" fill="#f3e2de" stroke="#6a4225" stroke-width="2.7" stroke-linejoin="round"/>
<path d="M586.8 349.4 L586.7 348.7 L586.6 347.9 L586.4 347.0 L586.2 345.9 L586.0 344.8 L585.8 343.5 L585.6 342.2 L585.3 340.9 L585.1 339.5 L584.8 338.1 L584.6 336.8 L584.4 335.4 L584.1 334.1 L583.8 332.6 L583.6 331.1 L583.3 329.5 L583.0 327.9 L582.7 326.3 L582.5 324.7 L582.2 323.2 L581.9 321.6 L581.7 320.2 L581.4 318.8 L581.2 317.5 L581.0 316.2 L580.8 315.0 L580.6 313.8 L580.4 312.6 L580.2 311.4 L580.0 310.3 L579.8 309.3 L579.7 308.4 L579.5 307.5 L579.4 306.7 L579.3 306.0 L579.2 305.5 L578.8 304.3 L577.9 303.4 L576.7 302.8 L575.5 302.8 L574.3 303.2 L573.4 304.1 L572.8 305.3 L572.8 306.5 L572.9 307.1 L573.0 307.8 L573.1 308.5 L573.3 309.4 L573.4 310.4 L573.6 311.4 L573.8 312.5 L574.0 313.6 L574.2 314.8 L574.4 316.0 L574.6 317.3 L574.8 318.5 L575.0 319.8 L575.2 321.2 L575.4 322.7 L575.7 324.2 L575.9 325.8 L576.2 327.4 L576.4 329.0 L576.7 330.6 L576.9 332.2 L577.2 333.7 L577.4 335.2 L577.6 336.6 L577.9 337.9 L578.1 339.3 L578.4 340.7 L578.6 342.1 L578.9 343.4 L579.1 344.7 L579.3 346.0 L579.5 347.1 L579.7 348.2 L579.9 349.1 L580.0 349.9 L580.2 350.6 L580.6 351.8 L581.6 352.8 L582.8 353.3 L584.1 353.3 L585.3 352.9 L586.3 351.9 L586.8 350.7 Z" fill="#7b5029"/><path d="M585.7 349.6 L585.6 348.9 L585.4 348.1 L585.3 347.2 L585.1 346.1 L584.9 345.0 L584.6 343.7 L584.4 342.4 L584.2 341.1 L583.9 339.7 L583.7 338.3 L583.4 337.0 L583.2 335.6 L583.0 334.2 L582.7 332.8 L582.5 331.3 L582.2 329.7 L581.9 328.1 L581.6 326.5 L581.4 324.9 L581.1 323.3 L580.8 321.8 L580.6 320.3 L580.3 319.0 L580.1 317.6 L579.9 316.4 L579.7 315.2 L579.5 313.9 L579.3 312.8 L579.1 311.6 L578.9 310.5 L578.8 309.5 L578.6 308.5 L578.5 307.7 L578.3 306.9 L578.2 306.2 L578.1 305.6 L577.8 304.9 L577.2 304.3 L576.5 303.9 L575.6 303.9 L574.9 304.2 L574.3 304.8 L573.9 305.5 L573.9 306.4 L574.0 306.9 L574.1 307.6 L574.2 308.4 L574.4 309.2 L574.5 310.2 L574.7 311.2 L574.9 312.3 L575.1 313.5 L575.3 314.6 L575.5 315.9 L575.7 317.1 L575.9 318.4 L576.1 319.7 L576.3 321.1 L576.6 322.5 L576.8 324.1 L577.0 325.6 L577.3 327.2 L577.6 328.8 L577.8 330.4 L578.1 332.0 L578.3 333.5 L578.6 335.0 L578.8 336.4 L579.0 337.7 L579.3 339.1 L579.5 340.5 L579.8 341.9 L580.0 343.2 L580.2 344.5 L580.5 345.8 L580.7 346.9 L580.9 348.0 L581.0 348.9 L581.2 349.7 L581.3 350.4 L581.6 351.2 L582.2 351.8 L583.0 352.2 L583.9 352.2 L584.7 351.9 L585.3 351.3 L585.7 350.5 Z" fill="#b3875a"/><path d="M584.4 349.8 L584.3 349.2 L584.2 348.4 L584.0 347.4 L583.8 346.3 L583.6 345.2 L583.4 344.0 L583.1 342.7 L582.9 341.3 L582.7 339.9 L582.4 338.6 L582.2 337.2 L581.9 335.8 L581.7 334.5 L581.4 333.0 L581.2 331.5 L580.9 329.9 L580.7 328.3 L580.4 326.7 L580.1 325.1 L579.9 323.6 L579.6 322.0 L579.4 320.5 L579.1 319.2 L578.9 317.9 L578.7 316.6 L578.5 315.4 L578.3 314.1 L578.1 313.0 L577.9 311.8 L577.7 310.7 L577.5 309.7 L577.4 308.7 L577.2 307.9 L577.1 307.1 L577.0 306.4 L576.9 305.9 L576.8 305.5 L576.5 305.3 L576.2 305.1 L575.9 305.1 L575.5 305.2 L575.3 305.5 L575.1 305.8 L575.1 306.1 L575.2 306.7 L575.3 307.4 L575.4 308.2 L575.6 309.0 L575.7 310.0 L575.9 311.0 L576.1 312.1 L576.3 313.3 L576.5 314.4 L576.7 315.7 L576.9 316.9 L577.1 318.1 L577.3 319.5 L577.5 320.8 L577.8 322.3 L578.0 323.9 L578.3 325.4 L578.6 327.0 L578.8 328.6 L579.1 330.2 L579.3 331.8 L579.6 333.3 L579.8 334.8 L580.1 336.2 L580.3 337.5 L580.5 338.9 L580.8 340.3 L581.0 341.6 L581.3 343.0 L581.5 344.3 L581.7 345.5 L581.9 346.7 L582.1 347.7 L582.3 348.7 L582.4 349.5 L582.6 350.2 L582.7 350.5 L583.0 350.8 L583.3 350.9 L583.7 350.9 L584.0 350.8 L584.3 350.5 L584.4 350.2 Z" fill="#dcc19e" opacity="0.85"/>
<path d="M592.1 350.3 L592.5 349.6 L592.9 348.6 L593.4 347.4 L593.9 346.1 L594.5 344.7 L595.1 343.3 L595.8 341.8 L596.4 340.2 L597.1 338.7 L597.8 337.2 L598.4 335.8 L599.1 334.5 L599.7 333.2 L600.3 331.9 L601.0 330.6 L601.6 329.3 L602.3 328.0 L603.0 326.7 L603.7 325.4 L604.3 324.2 L605.0 323.0 L605.6 321.8 L606.2 320.7 L606.8 319.6 L607.4 318.6 L608.0 317.6 L608.6 316.6 L609.2 315.6 L609.7 314.7 L610.3 313.8 L610.8 312.9 L611.3 312.1 L611.7 311.4 L612.1 310.7 L612.5 310.2 L612.8 309.7 L613.2 308.5 L613.2 307.2 L612.6 306.1 L611.7 305.2 L610.5 304.8 L609.2 304.8 L608.1 305.4 L607.2 306.3 L606.9 306.8 L606.6 307.3 L606.2 308.0 L605.8 308.7 L605.3 309.5 L604.7 310.4 L604.2 311.3 L603.6 312.3 L603.0 313.3 L602.4 314.3 L601.8 315.3 L601.2 316.4 L600.6 317.5 L599.9 318.6 L599.2 319.8 L598.6 321.0 L597.9 322.3 L597.1 323.5 L596.4 324.9 L595.7 326.2 L595.0 327.5 L594.3 328.9 L593.6 330.2 L592.9 331.5 L592.3 332.9 L591.6 334.4 L590.9 335.9 L590.2 337.5 L589.5 339.1 L588.9 340.6 L588.2 342.1 L587.6 343.5 L587.1 344.8 L586.6 345.9 L586.2 346.9 L585.9 347.7 L585.6 348.9 L585.8 350.3 L586.6 351.4 L587.7 352.1 L588.9 352.4 L590.3 352.2 L591.4 351.4 Z" fill="#7b5029"/><path d="M591.1 349.9 L591.4 349.1 L591.8 348.1 L592.3 347.0 L592.8 345.7 L593.4 344.3 L594.1 342.8 L594.7 341.3 L595.4 339.8 L596.1 338.2 L596.7 336.7 L597.4 335.3 L598.0 334.0 L598.6 332.7 L599.3 331.4 L599.9 330.1 L600.6 328.8 L601.3 327.5 L602.0 326.2 L602.7 324.9 L603.4 323.6 L604.0 322.4 L604.7 321.3 L605.3 320.1 L605.9 319.1 L606.5 318.0 L607.0 317.0 L607.6 316.0 L608.2 315.0 L608.8 314.1 L609.3 313.2 L609.9 312.3 L610.3 311.5 L610.8 310.8 L611.2 310.2 L611.5 309.6 L611.8 309.1 L612.1 308.3 L612.1 307.5 L611.7 306.7 L611.1 306.2 L610.3 305.9 L609.5 305.9 L608.7 306.3 L608.2 306.9 L607.9 307.3 L607.5 307.9 L607.1 308.6 L606.7 309.3 L606.2 310.1 L605.7 310.9 L605.1 311.9 L604.5 312.8 L603.9 313.8 L603.3 314.8 L602.7 315.9 L602.1 316.9 L601.5 318.0 L600.9 319.1 L600.2 320.3 L599.5 321.5 L598.8 322.8 L598.1 324.1 L597.4 325.4 L596.7 326.7 L596.0 328.0 L595.3 329.4 L594.6 330.7 L594.0 332.0 L593.3 333.4 L592.7 334.9 L592.0 336.4 L591.3 338.0 L590.6 339.5 L589.9 341.1 L589.3 342.5 L588.7 343.9 L588.2 345.2 L587.7 346.4 L587.3 347.3 L586.9 348.1 L586.8 349.0 L586.9 349.8 L587.4 350.6 L588.1 351.1 L589.0 351.2 L589.8 351.1 L590.6 350.6 Z" fill="#b3875a"/><path d="M589.9 349.4 L590.2 348.6 L590.6 347.6 L591.1 346.5 L591.7 345.2 L592.2 343.8 L592.9 342.3 L593.5 340.8 L594.2 339.2 L594.9 337.7 L595.6 336.2 L596.2 334.8 L596.9 333.4 L597.5 332.1 L598.1 330.8 L598.8 329.5 L599.5 328.2 L600.2 326.9 L600.9 325.6 L601.6 324.3 L602.3 323.0 L602.9 321.8 L603.6 320.6 L604.2 319.5 L604.8 318.4 L605.4 317.4 L606.0 316.4 L606.6 315.4 L607.2 314.4 L607.7 313.4 L608.3 312.5 L608.8 311.7 L609.3 310.9 L609.7 310.2 L610.1 309.5 L610.5 308.9 L610.8 308.5 L610.9 308.1 L610.9 307.8 L610.7 307.5 L610.5 307.2 L610.1 307.1 L609.8 307.1 L609.5 307.3 L609.2 307.5 L608.9 308.0 L608.6 308.6 L608.2 309.2 L607.7 309.9 L607.3 310.7 L606.7 311.6 L606.2 312.5 L605.6 313.5 L605.0 314.5 L604.4 315.5 L603.8 316.5 L603.2 317.6 L602.6 318.6 L602.0 319.8 L601.3 320.9 L600.6 322.1 L599.9 323.4 L599.2 324.7 L598.5 326.0 L597.8 327.3 L597.1 328.6 L596.5 330.0 L595.8 331.3 L595.1 332.6 L594.5 333.9 L593.8 335.4 L593.1 336.9 L592.5 338.5 L591.8 340.0 L591.1 341.6 L590.5 343.0 L589.9 344.4 L589.4 345.7 L588.9 346.9 L588.5 347.8 L588.1 348.6 L588.0 349.0 L588.1 349.4 L588.3 349.7 L588.6 349.9 L589.0 350.0 L589.4 349.9 L589.7 349.7 Z" fill="#dcc19e" opacity="0.85"/>
<rect x="542.4" y="287.6" width="7.2" height="3.8" rx="1.9" fill="#4c82cc" stroke="#0d1a2e" stroke-width="1.1" transform="rotate(-15 546.0 289.5)"/>
<rect x="552.4" y="289.1" width="7.2" height="3.8" rx="1.9" fill="#4c82cc" stroke="#0d1a2e" stroke-width="1.1" transform="rotate(30 556.0 291.0)"/>
<rect x="555.9" y="290.9" width="7.2" height="3.8" rx="1.9" fill="#4c82cc" stroke="#0d1a2e" stroke-width="1.1" transform="rotate(0 559.5 292.8)"/>
<rect x="507.9" y="304.6" width="7.2" height="3.8" rx="1.9" fill="#4c82cc" stroke="#0d1a2e" stroke-width="1.1" transform="rotate(-40 511.5 306.5)"/>
<rect x="511.9" y="301.6" width="7.2" height="3.8" rx="1.9" fill="#4c82cc" stroke="#0d1a2e" stroke-width="1.1" transform="rotate(-30 515.5 303.5)"/>
<rect x="502.4" y="335.6" width="7.2" height="3.8" rx="1.9" fill="#4c82cc" stroke="#0d1a2e" stroke-width="1.1" transform="rotate(60 506.0 337.5)"/>
<rect x="505.4" y="336.6" width="7.2" height="3.8" rx="1.9" fill="#4c82cc" stroke="#0d1a2e" stroke-width="1.1" transform="rotate(-20 509.0 338.5)"/>
<rect x="528.9" y="346.6" width="7.2" height="3.8" rx="1.9" fill="#4c82cc" stroke="#0d1a2e" stroke-width="1.1" transform="rotate(20 532.5 348.5)"/>
<rect x="542.9" y="347.1" width="7.2" height="3.8" rx="1.9" fill="#4c82cc" stroke="#0d1a2e" stroke-width="1.1" transform="rotate(10 546.5 349.0)"/>
<rect x="548.4" y="347.6" width="7.2" height="3.8" rx="1.9" fill="#4c82cc" stroke="#0d1a2e" stroke-width="1.1" transform="rotate(-10 552.0 349.5)"/>
<rect x="559.9" y="352.1" width="7.2" height="3.8" rx="1.9" fill="#4c82cc" stroke="#0d1a2e" stroke-width="1.1" transform="rotate(-30 563.5 354.0)"/>
<rect x="563.4" y="404.6" width="7.2" height="3.8" rx="1.9" fill="#4c82cc" stroke="#0d1a2e" stroke-width="1.1" transform="rotate(80 567.0 406.5)"/>
<rect x="563.9" y="409.1" width="7.2" height="3.8" rx="1.9" fill="#4c82cc" stroke="#0d1a2e" stroke-width="1.1" transform="rotate(70 567.5 411.0)"/>
<rect x="574.4" y="312.1" width="7.2" height="3.8" rx="1.9" fill="#4c82cc" stroke="#0d1a2e" stroke-width="1.1" transform="rotate(80 578.0 314.0)"/>
<rect x="575.4" y="316.6" width="7.2" height="3.8" rx="1.9" fill="#4c82cc" stroke="#0d1a2e" stroke-width="1.1" transform="rotate(70 579.0 318.5)"/>
<rect x="582.4" y="292.6" width="7.2" height="3.8" rx="1.9" fill="#4c82cc" stroke="#0d1a2e" stroke-width="1.1" transform="rotate(80 586.0 294.5)"/>
<rect x="586.4" y="293.6" width="7.2" height="3.8" rx="1.9" fill="#4c82cc" stroke="#0d1a2e" stroke-width="1.1" transform="rotate(10 590.0 295.5)"/>
<rect x="590.9" y="293.1" width="7.2" height="3.8" rx="1.9" fill="#4c82cc" stroke="#0d1a2e" stroke-width="1.1" transform="rotate(0 594.5 295.0)"/>
<rect x="600.4" y="308.1" width="7.2" height="3.8" rx="1.9" fill="#4c82cc" stroke="#0d1a2e" stroke-width="1.1" transform="rotate(-60 604.0 310.0)"/>
<rect x="603.4" y="304.6" width="7.2" height="3.8" rx="1.9" fill="#4c82cc" stroke="#0d1a2e" stroke-width="1.1" transform="rotate(-50 607.0 306.5)"/>
<rect x="614.9" y="303.1" width="7.2" height="3.8" rx="1.9" fill="#4c82cc" stroke="#0d1a2e" stroke-width="1.1" transform="rotate(10 618.5 305.0)"/>
<rect x="618.4" y="304.6" width="7.2" height="3.8" rx="1.9" fill="#4c82cc" stroke="#0d1a2e" stroke-width="1.1" transform="rotate(20 622.0 306.5)"/>
<rect x="645.9" y="311.6" width="7.2" height="3.8" rx="1.9" fill="#4c82cc" stroke="#0d1a2e" stroke-width="1.1" transform="rotate(60 649.5 313.5)"/>
<rect x="649.9" y="315.6" width="7.2" height="3.8" rx="1.9" fill="#4c82cc" stroke="#0d1a2e" stroke-width="1.1" transform="rotate(50 653.5 317.5)"/>
<rect x="654.9" y="345.6" width="7.2" height="3.8" rx="1.9" fill="#4c82cc" stroke="#0d1a2e" stroke-width="1.1" transform="rotate(-70 658.5 347.5)"/>
<rect x="653.4" y="349.1" width="7.2" height="3.8" rx="1.9" fill="#4c82cc" stroke="#0d1a2e" stroke-width="1.1" transform="rotate(-60 657.0 351.0)"/>
<rect x="611.4" y="341.6" width="7.2" height="3.8" rx="1.9" fill="#4c82cc" stroke="#0d1a2e" stroke-width="1.1" transform="rotate(80 615.0 343.5)"/>
<rect x="611.9" y="346.1" width="7.2" height="3.8" rx="1.9" fill="#4c82cc" stroke="#0d1a2e" stroke-width="1.1" transform="rotate(80 615.5 348.0)"/>
<rect x="561.9" y="335.1" width="7.2" height="3.8" rx="1.9" fill="#4c82cc" stroke="#0d1a2e" stroke-width="1.1" transform="rotate(60 565.5 337.0)"/>
<rect x="564.4" y="338.6" width="7.2" height="3.8" rx="1.9" fill="#4c82cc" stroke="#0d1a2e" stroke-width="1.1" transform="rotate(50 568.0 340.5)"/>
<rect x="566.4" y="341.1" width="7.2" height="3.8" rx="1.9" fill="#4c82cc" stroke="#0d1a2e" stroke-width="1.1" transform="rotate(40 570.0 343.0)"/>
<rect x="576.9" y="339.6" width="7.2" height="3.8" rx="1.9" fill="#4c82cc" stroke="#0d1a2e" stroke-width="1.1" transform="rotate(70 580.5 341.5)"/>
<rect x="580.4" y="340.1" width="7.2" height="3.8" rx="1.9" fill="#4c82cc" stroke="#0d1a2e" stroke-width="1.1" transform="rotate(-10 584.0 342.0)"/>
<rect x="584.4" y="338.6" width="7.2" height="3.8" rx="1.9" fill="#4c82cc" stroke="#0d1a2e" stroke-width="1.1" transform="rotate(20 588.0 340.5)"/>
<rect x="584.9" y="352.1" width="7.2" height="3.8" rx="1.9" fill="#4c82cc" stroke="#0d1a2e" stroke-width="1.1" transform="rotate(-30 588.5 354.0)"/>
<rect x="587.4" y="355.6" width="7.2" height="3.8" rx="1.9" fill="#4c82cc" stroke="#0d1a2e" stroke-width="1.1" transform="rotate(70 591.0 357.5)"/>
<rect x="592.9" y="367.1" width="7.2" height="3.8" rx="1.9" fill="#4c82cc" stroke="#0d1a2e" stroke-width="1.1" transform="rotate(80 596.5 369.0)"/>
<rect x="596.4" y="369.1" width="7.2" height="3.8" rx="1.9" fill="#4c82cc" stroke="#0d1a2e" stroke-width="1.1" transform="rotate(30 600.0 371.0)"/>
<rect x="595.4" y="379.6" width="7.2" height="3.8" rx="1.9" fill="#4c82cc" stroke="#0d1a2e" stroke-width="1.1" transform="rotate(70 599.0 381.5)"/>
<rect x="598.9" y="378.6" width="7.2" height="3.8" rx="1.9" fill="#4c82cc" stroke="#0d1a2e" stroke-width="1.1" transform="rotate(-30 602.5 380.5)"/>
<rect x="600.4" y="392.1" width="7.2" height="3.8" rx="1.9" fill="#4c82cc" stroke="#0d1a2e" stroke-width="1.1" transform="rotate(-10 604.0 394.0)"/>
<rect x="604.9" y="392.6" width="7.2" height="3.8" rx="1.9" fill="#4c82cc" stroke="#0d1a2e" stroke-width="1.1" transform="rotate(0 608.5 394.5)"/>
<rect x="608.4" y="393.6" width="7.2" height="3.8" rx="1.9" fill="#4c82cc" stroke="#0d1a2e" stroke-width="1.1" transform="rotate(30 612.0 395.5)"/>
<rect x="603.4" y="409.1" width="7.2" height="3.8" rx="1.9" fill="#4c82cc" stroke="#0d1a2e" stroke-width="1.1" transform="rotate(60 607.0 411.0)"/>
<rect x="606.4" y="412.1" width="7.2" height="3.8" rx="1.9" fill="#4c82cc" stroke="#0d1a2e" stroke-width="1.1" transform="rotate(40 610.0 414.0)"/>
<rect x="609.9" y="414.1" width="7.2" height="3.8" rx="1.9" fill="#4c82cc" stroke="#0d1a2e" stroke-width="1.1" transform="rotate(10 613.5 416.0)"/>
<rect x="600.9" y="415.1" width="7.2" height="3.8" rx="1.9" fill="#4c82cc" stroke="#0d1a2e" stroke-width="1.1" transform="rotate(80 604.5 417.0)"/>
<rect x="592.9" y="439.1" width="7.2" height="3.8" rx="1.9" fill="#4c82cc" stroke="#0d1a2e" stroke-width="1.1" transform="rotate(70 596.5 441.0)"/>
<rect x="596.4" y="442.1" width="7.2" height="3.8" rx="1.9" fill="#4c82cc" stroke="#0d1a2e" stroke-width="1.1" transform="rotate(60 600.0 444.0)"/>
<rect x="599.9" y="441.1" width="7.2" height="3.8" rx="1.9" fill="#4c82cc" stroke="#0d1a2e" stroke-width="1.1" transform="rotate(-40 603.5 443.0)"/>
<rect x="591.4" y="454.6" width="7.2" height="3.8" rx="1.9" fill="#4c82cc" stroke="#0d1a2e" stroke-width="1.1" transform="rotate(80 595.0 456.5)"/>
<rect x="592.4" y="458.6" width="7.2" height="3.8" rx="1.9" fill="#4c82cc" stroke="#0d1a2e" stroke-width="1.1" transform="rotate(30 596.0 460.5)"/>
<rect x="608.4" y="460.1" width="7.2" height="3.8" rx="1.9" fill="#4c82cc" stroke="#0d1a2e" stroke-width="1.1" transform="rotate(70 612.0 462.0)"/>
<rect x="609.9" y="465.1" width="7.2" height="3.8" rx="1.9" fill="#4c82cc" stroke="#0d1a2e" stroke-width="1.1" transform="rotate(60 613.5 467.0)"/>
<rect x="611.9" y="468.1" width="7.2" height="3.8" rx="1.9" fill="#4c82cc" stroke="#0d1a2e" stroke-width="1.1" transform="rotate(50 615.5 470.0)"/>
<rect x="514.9" y="298.6" width="7.2" height="3.8" rx="1.9" fill="#76c152" stroke="#203d17" stroke-width="1.1" transform="rotate(-20 518.5 300.5)"/>
<rect x="517.9" y="296.6" width="7.2" height="3.8" rx="1.9" fill="#76c152" stroke="#203d17" stroke-width="1.1" transform="rotate(-30 521.5 298.5)"/>
<rect x="501.4" y="313.1" width="7.2" height="3.8" rx="1.9" fill="#76c152" stroke="#203d17" stroke-width="1.1" transform="rotate(80 505.0 315.0)"/>
<rect x="501.9" y="317.6" width="7.2" height="3.8" rx="1.9" fill="#76c152" stroke="#203d17" stroke-width="1.1" transform="rotate(70 505.5 319.5)"/>
<rect x="557.4" y="291.6" width="7.2" height="3.8" rx="1.9" fill="#76c152" stroke="#203d17" stroke-width="1.1" transform="rotate(40 561.0 293.5)"/>
<rect x="521.9" y="343.1" width="7.2" height="3.8" rx="1.9" fill="#76c152" stroke="#203d17" stroke-width="1.1" transform="rotate(50 525.5 345.0)"/>
<rect x="576.9" y="344.1" width="7.2" height="3.8" rx="1.9" fill="#76c152" stroke="#203d17" stroke-width="1.1" transform="rotate(-20 580.5 346.0)"/>
<rect x="580.4" y="345.1" width="7.2" height="3.8" rx="1.9" fill="#76c152" stroke="#203d17" stroke-width="1.1" transform="rotate(-40 584.0 347.0)"/>
<rect x="583.9" y="343.6" width="7.2" height="3.8" rx="1.9" fill="#76c152" stroke="#203d17" stroke-width="1.1" transform="rotate(-60 587.5 345.5)"/>
<rect x="575.4" y="350.1" width="7.2" height="3.8" rx="1.9" fill="#76c152" stroke="#203d17" stroke-width="1.1" transform="rotate(70 579.0 352.0)"/>
<rect x="579.4" y="349.1" width="7.2" height="3.8" rx="1.9" fill="#76c152" stroke="#203d17" stroke-width="1.1" transform="rotate(30 583.0 351.0)"/>
<rect x="593.4" y="371.6" width="7.2" height="3.8" rx="1.9" fill="#76c152" stroke="#203d17" stroke-width="1.1" transform="rotate(60 597.0 373.5)"/>
<rect x="606.4" y="399.6" width="7.2" height="3.8" rx="1.9" fill="#76c152" stroke="#203d17" stroke-width="1.1" transform="rotate(80 610.0 401.5)"/>
<rect x="598.9" y="418.6" width="7.2" height="3.8" rx="1.9" fill="#76c152" stroke="#203d17" stroke-width="1.1" transform="rotate(60 602.5 420.5)"/>
<rect x="601.9" y="421.1" width="7.2" height="3.8" rx="1.9" fill="#76c152" stroke="#203d17" stroke-width="1.1" transform="rotate(40 605.5 423.0)"/>
<rect x="604.4" y="423.6" width="7.2" height="3.8" rx="1.9" fill="#76c152" stroke="#203d17" stroke-width="1.1" transform="rotate(20 608.0 425.5)"/>
<rect x="600.4" y="425.6" width="7.2" height="3.8" rx="1.9" fill="#76c152" stroke="#203d17" stroke-width="1.1" transform="rotate(70 604.0 427.5)"/>
<rect x="590.4" y="444.1" width="7.2" height="3.8" rx="1.9" fill="#76c152" stroke="#203d17" stroke-width="1.1" transform="rotate(80 594.0 446.0)"/>
<rect x="593.9" y="446.6" width="7.2" height="3.8" rx="1.9" fill="#76c152" stroke="#203d17" stroke-width="1.1" transform="rotate(60 597.5 448.5)"/>
<rect x="592.9" y="456.1" width="7.2" height="3.8" rx="1.9" fill="#76c152" stroke="#203d17" stroke-width="1.1" transform="rotate(50 596.5 458.0)"/>
<rect x="610.4" y="304.6" width="7.2" height="3.8" rx="1.9" fill="#76c152" stroke="#203d17" stroke-width="1.1" transform="rotate(-30 614.0 306.5)"/>
<rect x="647.9" y="321.1" width="7.2" height="3.8" rx="1.9" fill="#76c152" stroke="#203d17" stroke-width="1.1" transform="rotate(50 651.5 323.0)"/>
<rect x="643.9" y="354.6" width="7.2" height="3.8" rx="1.9" fill="#76c152" stroke="#203d17" stroke-width="1.1" transform="rotate(20 647.5 356.5)"/>
</g>
<g><path d="M670.8 260.8 C667 272 666.5 287 678 297.5 L690 306.5" fill="none" stroke="#6aab47" stroke-width="2.6" stroke-linecap="round"/><path d="M717.2 327.5 L693.4 293.6 Q692 302 689.6 308.4 Q684 314.5 676.9 317.3 Z" fill="#6dab4f"/></g>
<g transform="translate(-224 0)"><path d="M670.8 260.8 C667 272 666.5 287 678 297.5 L690 306.5" fill="none" stroke="#4a78bb" stroke-width="2.6" stroke-linecap="round"/><path d="M717.2 327.5 L693.4 293.6 Q692 302 689.6 308.4 Q684 314.5 676.9 317.3 Z" fill="#4f7bbb"/></g>
<g>
<path d="M678 377.5 L708 377.5 L708 393 C708 402 694 406 693 412 C694 418 708 422 708 431 L708 447.5 L678 447.5 L678 431 C678 422 692 418 693 412 C692 406 678 402 678 393 Z" fill="#f7f5c6" stroke="#550f86" stroke-width="1.3"/>
<path d="M679 394 C683 392 687 395 691 393.5 C694 397 697 391 700 392 C703 393 705 392 707 393 C707 401 695 405 693 411 C691 405 679 401 679 394 Z" fill="#c9a22a"/>
<path d="M681.5 446.5 C684 440 690 437 693.5 434.5 C697 437 703 440 705.5 446.5 Z" fill="#c9a22a"/>
<line x1="693" y1="413" x2="693" y2="434" stroke="#e2d58a" stroke-width="0.8"/>
<rect x="677.2" y="374.2" width="31.5" height="3.6" fill="#550f86"/>
<rect x="677.2" y="447.0" width="31.5" height="3.6" fill="#550f86"/>
</g>
<path d="M670 469.2 L722 469.2" stroke="#000" stroke-width="4.4" stroke-linecap="butt"/>
<path d="M760.1 469.2 L716.5 453.3 Q723.5 461 721.3 469.2 Q723.5 477.4 716.5 485.6 Z" fill="#000"/>
</svg>
</body></html>
